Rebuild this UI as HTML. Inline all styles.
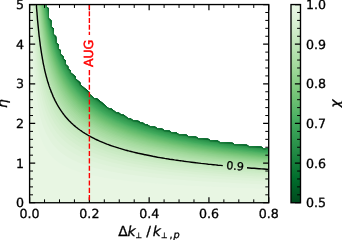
<!DOCTYPE html><html><head><meta charset="utf-8"><title>chi map</title><style>html,body{margin:0;padding:0;background:#fff}svg{text-rendering:geometricPrecision;font-family:"DejaVu Sans","Liberation Sans",sans-serif}</style></head><body><svg width="342" height="240" viewBox="0 0 342 240" style="display:block">
<defs><linearGradient id="cb" x1="0" y1="0" x2="0" y2="1">
<stop offset="0.0000" stop-color="#e9f7e5"/>
<stop offset="0.0312" stop-color="#e5f5e1"/>
<stop offset="0.0625" stop-color="#dff3da"/>
<stop offset="0.0938" stop-color="#d9f0d3"/>
<stop offset="0.1250" stop-color="#d2edcc"/>
<stop offset="0.1562" stop-color="#cbeac4"/>
<stop offset="0.1875" stop-color="#c3e7bc"/>
<stop offset="0.2188" stop-color="#bbe4b4"/>
<stop offset="0.2500" stop-color="#b2e0ac"/>
<stop offset="0.2812" stop-color="#aadda4"/>
<stop offset="0.3125" stop-color="#a2d99c"/>
<stop offset="0.3438" stop-color="#98d594"/>
<stop offset="0.3750" stop-color="#8ed08b"/>
<stop offset="0.4062" stop-color="#84cc83"/>
<stop offset="0.4375" stop-color="#7ac77b"/>
<stop offset="0.4688" stop-color="#70c274"/>
<stop offset="0.5000" stop-color="#65bd6f"/>
<stop offset="0.5312" stop-color="#5ab769"/>
<stop offset="0.5625" stop-color="#4eb264"/>
<stop offset="0.5938" stop-color="#42ab5d"/>
<stop offset="0.6250" stop-color="#3ba458"/>
<stop offset="0.6562" stop-color="#349d53"/>
<stop offset="0.6875" stop-color="#2e964d"/>
<stop offset="0.7188" stop-color="#278f48"/>
<stop offset="0.7500" stop-color="#208843"/>
<stop offset="0.7812" stop-color="#18823d"/>
<stop offset="0.8125" stop-color="#117b38"/>
<stop offset="0.8438" stop-color="#097532"/>
<stop offset="0.8750" stop-color="#016e2d"/>
<stop offset="0.9062" stop-color="#006529"/>
<stop offset="0.9375" stop-color="#005c25"/>
<stop offset="0.9688" stop-color="#005321"/>
<stop offset="1.0000" stop-color="#004a1e"/>
</linearGradient><clipPath id="axc"><rect x="29.6" y="4.55" width="239.1" height="198.2"/></clipPath></defs>
<rect width="342" height="240" fill="#fff"/>
<g clip-path="url(#axc)">
<path fill="#004c1e" d="M32 202.8L34.4 202.8L36.8 202.8L39.3 202.8L41.7 202.8L44.1 202.8L46.5 202.8L48.9 202.8L51.3 202.8L53.8 202.8L56.2 202.8L58.6 202.8L61 202.8L63.4 202.8L65.8 202.8L68.2 202.8L70.7 202.8L73.1 202.8L75.5 202.8L77.9 202.8L80.3 202.8L82.7 202.8L85.1 202.8L87.6 202.8L90 202.8L92.4 202.8L94.8 202.8L97.2 202.8L99.6 202.8L102.1 202.8L104.5 202.8L106.9 202.8L109.3 202.8L111.7 202.8L114.1 202.8L116.5 202.8L119 202.8L121.4 202.8L123.8 202.8L126.2 202.8L128.6 202.8L131 202.8L133.5 202.8L135.9 202.8L138.3 202.8L140.7 202.8L143.1 202.8L145.5 202.8L147.9 202.8L150.4 202.8L152.8 202.8L155.2 202.8L157.6 202.8L160 202.8L162.4 202.8L164.8 202.8L167.3 202.8L169.7 202.8L172.1 202.8L174.5 202.8L176.9 202.8L179.3 202.8L181.8 202.8L184.2 202.8L186.6 202.8L189 202.8L191.4 202.8L193.8 202.8L196.2 202.8L198.7 202.8L201.1 202.8L203.5 202.8L205.9 202.8L208.3 202.8L210.7 202.8L213.2 202.8L215.6 202.8L218 202.8L220.4 202.8L222.8 202.8L225.2 202.8L227.6 202.8L230.1 202.8L232.5 202.8L234.9 202.8L237.3 202.8L239.7 202.8L242.1 202.8L244.5 202.8L247 202.8L249.4 202.8L251.8 202.8L254.2 202.8L256.6 202.8L259 202.8L261.5 202.8L263.9 202.8L266.3 202.8L268.7 202.8L268.7 200.7L268.7 198.7L268.7 196.7L268.7 194.7L268.7 192.7L268.7 190.7L268.7 188.7L268.7 186.7L268.7 184.7L268.7 182.7L268.7 180.7L268.7 178.7L268.7 176.7L268.7 174.7L268.7 172.7L268.7 170.7L268.7 168.7L268.7 166.7L268.7 164.7L268.7 162.7L268.7 160.7L268.7 158.7L268.7 156.7L268.7 154.7L268.7 152.7L268.7 150.7L268.7 148.7L266.3 148.7L263.9 148.7L261.5 146.7L259 146.7L256.6 146.7L254.2 146.7L251.8 146.7L249.4 146.7L247 144.7L244.5 144.7L242.1 144.7L239.7 144.7L237.3 144.7L234.9 144.7L232.5 142.7L230.1 142.7L227.6 142.7L225.2 142.7L222.8 142.7L220.4 142.7L218 140.7L215.6 140.7L213.2 140.7L210.7 140.7L208.3 138.7L205.9 138.7L203.5 138.7L201.1 138.7L198.7 138.7L196.2 136.7L193.8 136.7L191.4 136.7L189 136.7L186.6 134.7L184.2 134.7L181.8 134.7L179.3 134.7L176.9 132.7L174.5 132.7L172.1 132.7L169.7 130.7L167.3 130.7L164.8 130.7L162.4 128.7L160 128.7L157.6 128.7L155.2 126.7L152.8 126.7L150.4 126.7L147.9 124.7L145.5 124.7L143.1 122.7L140.7 122.7L138.3 120.7L135.9 120.7L133.5 120.7L131 118.7L128.6 118.7L126.2 116.7L123.8 114.7L121.4 114.7L119 112.7L116.5 112.7L114.1 110.7L111.7 108.7L109.3 108.7L106.9 106.7L104.5 104.7L102.1 102.6L99.6 100.6L97.2 98.6L94.8 98.6L92.4 96.6L90 94.6L90 92.6L87.6 90.6L85.1 88.6L82.7 86.6L80.3 84.6L80.3 82.6L77.9 80.6L75.5 78.6L75.5 76.6L73.1 74.6L70.7 72.6L70.7 70.6L68.2 68.6L68.2 66.6L65.8 64.6L65.8 62.6L65.8 60.6L63.4 58.6L63.4 56.6L61 54.6L61 52.6L61 50.6L58.6 48.6L58.6 46.6L58.6 44.6L56.2 42.6L56.2 40.6L56.2 38.6L56.2 36.6L53.8 34.6L53.8 32.6L53.8 30.6L53.8 28.6L51.3 26.6L51.3 24.6L51.3 22.6L51.3 20.6L48.9 18.6L48.9 16.6L48.9 14.6L48.9 12.6L48.9 10.6L48.9 8.6L46.5 6.6L46.5 4.6L44.1 4.6L41.7 4.6L39.3 4.6L36.8 4.6L34.4 4.6L32 4.6L29.6 4.6L29.6 6.6L29.6 8.6L29.6 10.6L29.6 12.6L29.6 14.6L29.6 16.6L29.6 18.6L29.6 20.6L29.6 22.6L29.6 24.6L29.6 26.6L29.6 28.6L29.6 30.6L29.6 32.6L29.6 34.6L29.6 36.6L29.6 38.6L29.6 40.6L29.6 42.6L29.6 44.6L29.6 46.6L29.6 48.6L29.6 50.6L29.6 52.6L29.6 54.6L29.6 56.6L29.6 58.6L29.6 60.6L29.6 62.6L29.6 64.6L29.6 66.6L29.6 68.6L29.6 70.6L29.6 72.6L29.6 74.6L29.6 76.6L29.6 78.6L29.6 80.6L29.6 82.6L29.6 84.6L29.6 86.6L29.6 88.6L29.6 90.6L29.6 92.6L29.6 94.6L29.6 96.6L29.6 98.6L29.6 100.6L29.6 102.6L29.6 104.7L29.6 106.7L29.6 108.7L29.6 110.7L29.6 112.7L29.6 114.7L29.6 116.7L29.6 118.7L29.6 120.7L29.6 122.7L29.6 124.7L29.6 126.7L29.6 128.7L29.6 130.7L29.6 132.7L29.6 134.7L29.6 136.7L29.6 138.7L29.6 140.7L29.6 142.7L29.6 144.7L29.6 146.7L29.6 148.7L29.6 150.7L29.6 152.7L29.6 154.7L29.6 156.7L29.6 158.7L29.6 160.7L29.6 162.7L29.6 164.7L29.6 166.7L29.6 168.7L29.6 170.7L29.6 172.7L29.6 174.7L29.6 176.7L29.6 178.7L29.6 180.7L29.6 182.7L29.6 184.7L29.6 186.7L29.6 188.7L29.6 190.7L29.6 192.7L29.6 194.7L29.6 196.7L29.6 198.7L29.6 200.7L29.6 202.8L32 202.8Z"/>
<path fill="#005221" d="M32 202.8L34.4 202.8L36.8 202.8L39.3 202.8L41.7 202.8L44.1 202.8L46.5 202.8L48.9 202.8L51.3 202.8L53.8 202.8L56.2 202.8L58.6 202.8L61 202.8L63.4 202.8L65.8 202.8L68.2 202.8L70.7 202.8L73.1 202.8L75.5 202.8L77.9 202.8L80.3 202.8L82.7 202.8L85.1 202.8L87.6 202.8L90 202.8L92.4 202.8L94.8 202.8L97.2 202.8L99.6 202.8L102.1 202.8L104.5 202.8L106.9 202.8L109.3 202.8L111.7 202.8L114.1 202.8L116.5 202.8L119 202.8L121.4 202.8L123.8 202.8L126.2 202.8L128.6 202.8L131 202.8L133.5 202.8L135.9 202.8L138.3 202.8L140.7 202.8L143.1 202.8L145.5 202.8L147.9 202.8L150.4 202.8L152.8 202.8L155.2 202.8L157.6 202.8L160 202.8L162.4 202.8L164.8 202.8L167.3 202.8L169.7 202.8L172.1 202.8L174.5 202.8L176.9 202.8L179.3 202.8L181.8 202.8L184.2 202.8L186.6 202.8L189 202.8L191.4 202.8L193.8 202.8L196.2 202.8L198.7 202.8L201.1 202.8L203.5 202.8L205.9 202.8L208.3 202.8L210.7 202.8L213.2 202.8L215.6 202.8L218 202.8L220.4 202.8L222.8 202.8L225.2 202.8L227.6 202.8L230.1 202.8L232.5 202.8L234.9 202.8L237.3 202.8L239.7 202.8L242.1 202.8L244.5 202.8L247 202.8L249.4 202.8L251.8 202.8L254.2 202.8L256.6 202.8L259 202.8L261.5 202.8L263.9 202.8L266.3 202.8L268.7 202.8L268.7 200.7L268.7 198.7L268.7 196.7L268.7 194.7L268.7 192.7L268.7 190.7L268.7 188.7L268.7 186.7L268.7 184.7L268.7 182.7L268.7 180.7L268.7 178.7L268.7 176.7L268.7 174.7L268.7 172.7L268.7 170.7L268.7 168.7L268.7 166.7L268.7 164.7L268.7 162.7L268.7 160.7L268.7 158.7L268.7 156.7L268.7 154.7L268.7 152.7L268.7 150.7L268.7 148.7L266.3 148.7L263.9 148.7L261.5 146.7L259 146.7L256.6 146.7L254.2 146.7L251.8 146.7L249.4 146.7L247 144.7L244.5 144.7L242.1 144.7L239.7 144.7L237.3 144.7L234.9 144.7L232.5 142.7L230.1 142.7L227.6 142.7L225.2 142.7L222.8 142.7L220.4 142.7L218 140.7L215.6 140.7L213.2 140.7L210.7 140.7L208.3 138.7L205.9 138.7L203.5 138.7L201.1 138.7L198.7 138.7L196.2 136.7L193.8 136.7L191.4 136.7L189 136.7L186.6 134.7L184.2 134.7L181.8 134.7L179.3 134.7L176.9 132.7L174.5 132.7L172.1 132.7L169.7 130.7L167.3 130.7L164.8 130.7L162.4 128.7L160 128.7L157.6 128.7L155.2 126.7L152.8 126.7L150.4 126.7L147.9 124.7L145.5 124.7L143.1 122.7L140.7 122.7L138.3 120.7L135.9 120.7L133.5 120.7L131 118.7L128.6 118.7L126.2 116.7L123.8 114.7L121.4 114.7L119 112.7L116.5 112.7L114.1 110.7L111.7 108.7L109.3 108.7L106.9 106.7L104.5 104.7L102.1 102.6L99.6 100.6L97.2 98.6L94.8 98.6L92.4 96.6L90 94.6L90 92.6L87.6 90.6L85.1 88.6L82.7 86.6L80.3 84.6L80.3 82.6L77.9 80.6L75.5 78.6L75.5 76.6L73.1 74.6L70.7 72.6L70.7 70.6L68.2 68.6L68.2 66.6L65.8 64.6L65.8 62.6L65.8 60.6L63.4 58.6L63.4 56.6L61 54.6L61 52.6L61 50.6L58.6 48.6L58.6 46.6L58.6 44.6L56.2 42.6L56.2 40.6L56.2 38.6L56.2 36.6L53.8 34.6L53.8 32.6L53.8 30.6L53.8 28.6L51.3 26.6L51.3 24.6L51.3 22.6L51.3 20.6L48.9 18.6L48.9 16.6L48.9 14.6L48.9 12.6L48.9 10.6L48.9 8.6L46.5 6.6L46.5 4.6L44.1 4.6L41.7 4.6L39.3 4.6L36.8 4.6L34.4 4.6L32 4.6L29.6 4.6L29.6 6.6L29.6 8.6L29.6 10.6L29.6 12.6L29.6 14.6L29.6 16.6L29.6 18.6L29.6 20.6L29.6 22.6L29.6 24.6L29.6 26.6L29.6 28.6L29.6 30.6L29.6 32.6L29.6 34.6L29.6 36.6L29.6 38.6L29.6 40.6L29.6 42.6L29.6 44.6L29.6 46.6L29.6 48.6L29.6 50.6L29.6 52.6L29.6 54.6L29.6 56.6L29.6 58.6L29.6 60.6L29.6 62.6L29.6 64.6L29.6 66.6L29.6 68.6L29.6 70.6L29.6 72.6L29.6 74.6L29.6 76.6L29.6 78.6L29.6 80.6L29.6 82.6L29.6 84.6L29.6 86.6L29.6 88.6L29.6 90.6L29.6 92.6L29.6 94.6L29.6 96.6L29.6 98.6L29.6 100.6L29.6 102.6L29.6 104.7L29.6 106.7L29.6 108.7L29.6 110.7L29.6 112.7L29.6 114.7L29.6 116.7L29.6 118.7L29.6 120.7L29.6 122.7L29.6 124.7L29.6 126.7L29.6 128.7L29.6 130.7L29.6 132.7L29.6 134.7L29.6 136.7L29.6 138.7L29.6 140.7L29.6 142.7L29.6 144.7L29.6 146.7L29.6 148.7L29.6 150.7L29.6 152.7L29.6 154.7L29.6 156.7L29.6 158.7L29.6 160.7L29.6 162.7L29.6 164.7L29.6 166.7L29.6 168.7L29.6 170.7L29.6 172.7L29.6 174.7L29.6 176.7L29.6 178.7L29.6 180.7L29.6 182.7L29.6 184.7L29.6 186.7L29.6 188.7L29.6 190.7L29.6 192.7L29.6 194.7L29.6 196.7L29.6 198.7L29.6 200.7L29.6 202.8L32 202.8Z"/>
<path fill="#005723" d="M32 202.8L34.4 202.8L36.8 202.8L39.3 202.8L41.7 202.8L44.1 202.8L46.5 202.8L48.9 202.8L51.3 202.8L53.8 202.8L56.2 202.8L58.6 202.8L61 202.8L63.4 202.8L65.8 202.8L68.2 202.8L70.7 202.8L73.1 202.8L75.5 202.8L77.9 202.8L80.3 202.8L82.7 202.8L85.1 202.8L87.6 202.8L90 202.8L92.4 202.8L94.8 202.8L97.2 202.8L99.6 202.8L102.1 202.8L104.5 202.8L106.9 202.8L109.3 202.8L111.7 202.8L114.1 202.8L116.5 202.8L119 202.8L121.4 202.8L123.8 202.8L126.2 202.8L128.6 202.8L131 202.8L133.5 202.8L135.9 202.8L138.3 202.8L140.7 202.8L143.1 202.8L145.5 202.8L147.9 202.8L150.4 202.8L152.8 202.8L155.2 202.8L157.6 202.8L160 202.8L162.4 202.8L164.8 202.8L167.3 202.8L169.7 202.8L172.1 202.8L174.5 202.8L176.9 202.8L179.3 202.8L181.8 202.8L184.2 202.8L186.6 202.8L189 202.8L191.4 202.8L193.8 202.8L196.2 202.8L198.7 202.8L201.1 202.8L203.5 202.8L205.9 202.8L208.3 202.8L210.7 202.8L213.2 202.8L215.6 202.8L218 202.8L220.4 202.8L222.8 202.8L225.2 202.8L227.6 202.8L230.1 202.8L232.5 202.8L234.9 202.8L237.3 202.8L239.7 202.8L242.1 202.8L244.5 202.8L247 202.8L249.4 202.8L251.8 202.8L254.2 202.8L256.6 202.8L259 202.8L261.5 202.8L263.9 202.8L266.3 202.8L268.7 202.8L268.7 200.7L268.7 198.7L268.7 196.7L268.7 194.7L268.7 192.7L268.7 190.7L268.7 188.7L268.7 186.7L268.7 184.7L268.7 182.7L268.7 180.7L268.7 178.7L268.7 176.7L268.7 174.7L268.7 172.7L268.7 170.7L268.7 168.7L268.7 166.7L268.7 164.7L268.7 162.7L268.7 160.7L268.7 158.7L268.7 156.7L268.7 154.7L268.7 152.7L268.7 150.7L268.7 148.7L266.3 148.7L263.9 148.7L261.5 146.7L259 146.7L256.6 146.7L254.2 146.7L251.8 146.7L249.4 146.7L247 144.7L244.5 144.7L242.1 144.7L239.7 144.7L237.3 144.7L234.9 144.7L232.5 142.7L230.1 142.7L227.6 142.7L225.2 142.7L222.8 142.7L220.4 142.7L218 140.7L215.6 140.7L213.2 140.7L210.7 140.7L208.3 138.7L205.9 138.7L203.5 138.7L201.1 138.7L198.7 138.7L196.2 136.7L193.8 136.7L191.4 136.7L189 136.7L186.6 134.7L184.2 134.7L181.8 134.7L179.3 134.7L176.9 132.7L174.5 132.7L172.1 132.7L169.7 130.7L167.3 130.7L164.8 130.7L162.4 128.7L160 128.7L157.6 128.7L155.2 126.7L152.8 126.7L150.4 126.7L147.9 124.7L145.5 124.7L143.1 122.7L140.7 122.7L138.3 120.7L135.9 120.7L133.5 120.7L131 118.7L128.6 118.7L126.2 116.7L123.8 114.7L121.4 114.7L119 112.7L116.5 112.7L114.1 110.7L111.7 108.7L109.3 108.7L106.9 106.7L104.5 104.7L102.1 102.6L99.6 100.6L97.2 98.6L94.8 98.6L92.4 96.6L90 94.6L90 92.6L87.6 90.6L85.1 88.6L82.7 86.6L80.3 84.6L80.3 82.6L77.9 80.6L75.5 78.6L75.5 76.6L73.1 74.6L70.7 72.6L70.7 70.6L68.2 68.6L68.2 66.6L65.8 64.6L65.8 62.6L65.8 60.6L63.4 58.6L63.4 56.6L61 54.6L61 52.6L61 50.6L58.6 48.6L58.6 46.6L58.6 44.6L56.2 42.6L56.2 40.6L56.2 38.6L56.2 36.6L53.8 34.6L53.8 32.6L53.8 30.6L53.8 28.6L51.3 26.6L51.3 24.6L51.3 22.6L51.3 20.6L48.9 18.6L48.9 16.6L48.9 14.6L48.9 12.6L48.9 10.6L48.9 8.6L46.5 6.6L46.5 4.6L44.1 4.6L41.7 4.6L39.3 4.6L36.8 4.6L34.4 4.6L32 4.6L29.6 4.6L29.6 6.6L29.6 8.6L29.6 10.6L29.6 12.6L29.6 14.6L29.6 16.6L29.6 18.6L29.6 20.6L29.6 22.6L29.6 24.6L29.6 26.6L29.6 28.6L29.6 30.6L29.6 32.6L29.6 34.6L29.6 36.6L29.6 38.6L29.6 40.6L29.6 42.6L29.6 44.6L29.6 46.6L29.6 48.6L29.6 50.6L29.6 52.6L29.6 54.6L29.6 56.6L29.6 58.6L29.6 60.6L29.6 62.6L29.6 64.6L29.6 66.6L29.6 68.6L29.6 70.6L29.6 72.6L29.6 74.6L29.6 76.6L29.6 78.6L29.6 80.6L29.6 82.6L29.6 84.6L29.6 86.6L29.6 88.6L29.6 90.6L29.6 92.6L29.6 94.6L29.6 96.6L29.6 98.6L29.6 100.6L29.6 102.6L29.6 104.7L29.6 106.7L29.6 108.7L29.6 110.7L29.6 112.7L29.6 114.7L29.6 116.7L29.6 118.7L29.6 120.7L29.6 122.7L29.6 124.7L29.6 126.7L29.6 128.7L29.6 130.7L29.6 132.7L29.6 134.7L29.6 136.7L29.6 138.7L29.6 140.7L29.6 142.7L29.6 144.7L29.6 146.7L29.6 148.7L29.6 150.7L29.6 152.7L29.6 154.7L29.6 156.7L29.6 158.7L29.6 160.7L29.6 162.7L29.6 164.7L29.6 166.7L29.6 168.7L29.6 170.7L29.6 172.7L29.6 174.7L29.6 176.7L29.6 178.7L29.6 180.7L29.6 182.7L29.6 184.7L29.6 186.7L29.6 188.7L29.6 190.7L29.6 192.7L29.6 194.7L29.6 196.7L29.6 198.7L29.6 200.7L29.6 202.8L32 202.8Z"/>
<path fill="#005e26" d="M32 202.8L34.4 202.8L36.8 202.8L39.3 202.8L41.7 202.8L44.1 202.8L46.5 202.8L48.9 202.8L51.3 202.8L53.8 202.8L56.2 202.8L58.6 202.8L61 202.8L63.4 202.8L65.8 202.8L68.2 202.8L70.7 202.8L73.1 202.8L75.5 202.8L77.9 202.8L80.3 202.8L82.7 202.8L85.1 202.8L87.6 202.8L90 202.8L92.4 202.8L94.8 202.8L97.2 202.8L99.6 202.8L102.1 202.8L104.5 202.8L106.9 202.8L109.3 202.8L111.7 202.8L114.1 202.8L116.5 202.8L119 202.8L121.4 202.8L123.8 202.8L126.2 202.8L128.6 202.8L131 202.8L133.5 202.8L135.9 202.8L138.3 202.8L140.7 202.8L143.1 202.8L145.5 202.8L147.9 202.8L150.4 202.8L152.8 202.8L155.2 202.8L157.6 202.8L160 202.8L162.4 202.8L164.8 202.8L167.3 202.8L169.7 202.8L172.1 202.8L174.5 202.8L176.9 202.8L179.3 202.8L181.8 202.8L184.2 202.8L186.6 202.8L189 202.8L191.4 202.8L193.8 202.8L196.2 202.8L198.7 202.8L201.1 202.8L203.5 202.8L205.9 202.8L208.3 202.8L210.7 202.8L213.2 202.8L215.6 202.8L218 202.8L220.4 202.8L222.8 202.8L225.2 202.8L227.6 202.8L230.1 202.8L232.5 202.8L234.9 202.8L237.3 202.8L239.7 202.8L242.1 202.8L244.5 202.8L247 202.8L249.4 202.8L251.8 202.8L254.2 202.8L256.6 202.8L259 202.8L261.5 202.8L263.9 202.8L266.3 202.8L268.7 202.8L268.7 200.7L268.7 198.7L268.7 196.7L268.7 194.7L268.7 192.7L268.7 190.7L268.7 188.7L268.7 186.7L268.7 184.7L268.7 182.7L268.7 180.7L268.7 178.7L268.7 176.7L268.7 174.7L268.7 172.7L268.7 170.7L268.7 168.7L268.7 166.7L268.7 164.7L268.7 162.7L268.7 160.7L268.7 158.7L268.7 156.7L268.7 154.7L268.7 152.7L268.7 150.7L268.7 148.7L266.3 148.7L263.9 148.7L261.5 146.7L259 146.7L256.6 146.7L254.2 146.7L251.8 146.7L249.4 146.7L247 144.7L244.5 144.7L242.1 144.7L239.7 144.7L237.3 144.7L234.9 144.7L232.5 142.7L230.1 142.7L227.6 142.7L225.2 142.7L222.8 142.7L220.4 142.7L218 140.7L215.6 140.7L213.2 140.7L210.7 140.7L208.3 138.7L205.9 138.7L203.5 138.7L201.1 138.7L198.7 138.7L196.2 136.7L193.8 136.7L191.4 136.7L189 136.7L186.6 134.7L184.2 134.7L181.8 134.7L179.3 134.7L176.9 132.7L174.5 132.7L172.1 132.7L169.7 130.7L167.3 130.7L164.8 130.7L162.4 128.7L160 128.7L157.6 128.7L155.2 126.7L152.8 126.7L150.4 126.7L147.9 124.7L145.5 124.7L143.1 122.7L140.7 122.7L138.3 120.7L135.9 120.7L133.5 120.7L131 118.7L128.6 118.7L126.2 116.7L123.8 114.7L121.4 114.7L119 112.7L116.5 112.7L114.1 110.7L111.7 108.7L109.3 108.7L106.9 106.7L104.5 104.7L102.1 102.6L99.6 100.6L97.2 98.6L94.8 98.6L92.4 96.6L90 94.6L90 92.6L87.6 90.6L85.1 88.6L82.7 86.6L80.3 84.6L80.3 82.6L77.9 80.6L75.5 78.6L75.5 76.6L73.1 74.6L70.7 72.6L70.7 70.6L68.2 68.6L68.2 66.6L65.8 64.6L65.8 62.6L65.8 60.6L63.4 58.6L63.4 56.6L61 54.6L61 52.6L61 50.6L58.6 48.6L58.6 46.6L58.6 44.6L56.2 42.6L56.2 40.6L56.2 38.6L56.2 36.6L53.8 34.6L53.8 32.6L53.8 30.6L53.8 28.6L51.3 26.6L51.3 24.6L51.3 22.6L51.3 20.6L48.9 18.6L48.9 16.6L48.9 14.6L48.9 12.6L48.9 10.6L48.9 8.6L46.5 6.6L46.5 4.6L44.1 4.6L41.7 4.6L39.3 4.6L36.8 4.6L34.4 4.6L32 4.6L29.6 4.6L29.6 6.6L29.6 8.6L29.6 10.6L29.6 12.6L29.6 14.6L29.6 16.6L29.6 18.6L29.6 20.6L29.6 22.6L29.6 24.6L29.6 26.6L29.6 28.6L29.6 30.6L29.6 32.6L29.6 34.6L29.6 36.6L29.6 38.6L29.6 40.6L29.6 42.6L29.6 44.6L29.6 46.6L29.6 48.6L29.6 50.6L29.6 52.6L29.6 54.6L29.6 56.6L29.6 58.6L29.6 60.6L29.6 62.6L29.6 64.6L29.6 66.6L29.6 68.6L29.6 70.6L29.6 72.6L29.6 74.6L29.6 76.6L29.6 78.6L29.6 80.6L29.6 82.6L29.6 84.6L29.6 86.6L29.6 88.6L29.6 90.6L29.6 92.6L29.6 94.6L29.6 96.6L29.6 98.6L29.6 100.6L29.6 102.6L29.6 104.7L29.6 106.7L29.6 108.7L29.6 110.7L29.6 112.7L29.6 114.7L29.6 116.7L29.6 118.7L29.6 120.7L29.6 122.7L29.6 124.7L29.6 126.7L29.6 128.7L29.6 130.7L29.6 132.7L29.6 134.7L29.6 136.7L29.6 138.7L29.6 140.7L29.6 142.7L29.6 144.7L29.6 146.7L29.6 148.7L29.6 150.7L29.6 152.7L29.6 154.7L29.6 156.7L29.6 158.7L29.6 160.7L29.6 162.7L29.6 164.7L29.6 166.7L29.6 168.7L29.6 170.7L29.6 172.7L29.6 174.7L29.6 176.7L29.6 178.7L29.6 180.7L29.6 182.7L29.6 184.7L29.6 186.7L29.6 188.7L29.6 190.7L29.6 192.7L29.6 194.7L29.6 196.7L29.6 198.7L29.6 200.7L29.6 202.8L32 202.8Z"/>
<path fill="#006428" d="M32 202.8L34.4 202.8L36.8 202.8L39.3 202.8L41.7 202.8L44.1 202.8L46.5 202.8L48.9 202.8L51.3 202.8L53.8 202.8L56.2 202.8L58.6 202.8L61 202.8L63.4 202.8L65.8 202.8L68.2 202.8L70.7 202.8L73.1 202.8L75.5 202.8L77.9 202.8L80.3 202.8L82.7 202.8L85.1 202.8L87.6 202.8L90 202.8L92.4 202.8L94.8 202.8L97.2 202.8L99.6 202.8L102.1 202.8L104.5 202.8L106.9 202.8L109.3 202.8L111.7 202.8L114.1 202.8L116.5 202.8L119 202.8L121.4 202.8L123.8 202.8L126.2 202.8L128.6 202.8L131 202.8L133.5 202.8L135.9 202.8L138.3 202.8L140.7 202.8L143.1 202.8L145.5 202.8L147.9 202.8L150.4 202.8L152.8 202.8L155.2 202.8L157.6 202.8L160 202.8L162.4 202.8L164.8 202.8L167.3 202.8L169.7 202.8L172.1 202.8L174.5 202.8L176.9 202.8L179.3 202.8L181.8 202.8L184.2 202.8L186.6 202.8L189 202.8L191.4 202.8L193.8 202.8L196.2 202.8L198.7 202.8L201.1 202.8L203.5 202.8L205.9 202.8L208.3 202.8L210.7 202.8L213.2 202.8L215.6 202.8L218 202.8L220.4 202.8L222.8 202.8L225.2 202.8L227.6 202.8L230.1 202.8L232.5 202.8L234.9 202.8L237.3 202.8L239.7 202.8L242.1 202.8L244.5 202.8L247 202.8L249.4 202.8L251.8 202.8L254.2 202.8L256.6 202.8L259 202.8L261.5 202.8L263.9 202.8L266.3 202.8L268.7 202.8L268.7 200.7L268.7 198.7L268.7 196.7L268.7 194.7L268.7 192.7L268.7 190.7L268.7 188.7L268.7 186.7L268.7 184.7L268.7 182.7L268.7 180.7L268.7 178.7L268.7 176.7L268.7 174.7L268.7 172.7L268.7 170.7L268.7 168.7L268.7 166.7L268.7 164.7L268.7 162.7L268.7 160.7L268.7 158.7L268.7 156.7L268.7 154.7L268.7 152.7L268.7 150.7L268.7 148.7L266.3 148.7L263.9 148.7L261.5 146.7L259 146.7L256.6 146.7L254.2 146.7L251.8 146.7L249.4 146.7L247 144.7L246.8 144.7L244.5 144.7L242.1 144.7L239.7 144.7L237.3 144.7L234.9 144.7L232.5 142.7L230.1 142.7L227.6 142.7L225.2 142.7L222.8 142.7L220.4 142.7L218 140.7L215.6 140.7L213.2 140.7L210.7 140.7L208.4 138.8L208.3 138.8L208 138.7L205.9 138.7L203.5 138.7L201.1 138.7L198.7 138.7L196.2 136.7L193.8 136.7L191.4 136.7L189 136.7L186.6 134.7L184.2 134.7L181.8 134.7L179.3 134.7L176.9 132.7L174.5 132.7L172.1 132.7L169.7 130.7L167.3 130.7L164.8 130.7L162.4 128.7L160 128.7L157.6 128.7L155.2 126.7L152.8 126.7L150.4 126.7L147.9 124.7L145.5 124.7L143.1 122.7L140.7 122.7L138.3 120.7L135.9 120.7L133.5 120.7L131 118.7L128.6 118.7L126.2 116.7L123.8 114.7L121.4 114.7L119 112.7L116.5 112.7L114.1 110.7L111.7 108.7L109.3 108.7L106.9 106.7L104.5 104.7L102.1 102.6L99.6 100.6L97.8 99.2L97.2 98.7L97.1 98.6L94.8 98.6L92.4 96.6L90 94.6L90 92.6L87.6 90.6L85.1 88.6L82.7 86.6L80.3 84.6L80.3 82.6L77.9 80.6L75.5 78.6L75.5 76.6L73.1 74.6L70.7 72.6L70.7 70.6L68.2 68.6L68.2 66.6L65.8 64.6L65.8 62.6L65.8 60.6L63.4 58.6L63.4 56.6L61 54.6L61 52.6L61 50.6L58.6 48.6L58.6 46.6L58.6 44.6L56.2 42.6L56.2 40.6L56.2 38.6L56.2 36.8L56.1 36.6L56.1 36.5L53.8 34.6L53.8 32.6L53.8 30.6L53.8 28.6L53.7 28.6L53.7 28.5L51.3 26.6L51.3 24.6L51.3 22.6L51.3 20.6L48.9 18.6L48.9 16.6L48.9 14.6L48.9 12.6L48.9 10.6L48.9 8.6L46.5 6.6L46.5 4.6L44.1 4.6L41.7 4.6L39.3 4.6L36.8 4.6L34.4 4.6L32 4.6L29.6 4.6L29.6 6.6L29.6 8.6L29.6 10.6L29.6 12.6L29.6 14.6L29.6 16.6L29.6 18.6L29.6 20.6L29.6 22.6L29.6 24.6L29.6 26.6L29.6 28.6L29.6 30.6L29.6 32.6L29.6 34.6L29.6 36.6L29.6 38.6L29.6 40.6L29.6 42.6L29.6 44.6L29.6 46.6L29.6 48.6L29.6 50.6L29.6 52.6L29.6 54.6L29.6 56.6L29.6 58.6L29.6 60.6L29.6 62.6L29.6 64.6L29.6 66.6L29.6 68.6L29.6 70.6L29.6 72.6L29.6 74.6L29.6 76.6L29.6 78.6L29.6 80.6L29.6 82.6L29.6 84.6L29.6 86.6L29.6 88.6L29.6 90.6L29.6 92.6L29.6 94.6L29.6 96.6L29.6 98.6L29.6 100.6L29.6 102.6L29.6 104.7L29.6 106.7L29.6 108.7L29.6 110.7L29.6 112.7L29.6 114.7L29.6 116.7L29.6 118.7L29.6 120.7L29.6 122.7L29.6 124.7L29.6 126.7L29.6 128.7L29.6 130.7L29.6 132.7L29.6 134.7L29.6 136.7L29.6 138.7L29.6 140.7L29.6 142.7L29.6 144.7L29.6 146.7L29.6 148.7L29.6 150.7L29.6 152.7L29.6 154.7L29.6 156.7L29.6 158.7L29.6 160.7L29.6 162.7L29.6 164.7L29.6 166.7L29.6 168.7L29.6 170.7L29.6 172.7L29.6 174.7L29.6 176.7L29.6 178.7L29.6 180.7L29.6 182.7L29.6 184.7L29.6 186.7L29.6 188.7L29.6 190.7L29.6 192.7L29.6 194.7L29.6 196.7L29.6 198.7L29.6 200.7L29.6 202.8L32 202.8Z"/>
<path fill="#00692a" d="M32 202.8L34.4 202.8L36.8 202.8L39.3 202.8L41.7 202.8L44.1 202.8L46.5 202.8L48.9 202.8L51.3 202.8L53.8 202.8L56.2 202.8L58.6 202.8L61 202.8L63.4 202.8L65.8 202.8L68.2 202.8L70.7 202.8L73.1 202.8L75.5 202.8L77.9 202.8L80.3 202.8L82.7 202.8L85.1 202.8L87.6 202.8L90 202.8L92.4 202.8L94.8 202.8L97.2 202.8L99.6 202.8L102.1 202.8L104.5 202.8L106.9 202.8L109.3 202.8L111.7 202.8L114.1 202.8L116.5 202.8L119 202.8L121.4 202.8L123.8 202.8L126.2 202.8L128.6 202.8L131 202.8L133.5 202.8L135.9 202.8L138.3 202.8L140.7 202.8L143.1 202.8L145.5 202.8L147.9 202.8L150.4 202.8L152.8 202.8L155.2 202.8L157.6 202.8L160 202.8L162.4 202.8L164.8 202.8L167.3 202.8L169.7 202.8L172.1 202.8L174.5 202.8L176.9 202.8L179.3 202.8L181.8 202.8L184.2 202.8L186.6 202.8L189 202.8L191.4 202.8L193.8 202.8L196.2 202.8L198.7 202.8L201.1 202.8L203.5 202.8L205.9 202.8L208.3 202.8L210.7 202.8L213.2 202.8L215.6 202.8L218 202.8L220.4 202.8L222.8 202.8L225.2 202.8L227.6 202.8L230.1 202.8L232.5 202.8L234.9 202.8L237.3 202.8L239.7 202.8L242.1 202.8L244.5 202.8L247 202.8L249.4 202.8L251.8 202.8L254.2 202.8L256.6 202.8L259 202.8L261.5 202.8L263.9 202.8L266.3 202.8L268.7 202.8L268.7 200.7L268.7 198.7L268.7 196.7L268.7 194.7L268.7 192.7L268.7 190.7L268.7 188.7L268.7 186.7L268.7 184.7L268.7 182.7L268.7 180.7L268.7 178.7L268.7 176.7L268.7 174.7L268.7 172.7L268.7 170.7L268.7 168.7L268.7 166.7L268.7 164.7L268.7 162.7L268.7 160.7L268.7 158.7L268.7 156.7L268.7 154.7L268.7 152.7L268.7 150.7L268.7 148.7L266.3 148.7L263.9 148.7L261.5 146.7L259 146.7L256.6 146.7L254.2 146.7L251.8 146.7L249.4 146.7L247.2 144.9L247 144.9L245.9 144.7L244.5 144.7L242.1 144.7L239.7 144.7L237.3 144.7L234.9 144.7L232.7 142.9L232.5 142.8L231.8 142.7L230.1 142.7L227.6 142.7L225.2 142.7L222.8 142.7L220.4 142.7L218 140.7L215.6 140.7L213.2 140.7L210.7 140.7L208.7 139L208.3 139L207.3 138.7L205.9 138.7L203.5 138.7L201.1 138.7L198.7 138.7L196.2 136.7L193.8 136.7L191.4 136.7L189 136.7L186.6 134.7L184.2 134.7L181.8 134.7L179.3 134.7L176.9 132.7L174.5 132.7L172.1 132.7L169.7 130.7L167.3 130.7L164.8 130.7L162.4 128.7L160 128.7L157.6 128.7L155.2 126.7L152.8 126.7L150.4 126.7L147.9 124.7L145.5 124.7L143.1 122.7L140.7 122.7L138.7 121L138.3 120.9L137.8 120.7L135.9 120.7L133.5 120.7L131 118.7L128.6 118.7L126.2 116.7L124.1 114.9L123.8 114.8L123.6 114.7L121.4 114.7L119 112.7L116.5 112.7L114.1 110.7L111.7 108.7L109.3 108.7L106.9 106.7L104.5 104.7L102.1 102.6L100.1 101L99.6 100.7L99.5 100.6L97.2 99L96.8 98.6L94.8 98.6L92.4 96.6L90 94.6L90 92.9L89.7 92.6L88.1 91.1L87.6 90.6L85.1 88.6L82.7 86.6L80.3 84.6L80.3 82.9L80.1 82.6L79.8 82.2L77.9 80.6L75.5 78.6L75.5 76.7L75.4 76.6L75.4 76.5L73.1 74.6L70.7 72.6L70.7 70.6L68.2 68.6L68.2 66.6L65.8 64.6L65.8 62.6L65.8 60.9L65.6 60.6L65.6 60.4L63.4 58.6L63.4 56.6L61 54.6L61 52.6L61 50.6L58.6 48.6L58.6 46.6L58.6 44.6L56.2 42.6L56.2 40.6L56.2 38.6L56.2 37.1L55.9 36.6L55.9 36.3L53.8 34.6L53.8 32.6L53.8 30.6L53.8 29L53.5 28.6L53.5 28.4L51.3 26.6L51.3 24.6L51.3 22.6L51.3 20.6L48.9 18.6L48.9 16.6L48.9 14.6L48.9 12.6L48.9 10.6L48.9 8.6L46.5 6.6L46.5 4.6L44.1 4.6L41.7 4.6L39.3 4.6L36.8 4.6L34.4 4.6L32 4.6L29.6 4.6L29.6 6.6L29.6 8.6L29.6 10.6L29.6 12.6L29.6 14.6L29.6 16.6L29.6 18.6L29.6 20.6L29.6 22.6L29.6 24.6L29.6 26.6L29.6 28.6L29.6 30.6L29.6 32.6L29.6 34.6L29.6 36.6L29.6 38.6L29.6 40.6L29.6 42.6L29.6 44.6L29.6 46.6L29.6 48.6L29.6 50.6L29.6 52.6L29.6 54.6L29.6 56.6L29.6 58.6L29.6 60.6L29.6 62.6L29.6 64.6L29.6 66.6L29.6 68.6L29.6 70.6L29.6 72.6L29.6 74.6L29.6 76.6L29.6 78.6L29.6 80.6L29.6 82.6L29.6 84.6L29.6 86.6L29.6 88.6L29.6 90.6L29.6 92.6L29.6 94.6L29.6 96.6L29.6 98.6L29.6 100.6L29.6 102.6L29.6 104.7L29.6 106.7L29.6 108.7L29.6 110.7L29.6 112.7L29.6 114.7L29.6 116.7L29.6 118.7L29.6 120.7L29.6 122.7L29.6 124.7L29.6 126.7L29.6 128.7L29.6 130.7L29.6 132.7L29.6 134.7L29.6 136.7L29.6 138.7L29.6 140.7L29.6 142.7L29.6 144.7L29.6 146.7L29.6 148.7L29.6 150.7L29.6 152.7L29.6 154.7L29.6 156.7L29.6 158.7L29.6 160.7L29.6 162.7L29.6 164.7L29.6 166.7L29.6 168.7L29.6 170.7L29.6 172.7L29.6 174.7L29.6 176.7L29.6 178.7L29.6 180.7L29.6 182.7L29.6 184.7L29.6 186.7L29.6 188.7L29.6 190.7L29.6 192.7L29.6 194.7L29.6 196.7L29.6 198.7L29.6 200.7L29.6 202.8L32 202.8Z"/>
<path fill="#026f2e" d="M32 202.8L34.4 202.8L36.8 202.8L39.3 202.8L41.7 202.8L44.1 202.8L46.5 202.8L48.9 202.8L51.3 202.8L53.8 202.8L56.2 202.8L58.6 202.8L61 202.8L63.4 202.8L65.8 202.8L68.2 202.8L70.7 202.8L73.1 202.8L75.5 202.8L77.9 202.8L80.3 202.8L82.7 202.8L85.1 202.8L87.6 202.8L90 202.8L92.4 202.8L94.8 202.8L97.2 202.8L99.6 202.8L102.1 202.8L104.5 202.8L106.9 202.8L109.3 202.8L111.7 202.8L114.1 202.8L116.5 202.8L119 202.8L121.4 202.8L123.8 202.8L126.2 202.8L128.6 202.8L131 202.8L133.5 202.8L135.9 202.8L138.3 202.8L140.7 202.8L143.1 202.8L145.5 202.8L147.9 202.8L150.4 202.8L152.8 202.8L155.2 202.8L157.6 202.8L160 202.8L162.4 202.8L164.8 202.8L167.3 202.8L169.7 202.8L172.1 202.8L174.5 202.8L176.9 202.8L179.3 202.8L181.8 202.8L184.2 202.8L186.6 202.8L189 202.8L191.4 202.8L193.8 202.8L196.2 202.8L198.7 202.8L201.1 202.8L203.5 202.8L205.9 202.8L208.3 202.8L210.7 202.8L213.2 202.8L215.6 202.8L218 202.8L220.4 202.8L222.8 202.8L225.2 202.8L227.6 202.8L230.1 202.8L232.5 202.8L234.9 202.8L237.3 202.8L239.7 202.8L242.1 202.8L244.5 202.8L247 202.8L249.4 202.8L251.8 202.8L254.2 202.8L256.6 202.8L259 202.8L261.5 202.8L263.9 202.8L266.3 202.8L268.7 202.8L268.7 200.7L268.7 198.7L268.7 196.7L268.7 194.7L268.7 192.7L268.7 190.7L268.7 188.7L268.7 186.7L268.7 184.7L268.7 182.7L268.7 180.7L268.7 178.7L268.7 176.7L268.7 174.7L268.7 172.7L268.7 170.7L268.7 168.7L268.7 166.7L268.7 164.7L268.7 162.7L268.7 160.7L268.7 158.7L268.7 156.7L268.7 154.7L268.7 152.7L268.7 150.7L268.7 148.7L266.3 148.7L263.9 148.7L261.6 146.8L261.5 146.8L260.7 146.7L259 146.7L256.6 146.7L254.2 146.7L251.8 146.7L249.4 146.7L247.5 145.1L247 145.1L245.1 144.7L244.5 144.7L242.1 144.7L239.7 144.7L237.3 144.7L234.9 144.7L232.9 143.1L232.5 143L230.9 142.7L230.1 142.7L227.6 142.7L225.2 142.7L222.8 142.7L220.4 142.7L218 140.7L215.6 140.7L213.2 140.7L210.7 140.7L208.9 139.2L208.3 139.1L206.6 138.7L205.9 138.7L203.5 138.7L201.1 138.7L198.7 138.7L196.3 136.8L196.2 136.8L196 136.7L193.8 136.7L191.4 136.7L189 136.7L186.7 134.8L186.6 134.7L186.4 134.7L184.2 134.7L181.8 134.7L179.3 134.7L176.9 132.7L174.5 132.7L172.1 132.7L169.8 130.8L169.7 130.8L169.4 130.7L167.3 130.7L164.8 130.7L162.7 128.9L162.4 128.9L161.9 128.7L160 128.7L157.6 128.7L155.2 126.7L155.1 126.7L152.8 126.7L150.4 126.7L147.9 124.7L145.5 124.7L143.3 122.8L143.1 122.8L142.8 122.7L140.7 122.7L139.1 121.3L138.3 121.1L137.3 120.7L135.9 120.7L133.5 120.7L131 118.7L128.6 118.7L126.2 116.7L124.6 115.3L123.8 115L123.1 114.7L121.4 114.7L119 112.7L116.5 112.7L114.1 110.7L111.9 108.8L111.7 108.7L111.6 108.7L109.3 108.7L106.9 106.7L104.5 104.7L102.1 102.6L101.8 102.4L99.6 101L99.2 100.6L97.2 99.2L96.5 98.6L94.8 98.6L92.4 96.6L90 94.6L90 93.2L89.4 92.6L87.6 90.8L87.3 90.6L86.6 89.8L85.1 88.6L82.7 86.6L80.3 84.6L80.3 83.2L79.8 82.6L79.1 81.6L77.9 80.6L75.5 78.6L75.5 77L75.2 76.6L74.9 76.1L73.1 74.6L70.7 72.6L70.7 70.6L68.2 68.6L68.2 66.6L65.8 64.6L65.8 62.6L65.8 61.2L65.4 60.6L65.3 60.1L63.4 58.6L63.4 56.6L61 54.6L61 52.6L61 50.6L58.6 48.6L58.6 46.6L58.6 44.6L56.2 42.6L56.2 40.6L56.2 38.6L56.2 37.5L55.7 36.6L55.6 36.1L53.8 34.6L53.8 32.6L53.8 30.6L53.8 29.4L53.3 28.6L53.3 28.2L51.3 26.6L51.3 24.6L51.3 22.6L51.3 20.6L48.9 18.6L48.9 16.6L48.9 14.6L48.9 12.6L48.9 10.6L48.9 8.9L48.8 8.6L48.8 8.4L46.5 6.6L46.5 4.6L44.1 4.6L41.7 4.6L39.3 4.6L36.8 4.6L34.4 4.6L32 4.6L29.6 4.6L29.6 6.6L29.6 8.6L29.6 10.6L29.6 12.6L29.6 14.6L29.6 16.6L29.6 18.6L29.6 20.6L29.6 22.6L29.6 24.6L29.6 26.6L29.6 28.6L29.6 30.6L29.6 32.6L29.6 34.6L29.6 36.6L29.6 38.6L29.6 40.6L29.6 42.6L29.6 44.6L29.6 46.6L29.6 48.6L29.6 50.6L29.6 52.6L29.6 54.6L29.6 56.6L29.6 58.6L29.6 60.6L29.6 62.6L29.6 64.6L29.6 66.6L29.6 68.6L29.6 70.6L29.6 72.6L29.6 74.6L29.6 76.6L29.6 78.6L29.6 80.6L29.6 82.6L29.6 84.6L29.6 86.6L29.6 88.6L29.6 90.6L29.6 92.6L29.6 94.6L29.6 96.6L29.6 98.6L29.6 100.6L29.6 102.6L29.6 104.7L29.6 106.7L29.6 108.7L29.6 110.7L29.6 112.7L29.6 114.7L29.6 116.7L29.6 118.7L29.6 120.7L29.6 122.7L29.6 124.7L29.6 126.7L29.6 128.7L29.6 130.7L29.6 132.7L29.6 134.7L29.6 136.7L29.6 138.7L29.6 140.7L29.6 142.7L29.6 144.7L29.6 146.7L29.6 148.7L29.6 150.7L29.6 152.7L29.6 154.7L29.6 156.7L29.6 158.7L29.6 160.7L29.6 162.7L29.6 164.7L29.6 166.7L29.6 168.7L29.6 170.7L29.6 172.7L29.6 174.7L29.6 176.7L29.6 178.7L29.6 180.7L29.6 182.7L29.6 184.7L29.6 186.7L29.6 188.7L29.6 190.7L29.6 192.7L29.6 194.7L29.6 196.7L29.6 198.7L29.6 200.7L29.6 202.8L32 202.8Z"/>
<path fill="#077331" d="M32 202.8L34.4 202.8L36.8 202.8L39.3 202.8L41.7 202.8L44.1 202.8L46.5 202.8L48.9 202.8L51.3 202.8L53.8 202.8L56.2 202.8L58.6 202.8L61 202.8L63.4 202.8L65.8 202.8L68.2 202.8L70.7 202.8L73.1 202.8L75.5 202.8L77.9 202.8L80.3 202.8L82.7 202.8L85.1 202.8L87.6 202.8L90 202.8L92.4 202.8L94.8 202.8L97.2 202.8L99.6 202.8L102.1 202.8L104.5 202.8L106.9 202.8L109.3 202.8L111.7 202.8L114.1 202.8L116.5 202.8L119 202.8L121.4 202.8L123.8 202.8L126.2 202.8L128.6 202.8L131 202.8L133.5 202.8L135.9 202.8L138.3 202.8L140.7 202.8L143.1 202.8L145.5 202.8L147.9 202.8L150.4 202.8L152.8 202.8L155.2 202.8L157.6 202.8L160 202.8L162.4 202.8L164.8 202.8L167.3 202.8L169.7 202.8L172.1 202.8L174.5 202.8L176.9 202.8L179.3 202.8L181.8 202.8L184.2 202.8L186.6 202.8L189 202.8L191.4 202.8L193.8 202.8L196.2 202.8L198.7 202.8L201.1 202.8L203.5 202.8L205.9 202.8L208.3 202.8L210.7 202.8L213.2 202.8L215.6 202.8L218 202.8L220.4 202.8L222.8 202.8L225.2 202.8L227.6 202.8L230.1 202.8L232.5 202.8L234.9 202.8L237.3 202.8L239.7 202.8L242.1 202.8L244.5 202.8L247 202.8L249.4 202.8L251.8 202.8L254.2 202.8L256.6 202.8L259 202.8L261.5 202.8L263.9 202.8L266.3 202.8L268.7 202.8L268.7 200.7L268.7 198.7L268.7 196.7L268.7 194.7L268.7 192.7L268.7 190.7L268.7 188.7L268.7 186.7L268.7 184.7L268.7 182.7L268.7 180.7L268.7 178.7L268.7 176.7L268.7 174.7L268.7 172.7L268.7 170.7L268.7 168.7L268.7 166.7L268.7 164.7L268.7 162.7L268.7 160.7L268.7 158.7L268.7 156.7L268.7 154.7L268.7 152.7L268.7 150.7L268.7 148.7L266.3 148.7L263.9 148.7L261.9 147.1L261.5 147L259.8 146.7L259 146.7L256.6 146.7L254.2 146.7L251.8 146.7L249.4 146.7L247.7 145.3L247 145.3L244.5 144.8L244.2 144.7L242.1 144.7L239.7 144.7L237.3 144.7L234.9 144.7L233.2 143.3L232.5 143.2L230.1 142.7L227.6 142.7L225.2 142.7L222.8 142.7L220.4 142.7L218.2 140.9L218 140.8L217.4 140.7L215.6 140.7L213.2 140.7L210.7 140.7L209.2 139.4L208.3 139.3L205.9 138.7L205.8 138.7L203.5 138.7L201.1 138.7L198.7 138.7L196.6 137L196.2 137L195.3 136.7L193.8 136.7L191.4 136.7L189 136.7L187 135L186.6 135L185.7 134.7L184.2 134.7L181.8 134.7L179.3 134.7L176.9 132.7L174.5 132.7L172.1 132.7L170.1 131.1L169.7 131L168.8 130.7L167.3 130.7L164.8 130.7L163.1 129.2L162.4 129.1L161.4 128.7L160 128.7L157.6 128.7L155.6 127L155.2 126.9L154.5 126.7L152.8 126.7L150.4 126.7L147.9 124.7L145.5 124.7L143.7 123.2L143.1 123L142.3 122.7L140.7 122.7L139.5 121.7L138.3 121.3L136.9 120.7L135.9 120.7L133.5 120.7L131 118.7L128.6 118.7L126.2 116.7L125.1 115.7L123.8 115.2L122.7 114.7L121.4 114.7L119.4 113L119 112.8L118.7 112.7L116.5 112.7L114.1 110.7L112.6 109.4L111.7 109L111.2 108.7L109.3 108.7L106.9 106.7L104.5 104.7L103.3 103.6L102.1 102.9L101.7 102.6L99.6 101.2L98.9 100.6L97.2 99.5L96.2 98.6L94.8 98.6L92.4 96.6L90 94.6L90 93.4L89.1 92.6L87.6 91.1L87 90.6L85.1 88.6L82.7 86.6L80.3 84.6L80.3 83.4L79.6 82.6L78.5 81.1L77.9 80.6L75.5 78.6L75.5 77.3L74.9 76.6L74.4 75.7L73.1 74.6L70.7 72.6L70.7 70.6L68.2 68.6L68.2 66.6L65.8 64.6L65.8 62.6L65.8 61.5L65.2 60.6L65 59.9L63.4 58.6L63.4 56.6L61 54.6L61 52.6L61 51L60.7 50.6L60.7 50.3L58.6 48.6L58.6 46.6L58.6 44.8L58.5 44.6L58.4 44.5L56.2 42.6L56.2 40.6L56.2 38.6L56.2 37.8L55.5 36.6L55.4 36L53.8 34.6L53.8 32.6L53.8 30.6L53.8 29.8L53.1 28.6L53.1 28L51.3 26.6L51.3 24.6L51.3 22.6L51.3 20.6L48.9 18.6L48.9 16.6L48.9 14.6L48.9 12.6L48.9 10.6L48.9 9.3L48.6 8.6L48.6 8.3L46.5 6.6L46.5 4.6L44.1 4.6L41.7 4.6L39.3 4.6L36.8 4.6L34.4 4.6L32 4.6L29.6 4.6L29.6 6.6L29.6 8.6L29.6 10.6L29.6 12.6L29.6 14.6L29.6 16.6L29.6 18.6L29.6 20.6L29.6 22.6L29.6 24.6L29.6 26.6L29.6 28.6L29.6 30.6L29.6 32.6L29.6 34.6L29.6 36.6L29.6 38.6L29.6 40.6L29.6 42.6L29.6 44.6L29.6 46.6L29.6 48.6L29.6 50.6L29.6 52.6L29.6 54.6L29.6 56.6L29.6 58.6L29.6 60.6L29.6 62.6L29.6 64.6L29.6 66.6L29.6 68.6L29.6 70.6L29.6 72.6L29.6 74.6L29.6 76.6L29.6 78.6L29.6 80.6L29.6 82.6L29.6 84.6L29.6 86.6L29.6 88.6L29.6 90.6L29.6 92.6L29.6 94.6L29.6 96.6L29.6 98.6L29.6 100.6L29.6 102.6L29.6 104.7L29.6 106.7L29.6 108.7L29.6 110.7L29.6 112.7L29.6 114.7L29.6 116.7L29.6 118.7L29.6 120.7L29.6 122.7L29.6 124.7L29.6 126.7L29.6 128.7L29.6 130.7L29.6 132.7L29.6 134.7L29.6 136.7L29.6 138.7L29.6 140.7L29.6 142.7L29.6 144.7L29.6 146.7L29.6 148.7L29.6 150.7L29.6 152.7L29.6 154.7L29.6 156.7L29.6 158.7L29.6 160.7L29.6 162.7L29.6 164.7L29.6 166.7L29.6 168.7L29.6 170.7L29.6 172.7L29.6 174.7L29.6 176.7L29.6 178.7L29.6 180.7L29.6 182.7L29.6 184.7L29.6 186.7L29.6 188.7L29.6 190.7L29.6 192.7L29.6 194.7L29.6 196.7L29.6 198.7L29.6 200.7L29.6 202.8L32 202.8Z"/>
<path fill="#0c7735" d="M32 202.8L34.4 202.8L36.8 202.8L39.3 202.8L41.7 202.8L44.1 202.8L46.5 202.8L48.9 202.8L51.3 202.8L53.8 202.8L56.2 202.8L58.6 202.8L61 202.8L63.4 202.8L65.8 202.8L68.2 202.8L70.7 202.8L73.1 202.8L75.5 202.8L77.9 202.8L80.3 202.8L82.7 202.8L85.1 202.8L87.6 202.8L90 202.8L92.4 202.8L94.8 202.8L97.2 202.8L99.6 202.8L102.1 202.8L104.5 202.8L106.9 202.8L109.3 202.8L111.7 202.8L114.1 202.8L116.5 202.8L119 202.8L121.4 202.8L123.8 202.8L126.2 202.8L128.6 202.8L131 202.8L133.5 202.8L135.9 202.8L138.3 202.8L140.7 202.8L143.1 202.8L145.5 202.8L147.9 202.8L150.4 202.8L152.8 202.8L155.2 202.8L157.6 202.8L160 202.8L162.4 202.8L164.8 202.8L167.3 202.8L169.7 202.8L172.1 202.8L174.5 202.8L176.9 202.8L179.3 202.8L181.8 202.8L184.2 202.8L186.6 202.8L189 202.8L191.4 202.8L193.8 202.8L196.2 202.8L198.7 202.8L201.1 202.8L203.5 202.8L205.9 202.8L208.3 202.8L210.7 202.8L213.2 202.8L215.6 202.8L218 202.8L220.4 202.8L222.8 202.8L225.2 202.8L227.6 202.8L230.1 202.8L232.5 202.8L234.9 202.8L237.3 202.8L239.7 202.8L242.1 202.8L244.5 202.8L247 202.8L249.4 202.8L251.8 202.8L254.2 202.8L256.6 202.8L259 202.8L261.5 202.8L263.9 202.8L266.3 202.8L268.7 202.8L268.7 200.7L268.7 198.7L268.7 196.7L268.7 194.7L268.7 192.7L268.7 190.7L268.7 188.7L268.7 186.7L268.7 184.7L268.7 182.7L268.7 180.7L268.7 178.7L268.7 176.7L268.7 174.7L268.7 172.7L268.7 170.7L268.7 168.7L268.7 166.7L268.7 164.7L268.7 162.7L268.7 160.7L268.7 158.7L268.7 156.7L268.7 154.7L268.7 152.7L268.7 150.7L268.7 148.7L266.3 148.7L263.9 148.7L262.1 147.3L261.5 147.2L259 146.8L258.7 146.7L256.6 146.7L254.2 146.7L251.8 146.7L249.4 146.7L247.9 145.5L247 145.4L244.5 145L243.2 144.7L242.1 144.7L239.7 144.7L237.3 144.7L234.9 144.7L233.4 143.5L232.5 143.4L230.1 142.9L229.2 142.7L227.6 142.7L225.2 142.7L222.8 142.7L220.4 142.7L218.5 141.1L218 141.1L216.5 140.7L215.6 140.7L213.2 140.7L210.7 140.7L209.4 139.6L208.3 139.5L205.9 138.9L205 138.7L203.5 138.7L201.1 138.7L198.7 138.7L196.9 137.3L196.2 137.2L194.5 136.7L193.8 136.7L191.4 136.7L189 136.7L187.3 135.3L186.6 135.2L184.9 134.7L184.2 134.7L181.8 134.7L179.3 134.7L177.3 133L176.9 132.9L176.2 132.7L174.5 132.7L172.1 132.7L170.5 131.3L169.7 131.2L168.2 130.7L167.3 130.7L164.8 130.7L163.4 129.5L162.4 129.3L160.8 128.7L160 128.7L157.6 128.7L156 127.3L155.2 127.2L153.9 126.7L152.8 126.7L150.4 126.7L148.1 124.8L147.9 124.8L147.7 124.7L145.5 124.7L144.1 123.5L143.1 123.3L141.8 122.7L140.7 122.7L139.9 122L138.3 121.5L136.4 120.7L135.9 120.7L133.5 120.7L131 118.7L128.6 118.7L126.2 116.7L125.6 116.2L123.8 115.5L122.3 114.7L121.4 114.7L120 113.5L119 113.1L118.2 112.7L116.5 112.7L114.1 110.7L113.4 110.1L111.7 109.2L110.8 108.7L109.3 108.7L106.9 106.7L104.6 104.8L104.5 104.7L104.4 104.7L102.1 103.2L101.3 102.6L99.6 101.5L98.5 100.6L97.2 99.7L95.9 98.6L94.8 98.6L92.4 96.6L90 94.6L90 93.7L88.8 92.6L87.6 91.4L86.7 90.6L85.1 89L84.8 88.6L84 87.6L82.7 86.6L80.3 84.6L80.3 83.7L79.3 82.6L77.9 80.7L77.9 80.6L77.8 80.6L75.5 78.6L75.5 77.6L74.6 76.6L73.9 75.3L73.1 74.6L70.7 72.6L70.7 70.6L68.2 68.6L68.2 66.6L65.8 64.6L65.8 62.6L65.8 61.9L65 60.6L64.7 59.6L63.4 58.6L63.4 56.9L63.2 56.6L63.2 56.4L61 54.6L61 52.6L61 51.4L60.5 50.6L60.4 50.1L58.6 48.6L58.6 46.6L58.6 45.2L58.2 44.6L58.2 44.2L56.2 42.6L56.2 40.6L56.2 38.6L56.2 38.2L55.3 36.6L55.2 35.8L53.8 34.6L53.8 32.6L53.8 30.6L53.8 30.1L53 28.6L52.9 27.9L51.3 26.6L51.3 24.6L51.3 22.6L51.3 20.8L51.2 20.6L51.2 20.5L48.9 18.6L48.9 16.6L48.9 14.6L48.9 12.6L48.9 10.6L48.9 9.8L48.4 8.6L48.4 8.1L46.5 6.6L46.5 4.6L44.1 4.6L41.7 4.6L39.3 4.6L36.8 4.6L34.4 4.6L32 4.6L29.6 4.6L29.6 6.6L29.6 8.6L29.6 10.6L29.6 12.6L29.6 14.6L29.6 16.6L29.6 18.6L29.6 20.6L29.6 22.6L29.6 24.6L29.6 26.6L29.6 28.6L29.6 30.6L29.6 32.6L29.6 34.6L29.6 36.6L29.6 38.6L29.6 40.6L29.6 42.6L29.6 44.6L29.6 46.6L29.6 48.6L29.6 50.6L29.6 52.6L29.6 54.6L29.6 56.6L29.6 58.6L29.6 60.6L29.6 62.6L29.6 64.6L29.6 66.6L29.6 68.6L29.6 70.6L29.6 72.6L29.6 74.6L29.6 76.6L29.6 78.6L29.6 80.6L29.6 82.6L29.6 84.6L29.6 86.6L29.6 88.6L29.6 90.6L29.6 92.6L29.6 94.6L29.6 96.6L29.6 98.6L29.6 100.6L29.6 102.6L29.6 104.7L29.6 106.7L29.6 108.7L29.6 110.7L29.6 112.7L29.6 114.7L29.6 116.7L29.6 118.7L29.6 120.7L29.6 122.7L29.6 124.7L29.6 126.7L29.6 128.7L29.6 130.7L29.6 132.7L29.6 134.7L29.6 136.7L29.6 138.7L29.6 140.7L29.6 142.7L29.6 144.7L29.6 146.7L29.6 148.7L29.6 150.7L29.6 152.7L29.6 154.7L29.6 156.7L29.6 158.7L29.6 160.7L29.6 162.7L29.6 164.7L29.6 166.7L29.6 168.7L29.6 170.7L29.6 172.7L29.6 174.7L29.6 176.7L29.6 178.7L29.6 180.7L29.6 182.7L29.6 184.7L29.6 186.7L29.6 188.7L29.6 190.7L29.6 192.7L29.6 194.7L29.6 196.7L29.6 198.7L29.6 200.7L29.6 202.8L32 202.8Z"/>
<path fill="#117b38" d="M32 202.8L34.4 202.8L36.8 202.8L39.3 202.8L41.7 202.8L44.1 202.8L46.5 202.8L48.9 202.8L51.3 202.8L53.8 202.8L56.2 202.8L58.6 202.8L61 202.8L63.4 202.8L65.8 202.8L68.2 202.8L70.7 202.8L73.1 202.8L75.5 202.8L77.9 202.8L80.3 202.8L82.7 202.8L85.1 202.8L87.6 202.8L90 202.8L92.4 202.8L94.8 202.8L97.2 202.8L99.6 202.8L102.1 202.8L104.5 202.8L106.9 202.8L109.3 202.8L111.7 202.8L114.1 202.8L116.5 202.8L119 202.8L121.4 202.8L123.8 202.8L126.2 202.8L128.6 202.8L131 202.8L133.5 202.8L135.9 202.8L138.3 202.8L140.7 202.8L143.1 202.8L145.5 202.8L147.9 202.8L150.4 202.8L152.8 202.8L155.2 202.8L157.6 202.8L160 202.8L162.4 202.8L164.8 202.8L167.3 202.8L169.7 202.8L172.1 202.8L174.5 202.8L176.9 202.8L179.3 202.8L181.8 202.8L184.2 202.8L186.6 202.8L189 202.8L191.4 202.8L193.8 202.8L196.2 202.8L198.7 202.8L201.1 202.8L203.5 202.8L205.9 202.8L208.3 202.8L210.7 202.8L213.2 202.8L215.6 202.8L218 202.8L220.4 202.8L222.8 202.8L225.2 202.8L227.6 202.8L230.1 202.8L232.5 202.8L234.9 202.8L237.3 202.8L239.7 202.8L242.1 202.8L244.5 202.8L247 202.8L249.4 202.8L251.8 202.8L254.2 202.8L256.6 202.8L259 202.8L261.5 202.8L263.9 202.8L266.3 202.8L268.7 202.8L268.7 200.7L268.7 198.7L268.7 196.7L268.7 194.7L268.7 192.7L268.7 190.7L268.7 188.7L268.7 186.7L268.7 184.7L268.7 182.7L268.7 180.7L268.7 178.7L268.7 176.7L268.7 174.7L268.7 172.7L268.7 170.7L268.7 168.7L268.7 166.7L268.7 164.7L268.7 162.7L268.7 160.7L268.7 158.7L268.7 156.7L268.7 154.7L268.7 152.7L268.7 150.7L268.7 148.7L266.3 148.7L263.9 148.7L262.4 147.5L261.5 147.4L259 147L257.6 146.7L256.6 146.7L254.2 146.7L251.8 146.7L249.4 146.7L248.2 145.7L247 145.6L244.5 145.2L242.2 144.7L242.1 144.7L239.7 144.7L237.3 144.7L234.9 144.7L233.7 143.7L232.5 143.6L230.1 143.1L228.2 142.7L227.6 142.7L225.2 142.7L222.8 142.7L220.4 142.7L218.8 141.4L218 141.3L215.6 140.7L213.2 140.7L210.7 140.7L209.7 139.8L208.3 139.7L205.9 139.2L204.1 138.7L203.5 138.7L201.1 138.7L198.7 138.7L197.2 137.5L196.2 137.4L193.8 136.7L191.4 136.7L189 136.7L187.6 135.5L186.6 135.4L184.2 134.7L181.8 134.7L179.3 134.7L177.6 133.3L176.9 133.2L175.5 132.7L174.5 132.7L172.1 132.7L170.8 131.6L169.7 131.4L167.5 130.7L167.3 130.7L164.8 130.7L163.7 129.8L162.4 129.5L160.2 128.7L160 128.7L157.6 128.7L156.4 127.6L155.2 127.4L153.3 126.7L152.8 126.7L150.4 126.7L148.6 125.2L147.9 125.1L147 124.7L145.5 124.7L144.5 123.9L143.1 123.5L141.3 122.7L140.7 122.7L140.3 122.3L138.3 121.8L135.9 120.7L133.5 120.7L131.1 118.8L131 118.7L130.9 118.7L128.6 118.7L126.2 116.7L126.1 116.6L123.8 115.7L121.9 114.7L121.4 114.7L120.6 114.1L119 113.4L117.8 112.7L116.5 112.7L114.2 110.7L114.1 110.7L111.7 109.5L110.4 108.7L109.3 108.7L106.9 106.7L105.9 105.9L104.5 105L104 104.7L102.1 103.5L101 102.6L99.6 101.8L98.2 100.6L97.2 100L95.6 98.6L94.8 98.6L92.4 96.6L90 94.6L90 93.9L88.5 92.6L87.6 91.7L86.4 90.6L85.1 89.3L84.5 88.6L82.8 86.7L82.7 86.6L80.3 84.6L80.3 84L79 82.6L77.9 81L77.5 80.6L77.1 80L75.5 78.6L75.5 77.9L74.4 76.6L73.4 74.9L73.1 74.6L70.7 72.6L70.7 70.7L70.6 70.6L68.2 68.6L68.2 66.6L65.8 64.6L65.8 62.6L65.8 62.2L64.7 60.6L64.4 59.4L63.4 58.6L63.4 57.3L62.9 56.6L62.8 56.1L61 54.6L61 52.6L61 51.8L60.2 50.6L60.1 49.9L58.6 48.6L58.6 46.6L58.6 45.6L58 44.6L57.9 44L56.2 42.6L56.2 40.6L56.2 38.6L56.2 38.5L55.1 36.6L55 35.6L53.8 34.6L53.8 32.6L53.8 30.6L53.8 30.5L52.8 28.6L52.7 27.7L51.3 26.6L51.3 24.6L51.3 22.6L51.3 21.3L51 20.6L51 20.3L48.9 18.6L48.9 16.6L48.9 14.6L48.9 12.6L48.9 10.6L48.9 10.2L48.2 8.6L48.2 7.9L46.5 6.6L46.5 4.6L44.1 4.6L41.7 4.6L39.3 4.6L36.8 4.6L34.4 4.6L32 4.6L29.6 4.6L29.6 6.6L29.6 8.6L29.6 10.6L29.6 12.6L29.6 14.6L29.6 16.6L29.6 18.6L29.6 20.6L29.6 22.6L29.6 24.6L29.6 26.6L29.6 28.6L29.6 30.6L29.6 32.6L29.6 34.6L29.6 36.6L29.6 38.6L29.6 40.6L29.6 42.6L29.6 44.6L29.6 46.6L29.6 48.6L29.6 50.6L29.6 52.6L29.6 54.6L29.6 56.6L29.6 58.6L29.6 60.6L29.6 62.6L29.6 64.6L29.6 66.6L29.6 68.6L29.6 70.6L29.6 72.6L29.6 74.6L29.6 76.6L29.6 78.6L29.6 80.6L29.6 82.6L29.6 84.6L29.6 86.6L29.6 88.6L29.6 90.6L29.6 92.6L29.6 94.6L29.6 96.6L29.6 98.6L29.6 100.6L29.6 102.6L29.6 104.7L29.6 106.7L29.6 108.7L29.6 110.7L29.6 112.7L29.6 114.7L29.6 116.7L29.6 118.7L29.6 120.7L29.6 122.7L29.6 124.7L29.6 126.7L29.6 128.7L29.6 130.7L29.6 132.7L29.6 134.7L29.6 136.7L29.6 138.7L29.6 140.7L29.6 142.7L29.6 144.7L29.6 146.7L29.6 148.7L29.6 150.7L29.6 152.7L29.6 154.7L29.6 156.7L29.6 158.7L29.6 160.7L29.6 162.7L29.6 164.7L29.6 166.7L29.6 168.7L29.6 170.7L29.6 172.7L29.6 174.7L29.6 176.7L29.6 178.7L29.6 180.7L29.6 182.7L29.6 184.7L29.6 186.7L29.6 188.7L29.6 190.7L29.6 192.7L29.6 194.7L29.6 196.7L29.6 198.7L29.6 200.7L29.6 202.8L32 202.8Z"/>
<path fill="#157f3b" d="M32 202.8L34.4 202.8L36.8 202.8L39.3 202.8L41.7 202.8L44.1 202.8L46.5 202.8L48.9 202.8L51.3 202.8L53.8 202.8L56.2 202.8L58.6 202.8L61 202.8L63.4 202.8L65.8 202.8L68.2 202.8L70.7 202.8L73.1 202.8L75.5 202.8L77.9 202.8L80.3 202.8L82.7 202.8L85.1 202.8L87.6 202.8L90 202.8L92.4 202.8L94.8 202.8L97.2 202.8L99.6 202.8L102.1 202.8L104.5 202.8L106.9 202.8L109.3 202.8L111.7 202.8L114.1 202.8L116.5 202.8L119 202.8L121.4 202.8L123.8 202.8L126.2 202.8L128.6 202.8L131 202.8L133.5 202.8L135.9 202.8L138.3 202.8L140.7 202.8L143.1 202.8L145.5 202.8L147.9 202.8L150.4 202.8L152.8 202.8L155.2 202.8L157.6 202.8L160 202.8L162.4 202.8L164.8 202.8L167.3 202.8L169.7 202.8L172.1 202.8L174.5 202.8L176.9 202.8L179.3 202.8L181.8 202.8L184.2 202.8L186.6 202.8L189 202.8L191.4 202.8L193.8 202.8L196.2 202.8L198.7 202.8L201.1 202.8L203.5 202.8L205.9 202.8L208.3 202.8L210.7 202.8L213.2 202.8L215.6 202.8L218 202.8L220.4 202.8L222.8 202.8L225.2 202.8L227.6 202.8L230.1 202.8L232.5 202.8L234.9 202.8L237.3 202.8L239.7 202.8L242.1 202.8L244.5 202.8L247 202.8L249.4 202.8L251.8 202.8L254.2 202.8L256.6 202.8L259 202.8L261.5 202.8L263.9 202.8L266.3 202.8L268.7 202.8L268.7 200.7L268.7 198.7L268.7 196.7L268.7 194.7L268.7 192.7L268.7 190.7L268.7 188.7L268.7 186.7L268.7 184.7L268.7 182.7L268.7 180.7L268.7 178.7L268.7 176.7L268.7 174.7L268.7 172.7L268.7 170.7L268.7 168.7L268.7 166.7L268.7 164.7L268.7 162.7L268.7 160.7L268.7 158.7L268.7 156.7L268.7 154.7L268.7 152.7L268.7 150.7L268.7 148.7L266.3 148.7L263.9 148.7L262.7 147.7L261.5 147.6L259 147.3L256.6 146.7L256.4 146.7L254.2 146.7L251.8 146.7L249.4 146.7L248.4 145.9L247 145.8L244.5 145.5L242.1 145L241 144.7L239.7 144.7L237.3 144.7L234.9 144.7L233.9 143.9L232.5 143.8L230.1 143.4L227.6 142.8L227.1 142.7L225.2 142.7L222.8 142.7L220.4 142.7L219.1 141.6L218 141.5L215.6 141L214.6 140.7L213.2 140.7L210.7 140.7L209.9 140L208.3 139.9L205.9 139.4L203.5 138.8L203.2 138.7L201.1 138.7L198.7 138.7L197.5 137.8L196.2 137.6L193.8 137L192.8 136.7L191.4 136.7L189 136.7L187.9 135.8L186.6 135.6L184.2 135L183.4 134.7L181.8 134.7L179.3 134.7L178 133.6L176.9 133.4L174.7 132.7L174.5 132.7L172.1 132.7L171.2 131.9L169.7 131.7L167.3 130.9L166.8 130.7L164.8 130.7L164.1 130L162.4 129.7L160 128.9L159.4 128.7L157.6 128.7L156.7 128L155.2 127.7L152.8 126.7L152.7 126.7L150.4 126.7L149 125.6L147.9 125.3L146.4 124.7L145.5 124.7L145 124.2L143.1 123.7L140.7 122.7L140.7 122.6L138.3 122L135.9 121L135.3 120.7L133.5 120.7L131.8 119.3L131 119.1L130.3 118.7L128.6 118.7L126.8 117.1L126.2 117L125.7 116.7L123.8 115.9L121.4 114.7L121.3 114.6L119 113.6L117.3 112.7L116.5 112.7L115.1 111.5L114.1 111L113.5 110.7L111.7 109.8L110 108.7L109.3 108.7L107.2 106.9L106.9 106.8L106.7 106.7L104.5 105.3L103.5 104.7L102.1 103.7L100.6 102.6L99.6 102L97.8 100.6L97.2 100.2L95.3 98.6L94.8 98.6L92.4 96.6L90 94.6L90 94.2L88.2 92.6L87.6 92L86.1 90.6L85.1 89.6L84.1 88.6L82.7 87L82.3 86.6L81.7 85.7L80.3 84.6L80.3 84.3L78.8 82.6L77.9 81.4L77.2 80.6L76.4 79.4L75.5 78.6L75.5 78.2L74.1 76.6L73.1 74.7L73 74.6L72.9 74.5L70.7 72.6L70.7 71.1L70.3 70.6L70.1 70.1L68.2 68.6L68.2 67L67.9 66.6L67.8 66.2L65.8 64.6L65.8 62.6L65.8 62.5L64.5 60.6L64.1 59.2L63.4 58.6L63.4 57.7L62.7 56.6L62.5 55.8L61 54.6L61 52.6L61 52.2L60 50.6L59.8 49.6L58.6 48.6L58.6 46.6L58.6 46L57.7 44.6L57.6 43.8L56.2 42.6L56.2 40.6L56.2 39L55.9 38.6L54.9 36.6L54.8 35.4L53.8 34.6L53.8 32.6L53.8 31L53.5 30.6L52.6 28.6L52.5 27.5L51.3 26.6L51.3 24.6L51.3 22.6L51.3 21.8L50.8 20.6L50.7 20L48.9 18.6L48.9 16.6L48.9 14.6L48.9 12.6L48.9 10.7L48.9 10.6L48 8.6L48 7.8L46.5 6.6L46.5 4.6L44.1 4.6L41.7 4.6L39.3 4.6L36.8 4.6L34.4 4.6L32 4.6L29.6 4.6L29.6 6.6L29.6 8.6L29.6 10.6L29.6 12.6L29.6 14.6L29.6 16.6L29.6 18.6L29.6 20.6L29.6 22.6L29.6 24.6L29.6 26.6L29.6 28.6L29.6 30.6L29.6 32.6L29.6 34.6L29.6 36.6L29.6 38.6L29.6 40.6L29.6 42.6L29.6 44.6L29.6 46.6L29.6 48.6L29.6 50.6L29.6 52.6L29.6 54.6L29.6 56.6L29.6 58.6L29.6 60.6L29.6 62.6L29.6 64.6L29.6 66.6L29.6 68.6L29.6 70.6L29.6 72.6L29.6 74.6L29.6 76.6L29.6 78.6L29.6 80.6L29.6 82.6L29.6 84.6L29.6 86.6L29.6 88.6L29.6 90.6L29.6 92.6L29.6 94.6L29.6 96.6L29.6 98.6L29.6 100.6L29.6 102.6L29.6 104.7L29.6 106.7L29.6 108.7L29.6 110.7L29.6 112.7L29.6 114.7L29.6 116.7L29.6 118.7L29.6 120.7L29.6 122.7L29.6 124.7L29.6 126.7L29.6 128.7L29.6 130.7L29.6 132.7L29.6 134.7L29.6 136.7L29.6 138.7L29.6 140.7L29.6 142.7L29.6 144.7L29.6 146.7L29.6 148.7L29.6 150.7L29.6 152.7L29.6 154.7L29.6 156.7L29.6 158.7L29.6 160.7L29.6 162.7L29.6 164.7L29.6 166.7L29.6 168.7L29.6 170.7L29.6 172.7L29.6 174.7L29.6 176.7L29.6 178.7L29.6 180.7L29.6 182.7L29.6 184.7L29.6 186.7L29.6 188.7L29.6 190.7L29.6 192.7L29.6 194.7L29.6 196.7L29.6 198.7L29.6 200.7L29.6 202.8L32 202.8Z"/>
<path fill="#1a843f" d="M32 202.8L34.4 202.8L36.8 202.8L39.3 202.8L41.7 202.8L44.1 202.8L46.5 202.8L48.9 202.8L51.3 202.8L53.8 202.8L56.2 202.8L58.6 202.8L61 202.8L63.4 202.8L65.8 202.8L68.2 202.8L70.7 202.8L73.1 202.8L75.5 202.8L77.9 202.8L80.3 202.8L82.7 202.8L85.1 202.8L87.6 202.8L90 202.8L92.4 202.8L94.8 202.8L97.2 202.8L99.6 202.8L102.1 202.8L104.5 202.8L106.9 202.8L109.3 202.8L111.7 202.8L114.1 202.8L116.5 202.8L119 202.8L121.4 202.8L123.8 202.8L126.2 202.8L128.6 202.8L131 202.8L133.5 202.8L135.9 202.8L138.3 202.8L140.7 202.8L143.1 202.8L145.5 202.8L147.9 202.8L150.4 202.8L152.8 202.8L155.2 202.8L157.6 202.8L160 202.8L162.4 202.8L164.8 202.8L167.3 202.8L169.7 202.8L172.1 202.8L174.5 202.8L176.9 202.8L179.3 202.8L181.8 202.8L184.2 202.8L186.6 202.8L189 202.8L191.4 202.8L193.8 202.8L196.2 202.8L198.7 202.8L201.1 202.8L203.5 202.8L205.9 202.8L208.3 202.8L210.7 202.8L213.2 202.8L215.6 202.8L218 202.8L220.4 202.8L222.8 202.8L225.2 202.8L227.6 202.8L230.1 202.8L232.5 202.8L234.9 202.8L237.3 202.8L239.7 202.8L242.1 202.8L244.5 202.8L247 202.8L249.4 202.8L251.8 202.8L254.2 202.8L256.6 202.8L259 202.8L261.5 202.8L263.9 202.8L266.3 202.8L268.7 202.8L268.7 200.7L268.7 198.7L268.7 196.7L268.7 194.7L268.7 192.7L268.7 190.7L268.7 188.7L268.7 186.7L268.7 184.7L268.7 182.7L268.7 180.7L268.7 178.7L268.7 176.7L268.7 174.7L268.7 172.7L268.7 170.7L268.7 168.7L268.7 166.7L268.7 164.7L268.7 162.7L268.7 160.7L268.7 158.7L268.7 156.7L268.7 154.7L268.7 152.7L268.7 150.7L268.7 148.7L266.3 148.7L263.9 148.7L262.9 147.9L261.5 147.8L259 147.5L256.6 147.1L255 146.7L254.2 146.7L251.8 146.7L249.4 146.7L248.6 146.1L247 146L244.5 145.7L242.1 145.3L239.8 144.7L239.7 144.7L237.3 144.7L234.9 144.7L234.2 144.1L232.5 144L230.1 143.6L227.6 143.1L226 142.7L225.2 142.7L222.8 142.7L220.4 142.7L219.4 141.8L218 141.7L215.6 141.3L213.5 140.7L213.2 140.7L210.7 140.7L210.2 140.2L208.3 140.1L205.9 139.7L203.5 139.1L202.2 138.7L201.1 138.7L198.7 138.7L197.8 138L196.2 137.8L193.8 137.3L191.9 136.7L191.4 136.7L189 136.7L188.2 136.1L186.6 135.9L184.2 135.3L182.5 134.7L181.8 134.7L179.3 134.7L178.4 133.9L176.9 133.7L174.5 132.9L173.8 132.7L172.1 132.7L171.5 132.2L169.7 131.9L167.3 131.2L165.9 130.7L164.8 130.7L164.4 130.3L162.4 130L160 129.3L158.6 128.7L157.6 128.7L157.1 128.3L155.2 127.9L152.8 127.1L151.9 126.7L150.4 126.7L149.5 126L147.9 125.6L145.8 124.7L145.5 124.7L145.4 124.5L143.1 124L140.7 123L140 122.7L138.3 122.2L135.9 121.3L134.6 120.7L133.5 120.7L132.4 119.8L131 119.4L129.7 118.7L128.6 118.7L127.5 117.7L126.2 117.3L125.1 116.7L123.8 116.2L121.4 115L120.8 114.7L119 113.9L116.8 112.7L116.5 112.7L116 112.2L114.1 111.4L113 110.7L111.7 110L109.6 108.7L109.3 108.7L108.5 108L106.9 107.1L106.2 106.7L104.5 105.7L103.1 104.7L102.1 104L100.2 102.6L99.6 102.3L97.5 100.6L97.2 100.5L94.9 98.6L94.8 98.6L92.4 96.6L90 94.6L90 94.5L87.9 92.6L87.6 92.3L85.8 90.6L85.1 90L83.8 88.6L82.7 87.4L81.9 86.6L80.6 84.8L80.3 84.6L78.5 82.6L77.9 81.8L76.8 80.6L75.7 78.8L75.5 78.6L75.5 78.5L73.9 76.6L73.1 75.2L72.6 74.6L72.3 74L70.7 72.6L70.7 71.5L69.9 70.6L69.6 69.7L68.2 68.6L68.2 67.5L67.6 66.6L67.3 65.8L65.8 64.6L65.8 63L65.5 62.6L64.3 60.6L63.8 58.9L63.4 58.6L63.4 58.1L62.4 56.6L62.2 55.6L61 54.6L61 52.6L61 52.5L59.7 50.6L59.5 49.4L58.6 48.6L58.6 46.6L58.6 46.4L57.5 44.6L57.3 43.5L56.2 42.6L56.2 40.6L56.2 39.6L55.6 38.6L54.7 36.6L54.6 35.3L53.8 34.6L53.8 32.6L53.8 31.6L53.2 30.6L52.4 28.6L52.3 27.3L51.3 26.6L51.3 24.6L51.3 22.6L51.3 22.3L50.5 20.6L50.4 19.8L48.9 18.6L48.9 16.6L48.9 14.6L48.9 12.6L48.9 11.3L48.6 10.6L47.8 8.6L47.8 7.6L46.5 6.6L46.5 4.6L44.1 4.6L41.7 4.6L39.3 4.6L36.8 4.6L34.4 4.6L32 4.6L29.6 4.6L29.6 6.6L29.6 8.6L29.6 10.6L29.6 12.6L29.6 14.6L29.6 16.6L29.6 18.6L29.6 20.6L29.6 22.6L29.6 24.6L29.6 26.6L29.6 28.6L29.6 30.6L29.6 32.6L29.6 34.6L29.6 36.6L29.6 38.6L29.6 40.6L29.6 42.6L29.6 44.6L29.6 46.6L29.6 48.6L29.6 50.6L29.6 52.6L29.6 54.6L29.6 56.6L29.6 58.6L29.6 60.6L29.6 62.6L29.6 64.6L29.6 66.6L29.6 68.6L29.6 70.6L29.6 72.6L29.6 74.6L29.6 76.6L29.6 78.6L29.6 80.6L29.6 82.6L29.6 84.6L29.6 86.6L29.6 88.6L29.6 90.6L29.6 92.6L29.6 94.6L29.6 96.6L29.6 98.6L29.6 100.6L29.6 102.6L29.6 104.7L29.6 106.7L29.6 108.7L29.6 110.7L29.6 112.7L29.6 114.7L29.6 116.7L29.6 118.7L29.6 120.7L29.6 122.7L29.6 124.7L29.6 126.7L29.6 128.7L29.6 130.7L29.6 132.7L29.6 134.7L29.6 136.7L29.6 138.7L29.6 140.7L29.6 142.7L29.6 144.7L29.6 146.7L29.6 148.7L29.6 150.7L29.6 152.7L29.6 154.7L29.6 156.7L29.6 158.7L29.6 160.7L29.6 162.7L29.6 164.7L29.6 166.7L29.6 168.7L29.6 170.7L29.6 172.7L29.6 174.7L29.6 176.7L29.6 178.7L29.6 180.7L29.6 182.7L29.6 184.7L29.6 186.7L29.6 188.7L29.6 190.7L29.6 192.7L29.6 194.7L29.6 196.7L29.6 198.7L29.6 200.7L29.6 202.8L32 202.8Z"/>
<path fill="#208843" d="M32 202.8L34.4 202.8L36.8 202.8L39.3 202.8L41.7 202.8L44.1 202.8L46.5 202.8L48.9 202.8L51.3 202.8L53.8 202.8L56.2 202.8L58.6 202.8L61 202.8L63.4 202.8L65.8 202.8L68.2 202.8L70.7 202.8L73.1 202.8L75.5 202.8L77.9 202.8L80.3 202.8L82.7 202.8L85.1 202.8L87.6 202.8L90 202.8L92.4 202.8L94.8 202.8L97.2 202.8L99.6 202.8L102.1 202.8L104.5 202.8L106.9 202.8L109.3 202.8L111.7 202.8L114.1 202.8L116.5 202.8L119 202.8L121.4 202.8L123.8 202.8L126.2 202.8L128.6 202.8L131 202.8L133.5 202.8L135.9 202.8L138.3 202.8L140.7 202.8L143.1 202.8L145.5 202.8L147.9 202.8L150.4 202.8L152.8 202.8L155.2 202.8L157.6 202.8L160 202.8L162.4 202.8L164.8 202.8L167.3 202.8L169.7 202.8L172.1 202.8L174.5 202.8L176.9 202.8L179.3 202.8L181.8 202.8L184.2 202.8L186.6 202.8L189 202.8L191.4 202.8L193.8 202.8L196.2 202.8L198.7 202.8L201.1 202.8L203.5 202.8L205.9 202.8L208.3 202.8L210.7 202.8L213.2 202.8L215.6 202.8L218 202.8L220.4 202.8L222.8 202.8L225.2 202.8L227.6 202.8L230.1 202.8L232.5 202.8L234.9 202.8L237.3 202.8L239.7 202.8L242.1 202.8L244.5 202.8L247 202.8L249.4 202.8L251.8 202.8L254.2 202.8L256.6 202.8L259 202.8L261.5 202.8L263.9 202.8L266.3 202.8L268.7 202.8L268.7 200.7L268.7 198.7L268.7 196.7L268.7 194.7L268.7 192.7L268.7 190.7L268.7 188.7L268.7 186.7L268.7 184.7L268.7 182.7L268.7 180.7L268.7 178.7L268.7 176.7L268.7 174.7L268.7 172.7L268.7 170.7L268.7 168.7L268.7 166.7L268.7 164.7L268.7 162.7L268.7 160.7L268.7 158.7L268.7 156.7L268.7 154.7L268.7 152.7L268.7 150.7L268.7 148.7L266.3 148.7L263.9 148.7L263.2 148.1L261.5 148L259 147.8L256.6 147.4L254.2 146.8L253.5 146.7L251.8 146.7L249.4 146.7L248.9 146.3L247 146.2L244.5 145.9L242.1 145.5L239.7 145L238.3 144.7L237.3 144.7L234.9 144.7L234.4 144.3L232.5 144.2L230.1 143.9L227.6 143.4L225.2 142.8L224.7 142.7L222.8 142.7L220.4 142.7L219.7 142.1L218 142L215.6 141.6L213.2 140.9L212.3 140.7L210.7 140.7L210.5 140.5L208.3 140.2L205.9 139.9L203.5 139.4L201.1 138.7L198.7 138.7L198.1 138.3L196.2 138.1L193.8 137.6L191.4 136.9L190.8 136.7L189 136.7L188.6 136.3L186.6 136.1L184.2 135.6L181.8 134.8L181.5 134.7L179.3 134.7L178.7 134.2L176.9 133.9L174.5 133.3L172.9 132.7L172.1 132.7L171.8 132.5L169.7 132.1L167.3 131.5L165.1 130.7L164.8 130.7L164.8 130.6L162.4 130.2L160 129.6L157.8 128.7L157.6 128.7L157.5 128.6L155.2 128.1L152.8 127.4L151.1 126.7L150.4 126.7L149.9 126.3L147.9 125.9L145.5 124.9L145 124.7L143.1 124.2L140.7 123.4L139.2 122.7L138.3 122.4L135.9 121.6L134 120.7L133.5 120.7L133 120.3L131 119.7L129.1 118.7L128.6 118.7L128.1 118.3L126.2 117.6L124.5 116.7L123.8 116.4L121.4 115.4L120.1 114.7L119 114.2L116.5 112.8L116.3 112.7L114.1 111.7L112.4 110.7L111.7 110.3L109.3 108.8L109 108.7L106.9 107.5L105.6 106.7L104.5 106L102.6 104.7L102.1 104.3L99.8 102.6L99.6 102.5L97.2 100.8L97.1 100.6L94.8 99L94.4 98.6L92.4 97L92 96.6L90 94.9L89.7 94.6L87.6 92.6L85.5 90.6L85.1 90.3L83.4 88.6L82.7 87.8L81.5 86.6L80.3 85.1L79.9 84.6L78.2 82.6L77.9 82.2L76.5 80.6L75.5 79L75.1 78.6L73.6 76.6L73.1 75.7L72.1 74.6L71.6 73.4L70.7 72.6L70.7 72L69.5 70.6L69 69.3L68.2 68.6L68.2 67.9L67.2 66.6L66.8 65.4L65.8 64.6L65.8 63.5L65.1 62.6L64.1 60.6L63.5 58.7L63.4 58.6L63.4 58.5L62.1 56.6L61.8 55.3L61 54.6L61 53.1L60.6 52.6L59.5 50.6L59.3 49.2L58.6 48.6L58.6 47L58.3 46.6L57.2 44.6L57 43.3L56.2 42.6L56.2 40.6L56.2 40.1L55.3 38.6L54.5 36.6L54.4 35.1L53.8 34.6L53.8 32.6L53.8 32.1L52.9 30.6L52.2 28.6L52.1 27.2L51.3 26.6L51.3 24.6L51.3 22.9L51.2 22.6L50.3 20.6L50.2 19.6L48.9 18.6L48.9 16.6L48.9 14.6L48.9 12.6L48.9 12L48.3 10.6L47.6 8.6L47.5 7.4L46.5 6.6L46.5 4.6L44.1 4.6L41.7 4.6L39.3 4.6L36.8 4.6L34.4 4.6L32 4.6L29.6 4.6L29.6 6.6L29.6 8.6L29.6 10.6L29.6 12.6L29.6 14.6L29.6 16.6L29.6 18.6L29.6 20.6L29.6 22.6L29.6 24.6L29.6 26.6L29.6 28.6L29.6 30.6L29.6 32.6L29.6 34.6L29.6 36.6L29.6 38.6L29.6 40.6L29.6 42.6L29.6 44.6L29.6 46.6L29.6 48.6L29.6 50.6L29.6 52.6L29.6 54.6L29.6 56.6L29.6 58.6L29.6 60.6L29.6 62.6L29.6 64.6L29.6 66.6L29.6 68.6L29.6 70.6L29.6 72.6L29.6 74.6L29.6 76.6L29.6 78.6L29.6 80.6L29.6 82.6L29.6 84.6L29.6 86.6L29.6 88.6L29.6 90.6L29.6 92.6L29.6 94.6L29.6 96.6L29.6 98.6L29.6 100.6L29.6 102.6L29.6 104.7L29.6 106.7L29.6 108.7L29.6 110.7L29.6 112.7L29.6 114.7L29.6 116.7L29.6 118.7L29.6 120.7L29.6 122.7L29.6 124.7L29.6 126.7L29.6 128.7L29.6 130.7L29.6 132.7L29.6 134.7L29.6 136.7L29.6 138.7L29.6 140.7L29.6 142.7L29.6 144.7L29.6 146.7L29.6 148.7L29.6 150.7L29.6 152.7L29.6 154.7L29.6 156.7L29.6 158.7L29.6 160.7L29.6 162.7L29.6 164.7L29.6 166.7L29.6 168.7L29.6 170.7L29.6 172.7L29.6 174.7L29.6 176.7L29.6 178.7L29.6 180.7L29.6 182.7L29.6 184.7L29.6 186.7L29.6 188.7L29.6 190.7L29.6 192.7L29.6 194.7L29.6 196.7L29.6 198.7L29.6 200.7L29.6 202.8L32 202.8Z"/>
<path fill="#258d47" d="M32 202.8L34.4 202.8L36.8 202.8L39.3 202.8L41.7 202.8L44.1 202.8L46.5 202.8L48.9 202.8L51.3 202.8L53.8 202.8L56.2 202.8L58.6 202.8L61 202.8L63.4 202.8L65.8 202.8L68.2 202.8L70.7 202.8L73.1 202.8L75.5 202.8L77.9 202.8L80.3 202.8L82.7 202.8L85.1 202.8L87.6 202.8L90 202.8L92.4 202.8L94.8 202.8L97.2 202.8L99.6 202.8L102.1 202.8L104.5 202.8L106.9 202.8L109.3 202.8L111.7 202.8L114.1 202.8L116.5 202.8L119 202.8L121.4 202.8L123.8 202.8L126.2 202.8L128.6 202.8L131 202.8L133.5 202.8L135.9 202.8L138.3 202.8L140.7 202.8L143.1 202.8L145.5 202.8L147.9 202.8L150.4 202.8L152.8 202.8L155.2 202.8L157.6 202.8L160 202.8L162.4 202.8L164.8 202.8L167.3 202.8L169.7 202.8L172.1 202.8L174.5 202.8L176.9 202.8L179.3 202.8L181.8 202.8L184.2 202.8L186.6 202.8L189 202.8L191.4 202.8L193.8 202.8L196.2 202.8L198.7 202.8L201.1 202.8L203.5 202.8L205.9 202.8L208.3 202.8L210.7 202.8L213.2 202.8L215.6 202.8L218 202.8L220.4 202.8L222.8 202.8L225.2 202.8L227.6 202.8L230.1 202.8L232.5 202.8L234.9 202.8L237.3 202.8L239.7 202.8L242.1 202.8L244.5 202.8L247 202.8L249.4 202.8L251.8 202.8L254.2 202.8L256.6 202.8L259 202.8L261.5 202.8L263.9 202.8L266.3 202.8L268.7 202.8L268.7 200.7L268.7 198.7L268.7 196.7L268.7 194.7L268.7 192.7L268.7 190.7L268.7 188.7L268.7 186.7L268.7 184.7L268.7 182.7L268.7 180.7L268.7 178.7L268.7 176.7L268.7 174.7L268.7 172.7L268.7 170.7L268.7 168.7L268.7 166.7L268.7 164.7L268.7 162.7L268.7 160.7L268.7 158.7L268.7 156.7L268.7 154.7L268.7 152.7L268.7 150.7L268.7 148.7L268.6 148.7L266.3 148.7L263.9 148.7L263.4 148.3L261.5 148.2L259 148L256.6 147.7L254.2 147.2L251.9 146.7L251.8 146.7L249.4 146.7L249.1 146.5L247 146.3L244.5 146.1L242.1 145.8L239.7 145.4L237.3 144.8L236.8 144.7L234.9 144.7L234.6 144.5L232.5 144.3L230.1 144.1L227.6 143.8L225.2 143.2L223.2 142.7L222.8 142.7L220.4 142.7L220 142.3L218 142.2L215.6 141.9L213.2 141.3L210.9 140.7L210.7 140.7L208.3 140.4L205.9 140.2L203.5 139.8L201.1 139.1L199.7 138.7L198.7 138.7L198.4 138.5L196.2 138.3L193.8 137.9L191.4 137.3L189.6 136.7L189 136.7L188.9 136.6L186.6 136.3L184.2 135.9L181.8 135.2L180.2 134.7L179.3 134.7L179.1 134.5L176.9 134.2L174.5 133.7L172.1 132.8L171.8 132.7L169.7 132.3L167.3 131.9L164.8 131L163.9 130.7L162.4 130.4L160 129.9L157.6 129L156.8 128.7L155.2 128.4L152.8 127.8L150.4 126.7L150.3 126.7L147.9 126.2L145.5 125.4L144 124.7L143.1 124.4L140.7 123.8L138.5 122.7L138.3 122.6L135.9 122L133.5 120.8L133.2 120.7L131 120L128.6 118.8L128.3 118.7L126.2 118L123.8 116.7L123.8 116.6L121.4 115.8L119.5 114.7L119 114.4L116.5 113.4L115.5 112.7L114.1 112.1L111.9 110.7L111.7 110.6L109.3 109.4L108.3 108.7L106.9 107.9L105.1 106.7L104.5 106.3L102.1 104.7L102.1 104.6L99.6 103L99.1 102.6L97.2 101.3L96.4 100.6L94.8 99.5L93.8 98.6L92.4 97.5L91.3 96.6L90 95.4L89.1 94.6L87.6 93.1L87 92.6L85.2 90.6L85.1 90.6L83.1 88.6L82.7 88.2L81.1 86.6L80.3 85.6L79.3 84.6L78 82.6L77.9 82.5L76.1 80.6L75.5 79.6L74.6 78.6L73.3 76.6L73.1 76.1L71.7 74.6L71 72.9L70.7 72.6L70.7 72.4L69.2 70.6L68.5 68.8L68.2 68.6L68.2 68.4L66.8 66.6L66.3 65L65.8 64.6L65.8 64L64.7 62.6L63.8 60.6L63.4 59.2L63 58.6L61.8 56.6L61.5 55L61 54.6L61 53.8L60.2 52.6L59.3 50.6L59 48.9L58.6 48.6L58.6 47.7L57.9 46.6L57 44.6L56.7 43.1L56.2 42.6L56.2 40.6L55 38.6L54.3 36.6L54.2 34.9L53.8 34.6L53.8 32.7L53.7 32.6L52.6 30.6L52 28.6L51.9 27L51.3 26.6L51.3 24.6L51.3 23.6L50.9 22.6L50.1 20.6L49.9 19.4L48.9 18.6L48.9 16.6L48.9 14.6L48.9 12.6L48.1 10.6L47.5 8.6L47.3 7.2L46.5 6.6L46.5 4.6L44.1 4.6L41.7 4.6L39.3 4.6L36.8 4.6L34.4 4.6L32 4.6L29.6 4.6L29.6 6.6L29.6 8.6L29.6 10.6L29.6 12.6L29.6 14.6L29.6 16.6L29.6 18.6L29.6 20.6L29.6 22.6L29.6 24.6L29.6 26.6L29.6 28.6L29.6 30.6L29.6 32.6L29.6 34.6L29.6 36.6L29.6 38.6L29.6 40.6L29.6 42.6L29.6 44.6L29.6 46.6L29.6 48.6L29.6 50.6L29.6 52.6L29.6 54.6L29.6 56.6L29.6 58.6L29.6 60.6L29.6 62.6L29.6 64.6L29.6 66.6L29.6 68.6L29.6 70.6L29.6 72.6L29.6 74.6L29.6 76.6L29.6 78.6L29.6 80.6L29.6 82.6L29.6 84.6L29.6 86.6L29.6 88.6L29.6 90.6L29.6 92.6L29.6 94.6L29.6 96.6L29.6 98.6L29.6 100.6L29.6 102.6L29.6 104.7L29.6 106.7L29.6 108.7L29.6 110.7L29.6 112.7L29.6 114.7L29.6 116.7L29.6 118.7L29.6 120.7L29.6 122.7L29.6 124.7L29.6 126.7L29.6 128.7L29.6 130.7L29.6 132.7L29.6 134.7L29.6 136.7L29.6 138.7L29.6 140.7L29.6 142.7L29.6 144.7L29.6 146.7L29.6 148.7L29.6 150.7L29.6 152.7L29.6 154.7L29.6 156.7L29.6 158.7L29.6 160.7L29.6 162.7L29.6 164.7L29.6 166.7L29.6 168.7L29.6 170.7L29.6 172.7L29.6 174.7L29.6 176.7L29.6 178.7L29.6 180.7L29.6 182.7L29.6 184.7L29.6 186.7L29.6 188.7L29.6 190.7L29.6 192.7L29.6 194.7L29.6 196.7L29.6 198.7L29.6 200.7L29.6 202.8L32 202.8Z"/>
<path fill="#29914a" d="M32 202.8L34.4 202.8L36.8 202.8L39.3 202.8L41.7 202.8L44.1 202.8L46.5 202.8L48.9 202.8L51.3 202.8L53.8 202.8L56.2 202.8L58.6 202.8L61 202.8L63.4 202.8L65.8 202.8L68.2 202.8L70.7 202.8L73.1 202.8L75.5 202.8L77.9 202.8L80.3 202.8L82.7 202.8L85.1 202.8L87.6 202.8L90 202.8L92.4 202.8L94.8 202.8L97.2 202.8L99.6 202.8L102.1 202.8L104.5 202.8L106.9 202.8L109.3 202.8L111.7 202.8L114.1 202.8L116.5 202.8L119 202.8L121.4 202.8L123.8 202.8L126.2 202.8L128.6 202.8L131 202.8L133.5 202.8L135.9 202.8L138.3 202.8L140.7 202.8L143.1 202.8L145.5 202.8L147.9 202.8L150.4 202.8L152.8 202.8L155.2 202.8L157.6 202.8L160 202.8L162.4 202.8L164.8 202.8L167.3 202.8L169.7 202.8L172.1 202.8L174.5 202.8L176.9 202.8L179.3 202.8L181.8 202.8L184.2 202.8L186.6 202.8L189 202.8L191.4 202.8L193.8 202.8L196.2 202.8L198.7 202.8L201.1 202.8L203.5 202.8L205.9 202.8L208.3 202.8L210.7 202.8L213.2 202.8L215.6 202.8L218 202.8L220.4 202.8L222.8 202.8L225.2 202.8L227.6 202.8L230.1 202.8L232.5 202.8L234.9 202.8L237.3 202.8L239.7 202.8L242.1 202.8L244.5 202.8L247 202.8L249.4 202.8L251.8 202.8L254.2 202.8L256.6 202.8L259 202.8L261.5 202.8L263.9 202.8L266.3 202.8L268.7 202.8L268.7 200.7L268.7 198.7L268.7 196.7L268.7 194.7L268.7 192.7L268.7 190.7L268.7 188.7L268.7 186.7L268.7 184.7L268.7 182.7L268.7 180.7L268.7 178.7L268.7 176.7L268.7 174.7L268.7 172.7L268.7 170.7L268.7 168.7L268.7 166.7L268.7 164.7L268.7 162.7L268.7 160.7L268.7 158.7L268.7 156.7L268.7 154.7L268.7 152.7L268.7 150.7L268.7 149.2L266.4 148.7L266.3 148.7L263.9 148.7L263.7 148.5L261.5 148.4L259 148.2L256.6 148L254.2 147.6L251.8 147.1L249.7 146.7L249.4 146.7L249.3 146.7L247 146.5L244.5 146.4L242.1 146.1L239.7 145.8L237.3 145.3L234.9 144.7L234.8 144.7L232.5 144.5L230.1 144.3L227.6 144.1L225.2 143.7L222.8 143.1L221.3 142.7L220.4 142.7L220.3 142.6L218 142.4L215.6 142.2L213.2 141.7L210.7 141.1L209.1 140.7L208.3 140.6L205.9 140.4L203.5 140.1L201.1 139.6L198.7 138.9L198.1 138.7L196.2 138.5L193.8 138.2L191.4 137.7L189 137L188 136.7L186.6 136.5L184.2 136.2L181.8 135.7L179.3 134.8L178.8 134.7L176.9 134.4L174.5 134L172.1 133.3L170.4 132.7L169.7 132.6L167.3 132.2L164.8 131.6L162.7 130.7L162.4 130.6L160 130.2L157.6 129.6L155.6 128.7L155.2 128.6L152.8 128.2L150.4 127.3L149 126.7L147.9 126.5L145.5 125.9L143.1 124.7L140.7 124.2L138.3 123.2L137.3 122.7L135.9 122.3L133.5 121.4L132.1 120.7L131 120.4L128.6 119.4L127.2 118.7L126.2 118.3L123.8 117.3L122.7 116.7L121.4 116.2L119 114.8L118.7 114.7L116.5 113.9L114.7 112.7L114.1 112.4L111.7 111.1L110.9 110.7L109.3 109.9L107.5 108.7L106.9 108.3L104.5 106.7L104.5 106.6L102.1 105.2L101.2 104.7L99.6 103.7L98.3 102.6L97.2 101.9L95.6 100.6L94.8 100L93.1 98.6L92.4 98.1L90.7 96.6L90 96L88.4 94.6L87.6 93.8L86.3 92.6L85.1 91.4L84.4 90.6L82.7 88.6L80.7 86.6L80.3 86.2L78.8 84.6L77.9 83.3L77.3 82.6L75.8 80.6L75.5 80.2L74.1 78.6L73.1 76.6L71.3 74.6L70.7 73.1L70.3 72.6L68.8 70.6L68.2 69.1L67.9 68.6L66.5 66.6L65.9 64.6L65.8 64.6L64.3 62.6L63.6 60.6L63.4 59.9L62.5 58.6L61.5 56.6L61.1 54.7L61 54.6L61 54.4L59.8 52.6L59 50.6L58.7 48.7L58.6 48.6L58.6 48.3L57.5 46.6L56.7 44.6L56.5 42.8L56.2 42.6L56.2 41.6L55.7 40.6L54.7 38.6L54.1 36.6L53.9 34.7L53.8 34.6L53.8 33.7L53.3 32.6L52.4 30.6L51.8 28.6L51.6 26.8L51.3 26.6L51.3 24.6L51.3 24.4L50.5 22.6L49.8 20.6L49.7 19.2L48.9 18.6L48.9 16.6L48.9 14.6L48.9 13.7L48.5 12.6L47.8 10.6L47.3 8.6L47.1 7.1L46.5 6.6L46.5 4.6L44.1 4.6L41.7 4.6L39.3 4.6L36.8 4.6L34.4 4.6L32 4.6L29.6 4.6L29.6 6.6L29.6 8.6L29.6 10.6L29.6 12.6L29.6 14.6L29.6 16.6L29.6 18.6L29.6 20.6L29.6 22.6L29.6 24.6L29.6 26.6L29.6 28.6L29.6 30.6L29.6 32.6L29.6 34.6L29.6 36.6L29.6 38.6L29.6 40.6L29.6 42.6L29.6 44.6L29.6 46.6L29.6 48.6L29.6 50.6L29.6 52.6L29.6 54.6L29.6 56.6L29.6 58.6L29.6 60.6L29.6 62.6L29.6 64.6L29.6 66.6L29.6 68.6L29.6 70.6L29.6 72.6L29.6 74.6L29.6 76.6L29.6 78.6L29.6 80.6L29.6 82.6L29.6 84.6L29.6 86.6L29.6 88.6L29.6 90.6L29.6 92.6L29.6 94.6L29.6 96.6L29.6 98.6L29.6 100.6L29.6 102.6L29.6 104.7L29.6 106.7L29.6 108.7L29.6 110.7L29.6 112.7L29.6 114.7L29.6 116.7L29.6 118.7L29.6 120.7L29.6 122.7L29.6 124.7L29.6 126.7L29.6 128.7L29.6 130.7L29.6 132.7L29.6 134.7L29.6 136.7L29.6 138.7L29.6 140.7L29.6 142.7L29.6 144.7L29.6 146.7L29.6 148.7L29.6 150.7L29.6 152.7L29.6 154.7L29.6 156.7L29.6 158.7L29.6 160.7L29.6 162.7L29.6 164.7L29.6 166.7L29.6 168.7L29.6 170.7L29.6 172.7L29.6 174.7L29.6 176.7L29.6 178.7L29.6 180.7L29.6 182.7L29.6 184.7L29.6 186.7L29.6 188.7L29.6 190.7L29.6 192.7L29.6 194.7L29.6 196.7L29.6 198.7L29.6 200.7L29.6 202.8L32 202.8Z"/>
<path fill="#2d954d" d="M32 202.8L34.4 202.8L36.8 202.8L39.3 202.8L41.7 202.8L44.1 202.8L46.5 202.8L48.9 202.8L51.3 202.8L53.8 202.8L56.2 202.8L58.6 202.8L61 202.8L63.4 202.8L65.8 202.8L68.2 202.8L70.7 202.8L73.1 202.8L75.5 202.8L77.9 202.8L80.3 202.8L82.7 202.8L85.1 202.8L87.6 202.8L90 202.8L92.4 202.8L94.8 202.8L97.2 202.8L99.6 202.8L102.1 202.8L104.5 202.8L106.9 202.8L109.3 202.8L111.7 202.8L114.1 202.8L116.5 202.8L119 202.8L121.4 202.8L123.8 202.8L126.2 202.8L128.6 202.8L131 202.8L133.5 202.8L135.9 202.8L138.3 202.8L140.7 202.8L143.1 202.8L145.5 202.8L147.9 202.8L150.4 202.8L152.8 202.8L155.2 202.8L157.6 202.8L160 202.8L162.4 202.8L164.8 202.8L167.3 202.8L169.7 202.8L172.1 202.8L174.5 202.8L176.9 202.8L179.3 202.8L181.8 202.8L184.2 202.8L186.6 202.8L189 202.8L191.4 202.8L193.8 202.8L196.2 202.8L198.7 202.8L201.1 202.8L203.5 202.8L205.9 202.8L208.3 202.8L210.7 202.8L213.2 202.8L215.6 202.8L218 202.8L220.4 202.8L222.8 202.8L225.2 202.8L227.6 202.8L230.1 202.8L232.5 202.8L234.9 202.8L237.3 202.8L239.7 202.8L242.1 202.8L244.5 202.8L247 202.8L249.4 202.8L251.8 202.8L254.2 202.8L256.6 202.8L259 202.8L261.5 202.8L263.9 202.8L266.3 202.8L268.7 202.8L268.7 200.7L268.7 198.7L268.7 196.7L268.7 194.7L268.7 192.7L268.7 190.7L268.7 188.7L268.7 186.7L268.7 184.7L268.7 182.7L268.7 180.7L268.7 178.7L268.7 176.7L268.7 174.7L268.7 172.7L268.7 170.7L268.7 168.7L268.7 166.7L268.7 164.7L268.7 162.7L268.7 160.7L268.7 158.7L268.7 156.7L268.7 154.7L268.7 152.7L268.7 150.7L268.7 149.6L266.3 149.2L263.9 148.8L263 148.7L261.5 148.6L259 148.5L256.6 148.3L254.2 148L251.8 147.6L249.4 147.2L247 146.7L246.6 146.7L244.5 146.6L242.1 146.4L239.7 146.1L237.3 145.8L234.9 145.3L232.5 144.8L231.9 144.7L230.1 144.6L227.6 144.4L225.2 144.1L222.8 143.6L220.4 143L218.6 142.7L218 142.6L215.6 142.5L213.2 142.1L210.7 141.7L208.3 141.1L206.5 140.7L205.9 140.6L203.5 140.4L201.1 140L198.7 139.4L196.2 138.8L195.7 138.7L193.8 138.5L191.4 138.2L189 137.6L186.6 136.9L185.8 136.7L184.2 136.5L181.8 136.1L179.3 135.5L176.9 134.7L176.8 134.7L174.5 134.4L172.1 133.9L169.7 133.1L168.4 132.7L167.3 132.5L164.8 132.1L162.4 131.2L160.7 130.7L160 130.6L157.6 130.1L155.2 129.2L153.7 128.7L152.8 128.5L150.4 127.9L147.9 126.9L147.4 126.7L145.5 126.3L143.1 125.4L141.3 124.7L140.7 124.5L138.3 123.8L135.9 122.7L133.5 122L131 120.8L130.8 120.7L128.6 120L126.2 118.7L126.1 118.7L123.8 117.9L121.5 116.7L121.4 116.6L119 115.6L117.3 114.7L116.5 114.4L114.1 113L113.5 112.7L111.7 111.9L109.8 110.7L109.3 110.4L106.9 108.8L106.6 108.7L104.5 107.5L103.2 106.7L102.1 106L100.2 104.7L99.6 104.3L97.5 102.6L97.2 102.5L94.9 100.6L94.8 100.6L92.5 98.6L92.4 98.6L90.1 96.6L90 96.6L87.8 94.6L87.6 94.4L85.6 92.6L85.1 92.2L83.5 90.6L82.7 89.7L81.8 88.6L80.3 86.8L80.2 86.6L78.2 84.6L77.9 84.1L76.5 82.6L75.5 80.9L75.3 80.6L73.5 78.6L73.1 77.7L72.3 76.6L70.9 74.6L70.7 74.1L69.6 72.6L68.4 70.6L68.2 70.1L67.2 68.6L66.1 66.6L65.8 65.7L65.2 64.6L63.9 62.6L63.4 60.7L63.4 60.6L62 58.6L61.2 56.6L61 55.5L60.6 54.6L59.4 52.6L58.8 50.6L58.6 49.5L58.2 48.6L57.1 46.6L56.5 44.6L56.2 42.6L56.2 42.5L55.2 40.6L54.4 38.6L54 36.6L53.8 34.7L53.7 34.6L52.8 32.6L52.1 30.6L51.6 28.6L51.4 26.7L51.3 26.6L51.3 25.8L51 24.6L50.2 22.6L49.6 20.6L49.4 19L48.9 18.6L48.9 16.6L48.9 14.9L48.8 14.6L48.2 12.6L47.5 10.6L47.1 8.6L46.9 6.9L46.5 6.6L46.5 4.6L44.1 4.6L41.7 4.6L39.3 4.6L36.8 4.6L34.4 4.6L32 4.6L29.6 4.6L29.6 6.6L29.6 8.6L29.6 10.6L29.6 12.6L29.6 14.6L29.6 16.6L29.6 18.6L29.6 20.6L29.6 22.6L29.6 24.6L29.6 26.6L29.6 28.6L29.6 30.6L29.6 32.6L29.6 34.6L29.6 36.6L29.6 38.6L29.6 40.6L29.6 42.6L29.6 44.6L29.6 46.6L29.6 48.6L29.6 50.6L29.6 52.6L29.6 54.6L29.6 56.6L29.6 58.6L29.6 60.6L29.6 62.6L29.6 64.6L29.6 66.6L29.6 68.6L29.6 70.6L29.6 72.6L29.6 74.6L29.6 76.6L29.6 78.6L29.6 80.6L29.6 82.6L29.6 84.6L29.6 86.6L29.6 88.6L29.6 90.6L29.6 92.6L29.6 94.6L29.6 96.6L29.6 98.6L29.6 100.6L29.6 102.6L29.6 104.7L29.6 106.7L29.6 108.7L29.6 110.7L29.6 112.7L29.6 114.7L29.6 116.7L29.6 118.7L29.6 120.7L29.6 122.7L29.6 124.7L29.6 126.7L29.6 128.7L29.6 130.7L29.6 132.7L29.6 134.7L29.6 136.7L29.6 138.7L29.6 140.7L29.6 142.7L29.6 144.7L29.6 146.7L29.6 148.7L29.6 150.7L29.6 152.7L29.6 154.7L29.6 156.7L29.6 158.7L29.6 160.7L29.6 162.7L29.6 164.7L29.6 166.7L29.6 168.7L29.6 170.7L29.6 172.7L29.6 174.7L29.6 176.7L29.6 178.7L29.6 180.7L29.6 182.7L29.6 184.7L29.6 186.7L29.6 188.7L29.6 190.7L29.6 192.7L29.6 194.7L29.6 196.7L29.6 198.7L29.6 200.7L29.6 202.8L32 202.8Z"/>
<path fill="#319a50" d="M32 202.8L34.4 202.8L36.8 202.8L39.3 202.8L41.7 202.8L44.1 202.8L46.5 202.8L48.9 202.8L51.3 202.8L53.8 202.8L56.2 202.8L58.6 202.8L61 202.8L63.4 202.8L65.8 202.8L68.2 202.8L70.7 202.8L73.1 202.8L75.5 202.8L77.9 202.8L80.3 202.8L82.7 202.8L85.1 202.8L87.6 202.8L90 202.8L92.4 202.8L94.8 202.8L97.2 202.8L99.6 202.8L102.1 202.8L104.5 202.8L106.9 202.8L109.3 202.8L111.7 202.8L114.1 202.8L116.5 202.8L119 202.8L121.4 202.8L123.8 202.8L126.2 202.8L128.6 202.8L131 202.8L133.5 202.8L135.9 202.8L138.3 202.8L140.7 202.8L143.1 202.8L145.5 202.8L147.9 202.8L150.4 202.8L152.8 202.8L155.2 202.8L157.6 202.8L160 202.8L162.4 202.8L164.8 202.8L167.3 202.8L169.7 202.8L172.1 202.8L174.5 202.8L176.9 202.8L179.3 202.8L181.8 202.8L184.2 202.8L186.6 202.8L189 202.8L191.4 202.8L193.8 202.8L196.2 202.8L198.7 202.8L201.1 202.8L203.5 202.8L205.9 202.8L208.3 202.8L210.7 202.8L213.2 202.8L215.6 202.8L218 202.8L220.4 202.8L222.8 202.8L225.2 202.8L227.6 202.8L230.1 202.8L232.5 202.8L234.9 202.8L237.3 202.8L239.7 202.8L242.1 202.8L244.5 202.8L247 202.8L249.4 202.8L251.8 202.8L254.2 202.8L256.6 202.8L259 202.8L261.5 202.8L263.9 202.8L266.3 202.8L268.7 202.8L268.7 200.7L268.7 198.7L268.7 196.7L268.7 194.7L268.7 192.7L268.7 190.7L268.7 188.7L268.7 186.7L268.7 184.7L268.7 182.7L268.7 180.7L268.7 178.7L268.7 176.7L268.7 174.7L268.7 172.7L268.7 170.7L268.7 168.7L268.7 166.7L268.7 164.7L268.7 162.7L268.7 160.7L268.7 158.7L268.7 156.7L268.7 154.7L268.7 152.7L268.7 150.7L268.7 150.1L266.3 149.7L263.9 149.4L261.5 149.1L259 148.8L258 148.7L256.6 148.6L254.2 148.4L251.8 148.1L249.4 147.7L247 147.4L244.5 147L242.1 146.7L242 146.7L239.7 146.5L237.3 146.2L234.9 145.8L232.5 145.4L230.1 145.1L227.6 144.7L225.2 144.5L222.8 144.1L220.4 143.7L218 143.2L215.6 142.8L214.6 142.7L213.2 142.5L210.7 142.2L208.3 141.7L205.9 141.2L203.5 140.8L202.9 140.7L201.1 140.5L198.7 140L196.2 139.5L193.8 139L192.2 138.7L191.4 138.6L189 138.2L186.6 137.6L184.2 137L182.5 136.7L181.8 136.6L179.3 136.1L176.9 135.5L174.5 134.9L173.7 134.7L172.1 134.4L169.7 133.8L167.3 133.1L165.5 132.7L164.8 132.6L162.4 131.9L160 131.2L158.1 130.7L157.6 130.6L155.2 129.9L152.8 129.1L151.2 128.7L150.4 128.5L147.9 127.7L145.5 126.9L144.9 126.7L143.1 126.2L140.7 125.2L139.1 124.7L138.3 124.5L135.9 123.5L133.7 122.7L133.5 122.6L131 121.6L128.7 120.7L128.6 120.7L126.2 119.6L124 118.7L123.8 118.6L121.4 117.5L119.7 116.7L119 116.4L116.5 115.1L115.6 114.7L114.1 113.9L111.8 112.7L111.7 112.6L109.3 111.2L108.3 110.7L106.9 109.8L105 108.7L104.5 108.4L102.1 106.8L101.9 106.7L99.6 105.1L99 104.7L97.2 103.4L96.2 102.6L94.8 101.6L93.6 100.6L92.4 99.7L91.2 98.6L90 97.6L88.9 96.6L87.6 95.4L86.7 94.6L85.1 93.1L84.7 92.6L82.7 90.7L82.7 90.6L80.8 88.6L80.3 88L79.1 86.6L77.9 85.2L77.4 84.6L75.8 82.6L75.5 82.2L74.3 80.6L73.1 78.8L72.9 78.6L71.5 76.6L70.7 75.3L70.3 74.6L68.9 72.6L68.2 71.3L67.8 70.6L66.5 68.6L65.8 67L65.6 66.6L64.5 64.6L63.5 62.6L63.4 62.3L62.6 60.6L61.5 58.6L61 56.9L60.8 56.6L59.9 54.6L59 52.6L58.6 51L58.4 50.6L57.6 48.6L56.7 46.6L56.2 44.6L56.2 44.2L55.6 42.6L54.8 40.6L54.1 38.6L53.8 36.6L53.8 36.5L53.2 34.6L52.4 32.6L51.8 30.6L51.4 28.6L51.3 27.5L51.1 26.6L50.5 24.6L49.8 22.6L49.3 20.6L49.1 18.7L48.9 18.6L48.9 16.9L48.9 16.6L48.4 14.6L47.8 12.6L47.3 10.6L46.9 8.6L46.7 6.7L46.5 6.6L46.5 4.6L44.1 4.6L41.7 4.6L39.3 4.6L36.8 4.6L34.4 4.6L32 4.6L29.6 4.6L29.6 6.6L29.6 8.6L29.6 10.6L29.6 12.6L29.6 14.6L29.6 16.6L29.6 18.6L29.6 20.6L29.6 22.6L29.6 24.6L29.6 26.6L29.6 28.6L29.6 30.6L29.6 32.6L29.6 34.6L29.6 36.6L29.6 38.6L29.6 40.6L29.6 42.6L29.6 44.6L29.6 46.6L29.6 48.6L29.6 50.6L29.6 52.6L29.6 54.6L29.6 56.6L29.6 58.6L29.6 60.6L29.6 62.6L29.6 64.6L29.6 66.6L29.6 68.6L29.6 70.6L29.6 72.6L29.6 74.6L29.6 76.6L29.6 78.6L29.6 80.6L29.6 82.6L29.6 84.6L29.6 86.6L29.6 88.6L29.6 90.6L29.6 92.6L29.6 94.6L29.6 96.6L29.6 98.6L29.6 100.6L29.6 102.6L29.6 104.7L29.6 106.7L29.6 108.7L29.6 110.7L29.6 112.7L29.6 114.7L29.6 116.7L29.6 118.7L29.6 120.7L29.6 122.7L29.6 124.7L29.6 126.7L29.6 128.7L29.6 130.7L29.6 132.7L29.6 134.7L29.6 136.7L29.6 138.7L29.6 140.7L29.6 142.7L29.6 144.7L29.6 146.7L29.6 148.7L29.6 150.7L29.6 152.7L29.6 154.7L29.6 156.7L29.6 158.7L29.6 160.7L29.6 162.7L29.6 164.7L29.6 166.7L29.6 168.7L29.6 170.7L29.6 172.7L29.6 174.7L29.6 176.7L29.6 178.7L29.6 180.7L29.6 182.7L29.6 184.7L29.6 186.7L29.6 188.7L29.6 190.7L29.6 192.7L29.6 194.7L29.6 196.7L29.6 198.7L29.6 200.7L29.6 202.8L32 202.8Z"/>
<path fill="#359e53" d="M32 202.8L34.4 202.8L36.8 202.8L39.3 202.8L41.7 202.8L44.1 202.8L46.5 202.8L48.9 202.8L51.3 202.8L53.8 202.8L56.2 202.8L58.6 202.8L61 202.8L63.4 202.8L65.8 202.8L68.2 202.8L70.7 202.8L73.1 202.8L75.5 202.8L77.9 202.8L80.3 202.8L82.7 202.8L85.1 202.8L87.6 202.8L90 202.8L92.4 202.8L94.8 202.8L97.2 202.8L99.6 202.8L102.1 202.8L104.5 202.8L106.9 202.8L109.3 202.8L111.7 202.8L114.1 202.8L116.5 202.8L119 202.8L121.4 202.8L123.8 202.8L126.2 202.8L128.6 202.8L131 202.8L133.5 202.8L135.9 202.8L138.3 202.8L140.7 202.8L143.1 202.8L145.5 202.8L147.9 202.8L150.4 202.8L152.8 202.8L155.2 202.8L157.6 202.8L160 202.8L162.4 202.8L164.8 202.8L167.3 202.8L169.7 202.8L172.1 202.8L174.5 202.8L176.9 202.8L179.3 202.8L181.8 202.8L184.2 202.8L186.6 202.8L189 202.8L191.4 202.8L193.8 202.8L196.2 202.8L198.7 202.8L201.1 202.8L203.5 202.8L205.9 202.8L208.3 202.8L210.7 202.8L213.2 202.8L215.6 202.8L218 202.8L220.4 202.8L222.8 202.8L225.2 202.8L227.6 202.8L230.1 202.8L232.5 202.8L234.9 202.8L237.3 202.8L239.7 202.8L242.1 202.8L244.5 202.8L247 202.8L249.4 202.8L251.8 202.8L254.2 202.8L256.6 202.8L259 202.8L261.5 202.8L263.9 202.8L266.3 202.8L268.7 202.8L268.7 200.7L268.7 198.7L268.7 196.7L268.7 194.7L268.7 192.7L268.7 190.7L268.7 188.7L268.7 186.7L268.7 184.7L268.7 182.7L268.7 180.7L268.7 178.7L268.7 176.7L268.7 174.7L268.7 172.7L268.7 170.7L268.7 168.7L268.7 166.7L268.7 164.7L268.7 162.7L268.7 160.7L268.7 158.7L268.7 156.7L268.7 154.7L268.7 152.7L268.7 150.7L268.7 150.5L266.3 150.3L263.9 150L261.5 149.7L259 149.4L256.6 149.1L254.2 148.8L253 148.7L251.8 148.6L249.4 148.3L247 148L244.5 147.7L242.1 147.3L239.7 147L237.3 146.7L234.9 146.4L232.5 146L230.1 145.7L227.6 145.4L225.2 145L223.2 144.7L222.8 144.6L220.4 144.3L218 143.9L215.6 143.5L213.2 143.1L210.7 142.7L210.5 142.7L208.3 142.3L205.9 141.9L203.5 141.5L201.1 141.1L199.1 140.7L198.7 140.6L196.2 140.2L193.8 139.7L191.4 139.2L189 138.8L188.6 138.7L186.6 138.3L184.2 137.8L181.8 137.3L179.3 136.7L179.1 136.7L176.9 136.2L174.5 135.6L172.1 135.1L170.5 134.7L169.7 134.5L167.3 133.9L164.8 133.3L162.5 132.7L162.4 132.7L160 132L157.6 131.4L155.3 130.7L155.2 130.7L152.8 130L150.4 129.2L148.6 128.7L147.9 128.5L145.5 127.7L143.1 126.9L142.4 126.7L140.7 126.1L138.3 125.3L136.7 124.7L135.9 124.4L133.5 123.5L131.4 122.7L131 122.5L128.6 121.6L126.5 120.7L126.2 120.6L123.8 119.5L121.9 118.7L121.4 118.4L119 117.3L117.7 116.7L116.5 116.1L114.1 114.9L113.7 114.7L111.7 113.6L110 112.7L109.3 112.3L106.9 110.9L106.6 110.7L104.5 109.4L103.3 108.7L102.1 107.8L100.3 106.7L99.6 106.2L97.4 104.7L97.2 104.5L94.8 102.7L94.7 102.6L92.4 100.8L92.2 100.6L90 98.8L89.8 98.6L87.6 96.6L85.4 94.6L85.1 94.4L83.4 92.6L82.7 91.9L81.5 90.6L80.3 89.3L79.7 88.6L78 86.6L77.9 86.5L76.4 84.6L75.5 83.5L74.8 82.6L73.4 80.6L73.1 80.2L72 78.6L70.7 76.7L70.6 76.6L69.4 74.6L68.2 72.8L68.1 72.6L67 70.6L65.9 68.6L65.8 68.5L64.8 66.6L63.8 64.6L63.4 63.8L62.8 62.6L61.9 60.6L61 58.6L60.2 56.6L59.3 54.6L58.6 52.7L58.5 52.6L57.8 50.6L57 48.6L56.3 46.6L56.2 46L55.7 44.6L55 42.6L54.3 40.6L53.8 38.6L53.8 38.4L53.2 36.6L52.7 34.6L52 32.6L51.5 30.6L51.3 29.5L51.1 28.6L50.6 26.6L50.1 24.6L49.5 22.6L49.1 20.6L48.9 19L48.8 18.6L48.4 16.6L48 14.6L47.5 12.6L47 10.6L46.7 8.6L46.5 6.6L46.5 6.3L46.2 4.6L44.1 4.6L41.7 4.6L39.3 4.6L36.8 4.6L34.4 4.6L32 4.6L29.6 4.6L29.6 6.6L29.6 8.6L29.6 10.6L29.6 12.6L29.6 14.6L29.6 16.6L29.6 18.6L29.6 20.6L29.6 22.6L29.6 24.6L29.6 26.6L29.6 28.6L29.6 30.6L29.6 32.6L29.6 34.6L29.6 36.6L29.6 38.6L29.6 40.6L29.6 42.6L29.6 44.6L29.6 46.6L29.6 48.6L29.6 50.6L29.6 52.6L29.6 54.6L29.6 56.6L29.6 58.6L29.6 60.6L29.6 62.6L29.6 64.6L29.6 66.6L29.6 68.6L29.6 70.6L29.6 72.6L29.6 74.6L29.6 76.6L29.6 78.6L29.6 80.6L29.6 82.6L29.6 84.6L29.6 86.6L29.6 88.6L29.6 90.6L29.6 92.6L29.6 94.6L29.6 96.6L29.6 98.6L29.6 100.6L29.6 102.6L29.6 104.7L29.6 106.7L29.6 108.7L29.6 110.7L29.6 112.7L29.6 114.7L29.6 116.7L29.6 118.7L29.6 120.7L29.6 122.7L29.6 124.7L29.6 126.7L29.6 128.7L29.6 130.7L29.6 132.7L29.6 134.7L29.6 136.7L29.6 138.7L29.6 140.7L29.6 142.7L29.6 144.7L29.6 146.7L29.6 148.7L29.6 150.7L29.6 152.7L29.6 154.7L29.6 156.7L29.6 158.7L29.6 160.7L29.6 162.7L29.6 164.7L29.6 166.7L29.6 168.7L29.6 170.7L29.6 172.7L29.6 174.7L29.6 176.7L29.6 178.7L29.6 180.7L29.6 182.7L29.6 184.7L29.6 186.7L29.6 188.7L29.6 190.7L29.6 192.7L29.6 194.7L29.6 196.7L29.6 198.7L29.6 200.7L29.6 202.8L32 202.8Z"/>
<path fill="#3aa357" d="M32 202.8L34.4 202.8L36.8 202.8L39.3 202.8L41.7 202.8L44.1 202.8L46.5 202.8L48.9 202.8L51.3 202.8L53.8 202.8L56.2 202.8L58.6 202.8L61 202.8L63.4 202.8L65.8 202.8L68.2 202.8L70.7 202.8L73.1 202.8L75.5 202.8L77.9 202.8L80.3 202.8L82.7 202.8L85.1 202.8L87.6 202.8L90 202.8L92.4 202.8L94.8 202.8L97.2 202.8L99.6 202.8L102.1 202.8L104.5 202.8L106.9 202.8L109.3 202.8L111.7 202.8L114.1 202.8L116.5 202.8L119 202.8L121.4 202.8L123.8 202.8L126.2 202.8L128.6 202.8L131 202.8L133.5 202.8L135.9 202.8L138.3 202.8L140.7 202.8L143.1 202.8L145.5 202.8L147.9 202.8L150.4 202.8L152.8 202.8L155.2 202.8L157.6 202.8L160 202.8L162.4 202.8L164.8 202.8L167.3 202.8L169.7 202.8L172.1 202.8L174.5 202.8L176.9 202.8L179.3 202.8L181.8 202.8L184.2 202.8L186.6 202.8L189 202.8L191.4 202.8L193.8 202.8L196.2 202.8L198.7 202.8L201.1 202.8L203.5 202.8L205.9 202.8L208.3 202.8L210.7 202.8L213.2 202.8L215.6 202.8L218 202.8L220.4 202.8L222.8 202.8L225.2 202.8L227.6 202.8L230.1 202.8L232.5 202.8L234.9 202.8L237.3 202.8L239.7 202.8L242.1 202.8L244.5 202.8L247 202.8L249.4 202.8L251.8 202.8L254.2 202.8L256.6 202.8L259 202.8L261.5 202.8L263.9 202.8L266.3 202.8L268.7 202.8L268.7 200.7L268.7 198.7L268.7 196.7L268.7 194.7L268.7 192.7L268.7 190.7L268.7 188.7L268.7 186.7L268.7 184.7L268.7 182.7L268.7 180.7L268.7 178.7L268.7 176.7L268.7 174.7L268.7 172.7L268.7 170.7L268.7 168.7L268.7 166.7L268.7 164.7L268.7 162.7L268.7 160.7L268.7 158.7L268.7 156.7L268.7 154.7L268.7 152.7L268.7 151.1L266.3 150.8L265 150.7L263.9 150.6L261.5 150.3L259 150L256.6 149.8L254.2 149.5L251.8 149.2L249.4 148.9L247.9 148.7L247 148.6L244.5 148.3L242.1 148L239.7 147.7L237.3 147.3L234.9 147L232.6 146.7L232.5 146.7L230.1 146.4L227.6 146L225.2 145.7L222.8 145.3L220.4 144.9L218.8 144.7L218 144.6L215.6 144.2L213.2 143.8L210.7 143.4L208.3 143L206.4 142.7L205.9 142.6L203.5 142.2L201.1 141.8L198.7 141.3L196.2 140.9L195.2 140.7L193.8 140.4L191.4 140L189 139.5L186.6 139L185 138.7L184.2 138.5L181.8 138L179.3 137.5L176.9 137L175.7 136.7L174.5 136.4L172.1 135.9L169.7 135.3L167.3 134.7L164.8 134.1L162.4 133.5L160 132.8L159.5 132.7L157.6 132.2L155.2 131.5L152.8 130.8L152.4 130.7L150.4 130.1L147.9 129.3L145.8 128.7L145.5 128.6L143.1 127.8L140.7 127L139.8 126.7L138.3 126.2L135.9 125.3L134.2 124.7L133.5 124.4L131 123.5L129.1 122.7L128.6 122.5L126.2 121.5L124.3 120.7L123.8 120.5L121.4 119.4L119.8 118.7L119 118.3L116.5 117.1L115.7 116.7L114.1 115.9L111.8 114.7L111.7 114.6L109.3 113.3L108.2 112.7L106.9 111.9L104.8 110.7L104.5 110.5L102.1 108.9L101.6 108.7L99.6 107.3L98.7 106.7L97.2 105.6L95.9 104.7L94.8 103.9L93.2 102.6L92.4 102L90.8 100.6L90 100L88.4 98.6L87.6 97.9L86.2 96.6L85.1 95.6L84.2 94.6L82.7 93.2L82.2 92.6L80.3 90.6L78.6 88.6L77.9 87.8L76.9 86.6L75.5 84.9L75.3 84.6L73.8 82.6L73.1 81.6L72.4 80.6L71 78.6L70.7 78.1L69.7 76.6L68.4 74.6L68.2 74.3L67.3 72.6L66.1 70.6L65.8 70.1L65 68.6L64 66.6L63.4 65.4L63 64.6L62.1 62.6L61.2 60.6L61 60.2L60.3 58.6L59.5 56.6L58.7 54.6L58.6 54.4L57.9 52.6L57.1 50.6L56.4 48.6L56.2 47.8L55.7 46.6L55.1 44.6L54.5 42.6L53.8 40.6L53.8 40.2L53.3 38.6L52.7 36.6L52.1 34.6L51.6 32.6L51.3 31.5L51.1 30.6L50.6 28.6L50.1 26.6L49.6 24.6L49.2 22.6L48.9 21.1L48.8 20.6L48.4 18.6L48 16.6L47.6 14.6L47.1 12.6L46.7 10.6L46.5 8.6L46.5 8.5L46.2 6.6L45.8 4.6L44.1 4.6L41.7 4.6L39.3 4.6L36.8 4.6L34.4 4.6L32 4.6L29.6 4.6L29.6 6.6L29.6 8.6L29.6 10.6L29.6 12.6L29.6 14.6L29.6 16.6L29.6 18.6L29.6 20.6L29.6 22.6L29.6 24.6L29.6 26.6L29.6 28.6L29.6 30.6L29.6 32.6L29.6 34.6L29.6 36.6L29.6 38.6L29.6 40.6L29.6 42.6L29.6 44.6L29.6 46.6L29.6 48.6L29.6 50.6L29.6 52.6L29.6 54.6L29.6 56.6L29.6 58.6L29.6 60.6L29.6 62.6L29.6 64.6L29.6 66.6L29.6 68.6L29.6 70.6L29.6 72.6L29.6 74.6L29.6 76.6L29.6 78.6L29.6 80.6L29.6 82.6L29.6 84.6L29.6 86.6L29.6 88.6L29.6 90.6L29.6 92.6L29.6 94.6L29.6 96.6L29.6 98.6L29.6 100.6L29.6 102.6L29.6 104.7L29.6 106.7L29.6 108.7L29.6 110.7L29.6 112.7L29.6 114.7L29.6 116.7L29.6 118.7L29.6 120.7L29.6 122.7L29.6 124.7L29.6 126.7L29.6 128.7L29.6 130.7L29.6 132.7L29.6 134.7L29.6 136.7L29.6 138.7L29.6 140.7L29.6 142.7L29.6 144.7L29.6 146.7L29.6 148.7L29.6 150.7L29.6 152.7L29.6 154.7L29.6 156.7L29.6 158.7L29.6 160.7L29.6 162.7L29.6 164.7L29.6 166.7L29.6 168.7L29.6 170.7L29.6 172.7L29.6 174.7L29.6 176.7L29.6 178.7L29.6 180.7L29.6 182.7L29.6 184.7L29.6 186.7L29.6 188.7L29.6 190.7L29.6 192.7L29.6 194.7L29.6 196.7L29.6 198.7L29.6 200.7L29.6 202.8L32 202.8Z"/>
<path fill="#3ea75a" d="M32 202.8L34.4 202.8L36.8 202.8L39.3 202.8L41.7 202.8L44.1 202.8L46.5 202.8L48.9 202.8L51.3 202.8L53.8 202.8L56.2 202.8L58.6 202.8L61 202.8L63.4 202.8L65.8 202.8L68.2 202.8L70.7 202.8L73.1 202.8L75.5 202.8L77.9 202.8L80.3 202.8L82.7 202.8L85.1 202.8L87.6 202.8L90 202.8L92.4 202.8L94.8 202.8L97.2 202.8L99.6 202.8L102.1 202.8L104.5 202.8L106.9 202.8L109.3 202.8L111.7 202.8L114.1 202.8L116.5 202.8L119 202.8L121.4 202.8L123.8 202.8L126.2 202.8L128.6 202.8L131 202.8L133.5 202.8L135.9 202.8L138.3 202.8L140.7 202.8L143.1 202.8L145.5 202.8L147.9 202.8L150.4 202.8L152.8 202.8L155.2 202.8L157.6 202.8L160 202.8L162.4 202.8L164.8 202.8L167.3 202.8L169.7 202.8L172.1 202.8L174.5 202.8L176.9 202.8L179.3 202.8L181.8 202.8L184.2 202.8L186.6 202.8L189 202.8L191.4 202.8L193.8 202.8L196.2 202.8L198.7 202.8L201.1 202.8L203.5 202.8L205.9 202.8L208.3 202.8L210.7 202.8L213.2 202.8L215.6 202.8L218 202.8L220.4 202.8L222.8 202.8L225.2 202.8L227.6 202.8L230.1 202.8L232.5 202.8L234.9 202.8L237.3 202.8L239.7 202.8L242.1 202.8L244.5 202.8L247 202.8L249.4 202.8L251.8 202.8L254.2 202.8L256.6 202.8L259 202.8L261.5 202.8L263.9 202.8L266.3 202.8L268.7 202.8L268.7 200.7L268.7 198.7L268.7 196.7L268.7 194.7L268.7 192.7L268.7 190.7L268.7 188.7L268.7 186.7L268.7 184.7L268.7 182.7L268.7 180.7L268.7 178.7L268.7 176.7L268.7 174.7L268.7 172.7L268.7 170.7L268.7 168.7L268.7 166.7L268.7 164.7L268.7 162.7L268.7 160.7L268.7 158.7L268.7 156.7L268.7 154.7L268.7 152.7L268.7 151.7L266.3 151.5L263.9 151.2L261.5 150.9L259.4 150.7L259 150.7L256.6 150.4L254.2 150.1L251.8 149.8L249.4 149.5L247 149.2L244.5 148.9L242.7 148.7L242.1 148.6L239.7 148.3L237.3 148L234.9 147.7L232.5 147.4L230.1 147L227.8 146.7L227.6 146.7L225.2 146.3L222.8 146L220.4 145.6L218 145.3L215.6 144.9L214.4 144.7L213.2 144.5L210.7 144.1L208.3 143.7L205.9 143.3L203.5 142.9L202.2 142.7L201.1 142.5L198.7 142.1L196.2 141.6L193.8 141.2L191.4 140.7L191.3 140.7L189 140.3L186.6 139.8L184.2 139.3L181.8 138.8L181.3 138.7L179.3 138.3L176.9 137.7L174.5 137.2L172.3 136.7L172.1 136.6L169.7 136.1L167.3 135.5L164.8 134.9L164 134.7L162.4 134.3L160 133.7L157.6 133L156.4 132.7L155.2 132.3L152.8 131.7L150.4 130.9L149.5 130.7L147.9 130.2L145.5 129.5L143.1 128.7L140.7 127.9L138.3 127.1L137.2 126.7L135.9 126.2L133.5 125.3L131.8 124.7L131 124.4L128.6 123.5L126.7 122.7L126.2 122.5L123.8 121.4L122 120.7L121.4 120.4L119 119.3L117.7 118.7L116.5 118.1L114.1 116.9L113.6 116.7L111.7 115.7L109.9 114.7L109.3 114.4L106.9 113L106.3 112.7L104.5 111.6L103 110.7L102.1 110L99.9 108.7L99.6 108.5L97.2 106.8L97 106.7L94.8 105L94.3 104.7L92.4 103.2L91.7 102.6L90 101.2L89.3 100.6L87.6 99.1L87.1 98.6L85.1 96.9L84.9 96.6L82.9 94.6L82.7 94.5L81 92.6L80.3 91.9L79.1 90.6L77.9 89.2L77.4 88.6L75.8 86.6L75.5 86.3L74.2 84.6L73.1 83.1L72.8 82.6L71.4 80.6L70.7 79.6L70 78.6L68.7 76.6L68.2 75.8L67.5 74.6L66.4 72.6L65.8 71.6L65.3 70.6L64.2 68.6L63.4 67L63.2 66.6L62.2 64.6L61.3 62.6L61 61.9L60.4 60.6L59.6 58.6L58.8 56.6L58.6 56.2L58 54.6L57.2 52.6L56.5 50.6L56.2 49.6L55.8 48.6L55.1 46.6L54.5 44.6L53.9 42.6L53.8 42.2L53.3 40.6L52.7 38.6L52.1 36.6L51.6 34.6L51.3 33.5L51.1 32.6L50.6 30.6L50.1 28.6L49.7 26.6L49.2 24.6L48.9 23.2L48.8 22.6L48.4 20.6L47.9 18.6L47.6 16.6L47.2 14.6L46.8 12.6L46.5 10.8L46.5 10.6L46.1 8.6L45.8 6.6L45.4 4.6L44.1 4.6L41.7 4.6L39.3 4.6L36.8 4.6L34.4 4.6L32 4.6L29.6 4.6L29.6 6.6L29.6 8.6L29.6 10.6L29.6 12.6L29.6 14.6L29.6 16.6L29.6 18.6L29.6 20.6L29.6 22.6L29.6 24.6L29.6 26.6L29.6 28.6L29.6 30.6L29.6 32.6L29.6 34.6L29.6 36.6L29.6 38.6L29.6 40.6L29.6 42.6L29.6 44.6L29.6 46.6L29.6 48.6L29.6 50.6L29.6 52.6L29.6 54.6L29.6 56.6L29.6 58.6L29.6 60.6L29.6 62.6L29.6 64.6L29.6 66.6L29.6 68.6L29.6 70.6L29.6 72.6L29.6 74.6L29.6 76.6L29.6 78.6L29.6 80.6L29.6 82.6L29.6 84.6L29.6 86.6L29.6 88.6L29.6 90.6L29.6 92.6L29.6 94.6L29.6 96.6L29.6 98.6L29.6 100.6L29.6 102.6L29.6 104.7L29.6 106.7L29.6 108.7L29.6 110.7L29.6 112.7L29.6 114.7L29.6 116.7L29.6 118.7L29.6 120.7L29.6 122.7L29.6 124.7L29.6 126.7L29.6 128.7L29.6 130.7L29.6 132.7L29.6 134.7L29.6 136.7L29.6 138.7L29.6 140.7L29.6 142.7L29.6 144.7L29.6 146.7L29.6 148.7L29.6 150.7L29.6 152.7L29.6 154.7L29.6 156.7L29.6 158.7L29.6 160.7L29.6 162.7L29.6 164.7L29.6 166.7L29.6 168.7L29.6 170.7L29.6 172.7L29.6 174.7L29.6 176.7L29.6 178.7L29.6 180.7L29.6 182.7L29.6 184.7L29.6 186.7L29.6 188.7L29.6 190.7L29.6 192.7L29.6 194.7L29.6 196.7L29.6 198.7L29.6 200.7L29.6 202.8L32 202.8Z"/>
<path fill="#42ab5d" d="M32 202.8L34.4 202.8L36.8 202.8L39.3 202.8L41.7 202.8L44.1 202.8L46.5 202.8L48.9 202.8L51.3 202.8L53.8 202.8L56.2 202.8L58.6 202.8L61 202.8L63.4 202.8L65.8 202.8L68.2 202.8L70.7 202.8L73.1 202.8L75.5 202.8L77.9 202.8L80.3 202.8L82.7 202.8L85.1 202.8L87.6 202.8L90 202.8L92.4 202.8L94.8 202.8L97.2 202.8L99.6 202.8L102.1 202.8L104.5 202.8L106.9 202.8L109.3 202.8L111.7 202.8L114.1 202.8L116.5 202.8L119 202.8L121.4 202.8L123.8 202.8L126.2 202.8L128.6 202.8L131 202.8L133.5 202.8L135.9 202.8L138.3 202.8L140.7 202.8L143.1 202.8L145.5 202.8L147.9 202.8L150.4 202.8L152.8 202.8L155.2 202.8L157.6 202.8L160 202.8L162.4 202.8L164.8 202.8L167.3 202.8L169.7 202.8L172.1 202.8L174.5 202.8L176.9 202.8L179.3 202.8L181.8 202.8L184.2 202.8L186.6 202.8L189 202.8L191.4 202.8L193.8 202.8L196.2 202.8L198.7 202.8L201.1 202.8L203.5 202.8L205.9 202.8L208.3 202.8L210.7 202.8L213.2 202.8L215.6 202.8L218 202.8L220.4 202.8L222.8 202.8L225.2 202.8L227.6 202.8L230.1 202.8L232.5 202.8L234.9 202.8L237.3 202.8L239.7 202.8L242.1 202.8L244.5 202.8L247 202.8L249.4 202.8L251.8 202.8L254.2 202.8L256.6 202.8L259 202.8L261.5 202.8L263.9 202.8L266.3 202.8L268.7 202.8L268.7 200.7L268.7 198.7L268.7 196.7L268.7 194.7L268.7 192.7L268.7 190.7L268.7 188.7L268.7 186.7L268.7 184.7L268.7 182.7L268.7 180.7L268.7 178.7L268.7 176.7L268.7 174.7L268.7 172.7L268.7 170.7L268.7 168.7L268.7 166.7L268.7 164.7L268.7 162.7L268.7 160.7L268.7 158.7L268.7 156.7L268.7 154.7L268.7 152.7L268.7 152.3L266.3 152.1L263.9 151.8L261.5 151.6L259 151.3L256.6 151L254.2 150.7L253.9 150.7L251.8 150.5L249.4 150.2L247 149.9L244.5 149.6L242.1 149.3L239.7 149L237.6 148.7L237.3 148.7L234.9 148.4L232.5 148L230.1 147.7L227.6 147.4L225.2 147L223 146.7L222.8 146.7L220.4 146.3L218 146L215.6 145.6L213.2 145.2L210.7 144.8L209.9 144.7L208.3 144.4L205.9 144.1L203.5 143.7L201.1 143.2L198.7 142.8L198 142.7L196.2 142.4L193.8 141.9L191.4 141.5L189 141L187.3 140.7L186.6 140.5L184.2 140.1L181.8 139.6L179.3 139.1L177.6 138.7L176.9 138.5L174.5 138L172.1 137.5L169.7 136.9L168.8 136.7L167.3 136.3L164.8 135.7L162.4 135.1L160.7 134.7L160 134.5L157.6 133.9L155.2 133.2L153.4 132.7L152.8 132.5L150.4 131.8L147.9 131.1L146.6 130.7L145.5 130.4L143.1 129.6L140.7 128.8L140.3 128.7L138.3 128L135.9 127.1L134.6 126.7L133.5 126.3L131 125.4L129.3 124.7L128.6 124.4L126.2 123.5L124.3 122.7L123.8 122.4L121.4 121.4L119.8 120.7L119 120.3L116.5 119.2L115.5 118.7L114.1 118L111.7 116.7L111.6 116.7L109.3 115.4L107.9 114.7L106.9 114.1L104.5 112.7L102.1 111.2L101.2 110.7L99.6 109.6L98.2 108.7L97.2 108L95.4 106.7L94.8 106.2L92.7 104.7L92.4 104.4L90.2 102.6L90 102.4L87.9 100.6L87.6 100.4L85.7 98.6L85.1 98.2L83.6 96.6L82.7 95.8L81.6 94.6L80.3 93.3L79.7 92.6L77.9 90.6L76.3 88.6L75.5 87.7L74.7 86.6L73.1 84.6L73.1 84.5L71.7 82.6L70.7 81.1L70.3 80.6L69 78.6L68.2 77.4L67.8 76.6L66.6 74.6L65.8 73.2L65.5 72.6L64.4 70.6L63.4 68.7L63.4 68.6L62.4 66.6L61.4 64.6L61 63.6L60.5 62.6L59.7 60.6L58.8 58.6L58.6 58L58 56.6L57.3 54.6L56.5 52.6L56.2 51.5L55.8 50.6L55.2 48.6L54.5 46.6L53.9 44.6L53.8 44.1L53.3 42.6L52.7 40.6L52.1 38.6L51.6 36.6L51.3 35.6L51.1 34.6L50.6 32.6L50.1 30.6L49.6 28.6L49.2 26.6L48.9 25.4L48.7 24.6L48.3 22.6L47.9 20.6L47.5 18.6L47.1 16.6L46.8 14.6L46.5 13.2L46.4 12.6L46 10.6L45.7 8.6L45.4 6.6L45.1 4.6L44.1 4.6L41.7 4.6L39.3 4.6L36.8 4.6L34.4 4.6L32 4.6L29.6 4.6L29.6 6.6L29.6 8.6L29.6 10.6L29.6 12.6L29.6 14.6L29.6 16.6L29.6 18.6L29.6 20.6L29.6 22.6L29.6 24.6L29.6 26.6L29.6 28.6L29.6 30.6L29.6 32.6L29.6 34.6L29.6 36.6L29.6 38.6L29.6 40.6L29.6 42.6L29.6 44.6L29.6 46.6L29.6 48.6L29.6 50.6L29.6 52.6L29.6 54.6L29.6 56.6L29.6 58.6L29.6 60.6L29.6 62.6L29.6 64.6L29.6 66.6L29.6 68.6L29.6 70.6L29.6 72.6L29.6 74.6L29.6 76.6L29.6 78.6L29.6 80.6L29.6 82.6L29.6 84.6L29.6 86.6L29.6 88.6L29.6 90.6L29.6 92.6L29.6 94.6L29.6 96.6L29.6 98.6L29.6 100.6L29.6 102.6L29.6 104.7L29.6 106.7L29.6 108.7L29.6 110.7L29.6 112.7L29.6 114.7L29.6 116.7L29.6 118.7L29.6 120.7L29.6 122.7L29.6 124.7L29.6 126.7L29.6 128.7L29.6 130.7L29.6 132.7L29.6 134.7L29.6 136.7L29.6 138.7L29.6 140.7L29.6 142.7L29.6 144.7L29.6 146.7L29.6 148.7L29.6 150.7L29.6 152.7L29.6 154.7L29.6 156.7L29.6 158.7L29.6 160.7L29.6 162.7L29.6 164.7L29.6 166.7L29.6 168.7L29.6 170.7L29.6 172.7L29.6 174.7L29.6 176.7L29.6 178.7L29.6 180.7L29.6 182.7L29.6 184.7L29.6 186.7L29.6 188.7L29.6 190.7L29.6 192.7L29.6 194.7L29.6 196.7L29.6 198.7L29.6 200.7L29.6 202.8L32 202.8Z"/>
<path fill="#4bb062" d="M32 202.8L34.4 202.8L36.8 202.8L39.3 202.8L41.7 202.8L44.1 202.8L46.5 202.8L48.9 202.8L51.3 202.8L53.8 202.8L56.2 202.8L58.6 202.8L61 202.8L63.4 202.8L65.8 202.8L68.2 202.8L70.7 202.8L73.1 202.8L75.5 202.8L77.9 202.8L80.3 202.8L82.7 202.8L85.1 202.8L87.6 202.8L90 202.8L92.4 202.8L94.8 202.8L97.2 202.8L99.6 202.8L102.1 202.8L104.5 202.8L106.9 202.8L109.3 202.8L111.7 202.8L114.1 202.8L116.5 202.8L119 202.8L121.4 202.8L123.8 202.8L126.2 202.8L128.6 202.8L131 202.8L133.5 202.8L135.9 202.8L138.3 202.8L140.7 202.8L143.1 202.8L145.5 202.8L147.9 202.8L150.4 202.8L152.8 202.8L155.2 202.8L157.6 202.8L160 202.8L162.4 202.8L164.8 202.8L167.3 202.8L169.7 202.8L172.1 202.8L174.5 202.8L176.9 202.8L179.3 202.8L181.8 202.8L184.2 202.8L186.6 202.8L189 202.8L191.4 202.8L193.8 202.8L196.2 202.8L198.7 202.8L201.1 202.8L203.5 202.8L205.9 202.8L208.3 202.8L210.7 202.8L213.2 202.8L215.6 202.8L218 202.8L220.4 202.8L222.8 202.8L225.2 202.8L227.6 202.8L230.1 202.8L232.5 202.8L234.9 202.8L237.3 202.8L239.7 202.8L242.1 202.8L244.5 202.8L247 202.8L249.4 202.8L251.8 202.8L254.2 202.8L256.6 202.8L259 202.8L261.5 202.8L263.9 202.8L266.3 202.8L268.7 202.8L268.7 200.7L268.7 198.7L268.7 196.7L268.7 194.7L268.7 192.7L268.7 190.7L268.7 188.7L268.7 186.7L268.7 184.7L268.7 182.7L268.7 180.7L268.7 178.7L268.7 176.7L268.7 174.7L268.7 172.7L268.7 170.7L268.7 168.7L268.7 166.7L268.7 164.7L268.7 162.7L268.7 160.7L268.7 158.7L268.7 156.7L268.7 154.7L268.7 153L266.3 152.7L266.1 152.7L263.9 152.5L261.5 152.2L259 152L256.6 151.7L254.2 151.4L251.8 151.1L249.4 150.8L248.2 150.7L247 150.6L244.5 150.3L242.1 150L239.7 149.7L237.3 149.4L234.9 149L232.5 148.7L232.3 148.7L230.1 148.4L227.6 148.1L225.2 147.7L222.8 147.4L220.4 147L218.1 146.7L218 146.7L215.6 146.3L213.2 146L210.7 145.6L208.3 145.2L205.9 144.8L205.3 144.7L203.5 144.4L201.1 144L198.7 143.6L196.2 143.1L193.8 142.7L191.4 142.3L189 141.8L186.6 141.3L184.2 140.8L183.4 140.7L181.8 140.4L179.3 139.9L176.9 139.4L174.5 138.8L173.9 138.7L172.1 138.3L169.7 137.7L167.3 137.2L165.3 136.7L164.8 136.6L162.4 136L160 135.4L157.6 134.7L157.4 134.7L155.2 134.1L152.8 133.4L150.4 132.7L150.2 132.7L147.9 132L145.5 131.3L143.6 130.7L143.1 130.5L140.7 129.7L138.3 128.9L137.6 128.7L135.9 128.1L133.5 127.2L131.9 126.7L131 126.3L128.6 125.4L126.8 124.7L126.2 124.5L123.8 123.5L122 122.7L121.4 122.4L119 121.3L117.5 120.7L116.5 120.2L114.1 119L113.4 118.7L111.7 117.8L109.5 116.7L109.3 116.5L106.9 115.2L105.9 114.7L104.5 113.8L102.6 112.7L102.1 112.3L99.6 110.8L99.4 110.7L97.2 109.2L96.5 108.7L94.8 107.4L93.7 106.7L92.4 105.6L91.1 104.7L90 103.7L88.7 102.6L87.6 101.7L86.4 100.6L85.1 99.5L84.3 98.6L82.7 97.2L82.2 96.6L80.3 94.7L80.3 94.6L78.5 92.6L77.9 92L76.7 90.6L75.5 89.1L75.1 88.6L73.5 86.6L73.1 86L72 84.6L70.7 82.6L69.3 80.6L68.2 78.9L68 78.6L66.8 76.6L65.8 74.9L65.7 74.6L64.6 72.6L63.5 70.6L63.4 70.4L62.5 68.6L61.6 66.6L61 65.4L60.6 64.6L59.8 62.6L58.9 60.6L58.6 59.8L58.1 58.6L57.3 56.6L56.6 54.6L56.2 53.4L55.9 52.6L55.2 50.6L54.5 48.6L53.9 46.6L53.8 46.1L53.3 44.6L52.7 42.6L52.1 40.6L51.6 38.6L51.3 37.7L51 36.6L50.5 34.6L50 32.6L49.6 30.6L49.1 28.6L48.9 27.7L48.7 26.6L48.2 24.6L47.8 22.6L47.4 20.6L47.1 18.6L46.7 16.6L46.5 15.6L46.3 14.6L46 12.6L45.6 10.6L45.3 8.6L45 6.6L44.7 4.6L44.1 4.6L41.7 4.6L39.3 4.6L36.8 4.6L34.4 4.6L32 4.6L29.6 4.6L29.6 6.6L29.6 8.6L29.6 10.6L29.6 12.6L29.6 14.6L29.6 16.6L29.6 18.6L29.6 20.6L29.6 22.6L29.6 24.6L29.6 26.6L29.6 28.6L29.6 30.6L29.6 32.6L29.6 34.6L29.6 36.6L29.6 38.6L29.6 40.6L29.6 42.6L29.6 44.6L29.6 46.6L29.6 48.6L29.6 50.6L29.6 52.6L29.6 54.6L29.6 56.6L29.6 58.6L29.6 60.6L29.6 62.6L29.6 64.6L29.6 66.6L29.6 68.6L29.6 70.6L29.6 72.6L29.6 74.6L29.6 76.6L29.6 78.6L29.6 80.6L29.6 82.6L29.6 84.6L29.6 86.6L29.6 88.6L29.6 90.6L29.6 92.6L29.6 94.6L29.6 96.6L29.6 98.6L29.6 100.6L29.6 102.6L29.6 104.7L29.6 106.7L29.6 108.7L29.6 110.7L29.6 112.7L29.6 114.7L29.6 116.7L29.6 118.7L29.6 120.7L29.6 122.7L29.6 124.7L29.6 126.7L29.6 128.7L29.6 130.7L29.6 132.7L29.6 134.7L29.6 136.7L29.6 138.7L29.6 140.7L29.6 142.7L29.6 144.7L29.6 146.7L29.6 148.7L29.6 150.7L29.6 152.7L29.6 154.7L29.6 156.7L29.6 158.7L29.6 160.7L29.6 162.7L29.6 164.7L29.6 166.7L29.6 168.7L29.6 170.7L29.6 172.7L29.6 174.7L29.6 176.7L29.6 178.7L29.6 180.7L29.6 182.7L29.6 184.7L29.6 186.7L29.6 188.7L29.6 190.7L29.6 192.7L29.6 194.7L29.6 196.7L29.6 198.7L29.6 200.7L29.6 202.8L32 202.8Z"/>
<path fill="#52b365" d="M32 202.8L34.4 202.8L36.8 202.8L39.3 202.8L41.7 202.8L44.1 202.8L46.5 202.8L48.9 202.8L51.3 202.8L53.8 202.8L56.2 202.8L58.6 202.8L61 202.8L63.4 202.8L65.8 202.8L68.2 202.8L70.7 202.8L73.1 202.8L75.5 202.8L77.9 202.8L80.3 202.8L82.7 202.8L85.1 202.8L87.6 202.8L90 202.8L92.4 202.8L94.8 202.8L97.2 202.8L99.6 202.8L102.1 202.8L104.5 202.8L106.9 202.8L109.3 202.8L111.7 202.8L114.1 202.8L116.5 202.8L119 202.8L121.4 202.8L123.8 202.8L126.2 202.8L128.6 202.8L131 202.8L133.5 202.8L135.9 202.8L138.3 202.8L140.7 202.8L143.1 202.8L145.5 202.8L147.9 202.8L150.4 202.8L152.8 202.8L155.2 202.8L157.6 202.8L160 202.8L162.4 202.8L164.8 202.8L167.3 202.8L169.7 202.8L172.1 202.8L174.5 202.8L176.9 202.8L179.3 202.8L181.8 202.8L184.2 202.8L186.6 202.8L189 202.8L191.4 202.8L193.8 202.8L196.2 202.8L198.7 202.8L201.1 202.8L203.5 202.8L205.9 202.8L208.3 202.8L210.7 202.8L213.2 202.8L215.6 202.8L218 202.8L220.4 202.8L222.8 202.8L225.2 202.8L227.6 202.8L230.1 202.8L232.5 202.8L234.9 202.8L237.3 202.8L239.7 202.8L242.1 202.8L244.5 202.8L247 202.8L249.4 202.8L251.8 202.8L254.2 202.8L256.6 202.8L259 202.8L261.5 202.8L263.9 202.8L266.3 202.8L268.7 202.8L268.7 200.7L268.7 198.7L268.7 196.7L268.7 194.7L268.7 192.7L268.7 190.7L268.7 188.7L268.7 186.7L268.7 184.7L268.7 182.7L268.7 180.7L268.7 178.7L268.7 176.7L268.7 174.7L268.7 172.7L268.7 170.7L268.7 168.7L268.7 166.7L268.7 164.7L268.7 162.7L268.7 160.7L268.7 158.7L268.7 156.7L268.7 154.7L268.7 153.6L266.3 153.4L263.9 153.1L261.5 152.9L259.9 152.7L259 152.6L256.6 152.3L254.2 152.1L251.8 151.8L249.4 151.5L247 151.2L244.5 150.9L242.5 150.7L242.1 150.6L239.7 150.4L237.3 150.1L234.9 149.8L232.5 149.4L230.1 149.1L227.6 148.8L227.1 148.7L225.2 148.5L222.8 148.1L220.4 147.8L218 147.4L215.6 147.1L213.2 146.7L210.7 146.3L208.3 145.9L205.9 145.6L203.5 145.2L201.1 144.7L200.8 144.7L198.7 144.3L196.2 143.9L193.8 143.5L191.4 143L189.5 142.7L189 142.6L186.6 142.1L184.2 141.7L181.8 141.2L179.4 140.7L179.3 140.7L176.9 140.2L174.5 139.7L172.1 139.1L170.2 138.7L169.7 138.6L167.3 138L164.8 137.4L162.4 136.8L161.8 136.7L160 136.2L157.6 135.6L155.2 135L154.1 134.7L152.8 134.3L150.4 133.6L147.9 132.9L147.1 132.7L145.5 132.2L143.1 131.5L140.7 130.7L138.3 129.9L135.9 129.1L134.7 128.7L133.5 128.2L131 127.3L129.3 126.7L128.6 126.4L126.2 125.5L124.2 124.7L123.8 124.5L121.4 123.5L119.6 122.7L119 122.4L116.5 121.3L115.2 120.7L114.1 120.1L111.7 118.9L111.2 118.7L109.3 117.7L107.4 116.7L106.9 116.4L104.5 115L103.9 114.7L102.1 113.5L100.7 112.7L99.6 112L97.6 110.7L97.2 110.4L94.8 108.7L92.4 106.9L92.1 106.7L90 105L89.5 104.7L87.6 103L87.2 102.6L85.1 100.8L84.9 100.6L82.8 98.6L82.7 98.5L80.8 96.6L80.3 96.1L79 94.6L77.9 93.5L77.2 92.6L75.5 90.6L73.9 88.6L73.1 87.6L72.4 86.6L70.9 84.6L70.7 84.2L69.6 82.6L68.3 80.6L68.2 80.6L67 78.6L65.9 76.6L65.8 76.6L64.7 74.6L63.7 72.6L63.4 72.1L62.6 70.6L61.7 68.6L61 67.2L60.7 66.6L59.8 64.6L59 62.6L58.6 61.7L58.1 60.6L57.4 58.6L56.6 56.6L56.2 55.4L55.9 54.6L55.2 52.6L54.5 50.6L53.9 48.6L53.8 48.2L53.3 46.6L52.7 44.6L52.1 42.6L51.5 40.6L51.3 39.8L51 38.6L50.5 36.6L50 34.6L49.5 32.6L49.1 30.6L48.9 30L48.6 28.6L48.2 26.6L47.8 24.6L47.4 22.6L47 20.6L46.6 18.6L46.5 18L46.2 16.6L45.9 14.6L45.5 12.6L45.2 10.6L44.9 8.6L44.6 6.6L44.3 4.6L44.1 4.6L41.7 4.6L39.3 4.6L36.8 4.6L34.4 4.6L32 4.6L29.6 4.6L29.6 6.6L29.6 8.6L29.6 10.6L29.6 12.6L29.6 14.6L29.6 16.6L29.6 18.6L29.6 20.6L29.6 22.6L29.6 24.6L29.6 26.6L29.6 28.6L29.6 30.6L29.6 32.6L29.6 34.6L29.6 36.6L29.6 38.6L29.6 40.6L29.6 42.6L29.6 44.6L29.6 46.6L29.6 48.6L29.6 50.6L29.6 52.6L29.6 54.6L29.6 56.6L29.6 58.6L29.6 60.6L29.6 62.6L29.6 64.6L29.6 66.6L29.6 68.6L29.6 70.6L29.6 72.6L29.6 74.6L29.6 76.6L29.6 78.6L29.6 80.6L29.6 82.6L29.6 84.6L29.6 86.6L29.6 88.6L29.6 90.6L29.6 92.6L29.6 94.6L29.6 96.6L29.6 98.6L29.6 100.6L29.6 102.6L29.6 104.7L29.6 106.7L29.6 108.7L29.6 110.7L29.6 112.7L29.6 114.7L29.6 116.7L29.6 118.7L29.6 120.7L29.6 122.7L29.6 124.7L29.6 126.7L29.6 128.7L29.6 130.7L29.6 132.7L29.6 134.7L29.6 136.7L29.6 138.7L29.6 140.7L29.6 142.7L29.6 144.7L29.6 146.7L29.6 148.7L29.6 150.7L29.6 152.7L29.6 154.7L29.6 156.7L29.6 158.7L29.6 160.7L29.6 162.7L29.6 164.7L29.6 166.7L29.6 168.7L29.6 170.7L29.6 172.7L29.6 174.7L29.6 176.7L29.6 178.7L29.6 180.7L29.6 182.7L29.6 184.7L29.6 186.7L29.6 188.7L29.6 190.7L29.6 192.7L29.6 194.7L29.6 196.7L29.6 198.7L29.6 200.7L29.6 202.8L32 202.8Z"/>
<path fill="#5ab769" d="M32 202.8L34.4 202.8L36.8 202.8L39.3 202.8L41.7 202.8L44.1 202.8L46.5 202.8L48.9 202.8L51.3 202.8L53.8 202.8L56.2 202.8L58.6 202.8L61 202.8L63.4 202.8L65.8 202.8L68.2 202.8L70.7 202.8L73.1 202.8L75.5 202.8L77.9 202.8L80.3 202.8L82.7 202.8L85.1 202.8L87.6 202.8L90 202.8L92.4 202.8L94.8 202.8L97.2 202.8L99.6 202.8L102.1 202.8L104.5 202.8L106.9 202.8L109.3 202.8L111.7 202.8L114.1 202.8L116.5 202.8L119 202.8L121.4 202.8L123.8 202.8L126.2 202.8L128.6 202.8L131 202.8L133.5 202.8L135.9 202.8L138.3 202.8L140.7 202.8L143.1 202.8L145.5 202.8L147.9 202.8L150.4 202.8L152.8 202.8L155.2 202.8L157.6 202.8L160 202.8L162.4 202.8L164.8 202.8L167.3 202.8L169.7 202.8L172.1 202.8L174.5 202.8L176.9 202.8L179.3 202.8L181.8 202.8L184.2 202.8L186.6 202.8L189 202.8L191.4 202.8L193.8 202.8L196.2 202.8L198.7 202.8L201.1 202.8L203.5 202.8L205.9 202.8L208.3 202.8L210.7 202.8L213.2 202.8L215.6 202.8L218 202.8L220.4 202.8L222.8 202.8L225.2 202.8L227.6 202.8L230.1 202.8L232.5 202.8L234.9 202.8L237.3 202.8L239.7 202.8L242.1 202.8L244.5 202.8L247 202.8L249.4 202.8L251.8 202.8L254.2 202.8L256.6 202.8L259 202.8L261.5 202.8L263.9 202.8L266.3 202.8L268.7 202.8L268.7 200.7L268.7 198.7L268.7 196.7L268.7 194.7L268.7 192.7L268.7 190.7L268.7 188.7L268.7 186.7L268.7 184.7L268.7 182.7L268.7 180.7L268.7 178.7L268.7 176.7L268.7 174.7L268.7 172.7L268.7 170.7L268.7 168.7L268.7 166.7L268.7 164.7L268.7 162.7L268.7 160.7L268.7 158.7L268.7 156.7L268.7 154.7L268.7 154.3L266.3 154.1L263.9 153.8L261.5 153.6L259 153.3L256.6 153L254.2 152.8L253.7 152.7L251.8 152.5L249.4 152.2L247 151.9L244.5 151.7L242.1 151.4L239.7 151.1L237.3 150.8L236.8 150.7L234.9 150.5L232.5 150.2L230.1 149.8L227.6 149.5L225.2 149.2L222.8 148.9L221.7 148.7L220.4 148.5L218 148.2L215.6 147.8L213.2 147.5L210.7 147.1L208.3 146.7L205.9 146.3L203.5 145.9L201.1 145.5L198.7 145.1L196.2 144.7L196.1 144.7L193.8 144.3L191.4 143.9L189 143.4L186.6 143L185.2 142.7L184.2 142.5L181.8 142L179.3 141.5L176.9 141L175.3 140.7L174.5 140.5L172.1 140L169.7 139.5L167.3 138.9L166.4 138.7L164.8 138.3L162.4 137.8L160 137.1L158.2 136.7L157.6 136.5L155.2 135.9L152.8 135.2L150.8 134.7L150.4 134.6L147.9 133.9L145.5 133.2L143.9 132.7L143.1 132.4L140.7 131.7L138.3 130.9L137.7 130.7L135.9 130.1L133.5 129.2L131.9 128.7L131 128.4L128.6 127.5L126.6 126.7L126.2 126.5L123.8 125.6L121.7 124.7L121.4 124.5L119 123.5L117.1 122.7L116.5 122.4L114.1 121.3L112.9 120.7L111.7 120.1L109.3 118.8L109 118.7L106.9 117.5L105.3 116.7L104.5 116.2L102.1 114.7L101.9 114.7L99.6 113.2L98.8 112.7L97.2 111.6L95.8 110.7L94.8 110L93 108.7L92.4 108.2L90.4 106.7L90 106.3L87.9 104.7L87.6 104.3L85.6 102.6L85.1 102.2L83.4 100.6L82.7 100L81.4 98.6L80.3 97.5L79.5 96.6L77.9 94.9L77.6 94.6L75.9 92.6L75.5 92.1L74.3 90.6L73.1 89.1L72.7 88.6L71.2 86.6L70.7 85.8L69.8 84.6L68.5 82.6L68.2 82.2L67.2 80.6L66 78.6L65.8 78.3L64.9 76.6L63.8 74.6L63.4 73.9L62.7 72.6L61.7 70.6L61 69L60.8 68.6L59.9 66.6L59 64.6L58.6 63.6L58.2 62.6L57.4 60.6L56.6 58.6L56.2 57.4L55.9 56.6L55.2 54.6L54.5 52.6L53.8 50.6L53.8 50.3L53.2 48.6L52.6 46.6L52 44.6L51.5 42.6L51.3 42L50.9 40.6L50.4 38.6L49.9 36.6L49.4 34.6L49 32.6L48.9 32.3L48.5 30.6L48.1 28.6L47.7 26.6L47.3 24.6L46.9 22.6L46.5 20.6L46.5 20.5L46.1 18.6L45.8 16.6L45.4 14.6L45.1 12.6L44.8 10.6L44.5 8.6L44.2 6.6L44.1 5.9L43.9 4.6L41.7 4.6L39.3 4.6L36.8 4.6L34.4 4.6L32 4.6L29.6 4.6L29.6 6.6L29.6 8.6L29.6 10.6L29.6 12.6L29.6 14.6L29.6 16.6L29.6 18.6L29.6 20.6L29.6 22.6L29.6 24.6L29.6 26.6L29.6 28.6L29.6 30.6L29.6 32.6L29.6 34.6L29.6 36.6L29.6 38.6L29.6 40.6L29.6 42.6L29.6 44.6L29.6 46.6L29.6 48.6L29.6 50.6L29.6 52.6L29.6 54.6L29.6 56.6L29.6 58.6L29.6 60.6L29.6 62.6L29.6 64.6L29.6 66.6L29.6 68.6L29.6 70.6L29.6 72.6L29.6 74.6L29.6 76.6L29.6 78.6L29.6 80.6L29.6 82.6L29.6 84.6L29.6 86.6L29.6 88.6L29.6 90.6L29.6 92.6L29.6 94.6L29.6 96.6L29.6 98.6L29.6 100.6L29.6 102.6L29.6 104.7L29.6 106.7L29.6 108.7L29.6 110.7L29.6 112.7L29.6 114.7L29.6 116.7L29.6 118.7L29.6 120.7L29.6 122.7L29.6 124.7L29.6 126.7L29.6 128.7L29.6 130.7L29.6 132.7L29.6 134.7L29.6 136.7L29.6 138.7L29.6 140.7L29.6 142.7L29.6 144.7L29.6 146.7L29.6 148.7L29.6 150.7L29.6 152.7L29.6 154.7L29.6 156.7L29.6 158.7L29.6 160.7L29.6 162.7L29.6 164.7L29.6 166.7L29.6 168.7L29.6 170.7L29.6 172.7L29.6 174.7L29.6 176.7L29.6 178.7L29.6 180.7L29.6 182.7L29.6 184.7L29.6 186.7L29.6 188.7L29.6 190.7L29.6 192.7L29.6 194.7L29.6 196.7L29.6 198.7L29.6 200.7L29.6 202.8L32 202.8Z"/>
<path fill="#60ba6c" d="M32 202.8L34.4 202.8L36.8 202.8L39.3 202.8L41.7 202.8L44.1 202.8L46.5 202.8L48.9 202.8L51.3 202.8L53.8 202.8L56.2 202.8L58.6 202.8L61 202.8L63.4 202.8L65.8 202.8L68.2 202.8L70.7 202.8L73.1 202.8L75.5 202.8L77.9 202.8L80.3 202.8L82.7 202.8L85.1 202.8L87.6 202.8L90 202.8L92.4 202.8L94.8 202.8L97.2 202.8L99.6 202.8L102.1 202.8L104.5 202.8L106.9 202.8L109.3 202.8L111.7 202.8L114.1 202.8L116.5 202.8L119 202.8L121.4 202.8L123.8 202.8L126.2 202.8L128.6 202.8L131 202.8L133.5 202.8L135.9 202.8L138.3 202.8L140.7 202.8L143.1 202.8L145.5 202.8L147.9 202.8L150.4 202.8L152.8 202.8L155.2 202.8L157.6 202.8L160 202.8L162.4 202.8L164.8 202.8L167.3 202.8L169.7 202.8L172.1 202.8L174.5 202.8L176.9 202.8L179.3 202.8L181.8 202.8L184.2 202.8L186.6 202.8L189 202.8L191.4 202.8L193.8 202.8L196.2 202.8L198.7 202.8L201.1 202.8L203.5 202.8L205.9 202.8L208.3 202.8L210.7 202.8L213.2 202.8L215.6 202.8L218 202.8L220.4 202.8L222.8 202.8L225.2 202.8L227.6 202.8L230.1 202.8L232.5 202.8L234.9 202.8L237.3 202.8L239.7 202.8L242.1 202.8L244.5 202.8L247 202.8L249.4 202.8L251.8 202.8L254.2 202.8L256.6 202.8L259 202.8L261.5 202.8L263.9 202.8L266.3 202.8L268.7 202.8L268.7 200.7L268.7 198.7L268.7 196.7L268.7 194.7L268.7 192.7L268.7 190.7L268.7 188.7L268.7 186.7L268.7 184.7L268.7 182.7L268.7 180.7L268.7 178.7L268.7 176.7L268.7 174.7L268.7 172.7L268.7 170.7L268.7 168.7L268.7 166.7L268.7 164.7L268.7 162.7L268.7 160.7L268.7 158.7L268.7 156.7L268.7 155L266.3 154.7L266 154.7L263.9 154.5L261.5 154.2L259 154L256.6 153.7L254.2 153.5L251.8 153.2L249.4 152.9L247.4 152.7L247 152.6L244.5 152.4L242.1 152.1L239.7 151.8L237.3 151.5L234.9 151.2L232.5 150.9L231 150.7L230.1 150.6L227.6 150.3L225.2 149.9L222.8 149.6L220.4 149.3L218 148.9L216.4 148.7L215.6 148.6L213.2 148.2L210.7 147.9L208.3 147.5L205.9 147.1L203.5 146.7L203.3 146.7L201.1 146.3L198.7 145.9L196.2 145.5L193.8 145.1L191.5 144.7L191.4 144.7L189 144.2L186.6 143.8L184.2 143.3L181.8 142.9L180.9 142.7L179.3 142.4L176.9 141.9L174.5 141.4L172.1 140.9L171.3 140.7L169.7 140.3L167.3 139.8L164.8 139.2L162.6 138.7L162.4 138.7L160 138.1L157.6 137.5L155.2 136.8L154.6 136.7L152.8 136.2L150.4 135.5L147.9 134.8L147.4 134.7L145.5 134.1L143.1 133.4L140.7 132.7L138.3 131.9L135.9 131.1L134.7 130.7L133.5 130.3L131 129.4L129.1 128.7L128.6 128.5L126.2 127.6L123.9 126.7L123.8 126.6L121.4 125.6L119.1 124.7L119 124.6L116.5 123.5L114.7 122.7L114.1 122.4L111.7 121.2L110.6 120.7L109.3 120L106.9 118.7L106.8 118.7L104.5 117.4L103.2 116.7L102.1 116L99.9 114.7L99.6 114.5L97.2 112.9L96.8 112.7L94.8 111.3L93.9 110.7L92.4 109.5L91.2 108.7L90 107.7L88.7 106.7L87.6 105.7L86.3 104.7L85.1 103.6L84.1 102.6L82.7 101.4L81.9 100.6L80.3 99L79.9 98.6L78.1 96.6L77.9 96.5L76.3 94.6L75.5 93.7L74.6 92.6L73.1 90.7L73 90.6L71.5 88.6L70.7 87.5L70.1 86.6L68.7 84.6L68.2 83.9L67.4 82.6L66.2 80.6L65.8 80L65 78.6L63.9 76.6L63.4 75.7L62.8 74.6L61.8 72.6L61 70.9L60.9 70.6L59.9 68.6L59 66.6L58.6 65.5L58.2 64.6L57.4 62.6L56.6 60.6L56.2 59.4L55.9 58.6L55.1 56.6L54.5 54.6L53.8 52.6L53.8 52.4L53.2 50.6L52.6 48.6L52 46.6L51.4 44.6L51.3 44.3L50.9 42.6L50.3 40.6L49.8 38.6L49.4 36.6L48.9 34.7L48.9 34.6L48.4 32.6L48 30.6L47.6 28.6L47.2 26.6L46.8 24.6L46.5 23.1L46.4 22.6L46 20.6L45.7 18.6L45.3 16.6L45 14.6L44.7 12.6L44.4 10.6L44.1 8.7L44.1 8.6L43.8 6.6L43.5 4.6L41.7 4.6L39.3 4.6L36.8 4.6L34.4 4.6L32 4.6L29.6 4.6L29.6 6.6L29.6 8.6L29.6 10.6L29.6 12.6L29.6 14.6L29.6 16.6L29.6 18.6L29.6 20.6L29.6 22.6L29.6 24.6L29.6 26.6L29.6 28.6L29.6 30.6L29.6 32.6L29.6 34.6L29.6 36.6L29.6 38.6L29.6 40.6L29.6 42.6L29.6 44.6L29.6 46.6L29.6 48.6L29.6 50.6L29.6 52.6L29.6 54.6L29.6 56.6L29.6 58.6L29.6 60.6L29.6 62.6L29.6 64.6L29.6 66.6L29.6 68.6L29.6 70.6L29.6 72.6L29.6 74.6L29.6 76.6L29.6 78.6L29.6 80.6L29.6 82.6L29.6 84.6L29.6 86.6L29.6 88.6L29.6 90.6L29.6 92.6L29.6 94.6L29.6 96.6L29.6 98.6L29.6 100.6L29.6 102.6L29.6 104.7L29.6 106.7L29.6 108.7L29.6 110.7L29.6 112.7L29.6 114.7L29.6 116.7L29.6 118.7L29.6 120.7L29.6 122.7L29.6 124.7L29.6 126.7L29.6 128.7L29.6 130.7L29.6 132.7L29.6 134.7L29.6 136.7L29.6 138.7L29.6 140.7L29.6 142.7L29.6 144.7L29.6 146.7L29.6 148.7L29.6 150.7L29.6 152.7L29.6 154.7L29.6 156.7L29.6 158.7L29.6 160.7L29.6 162.7L29.6 164.7L29.6 166.7L29.6 168.7L29.6 170.7L29.6 172.7L29.6 174.7L29.6 176.7L29.6 178.7L29.6 180.7L29.6 182.7L29.6 184.7L29.6 186.7L29.6 188.7L29.6 190.7L29.6 192.7L29.6 194.7L29.6 196.7L29.6 198.7L29.6 200.7L29.6 202.8L32 202.8Z"/>
<path fill="#66bd6f" d="M32 202.8L34.4 202.8L36.8 202.8L39.3 202.8L41.7 202.8L44.1 202.8L46.5 202.8L48.9 202.8L51.3 202.8L53.8 202.8L56.2 202.8L58.6 202.8L61 202.8L63.4 202.8L65.8 202.8L68.2 202.8L70.7 202.8L73.1 202.8L75.5 202.8L77.9 202.8L80.3 202.8L82.7 202.8L85.1 202.8L87.6 202.8L90 202.8L92.4 202.8L94.8 202.8L97.2 202.8L99.6 202.8L102.1 202.8L104.5 202.8L106.9 202.8L109.3 202.8L111.7 202.8L114.1 202.8L116.5 202.8L119 202.8L121.4 202.8L123.8 202.8L126.2 202.8L128.6 202.8L131 202.8L133.5 202.8L135.9 202.8L138.3 202.8L140.7 202.8L143.1 202.8L145.5 202.8L147.9 202.8L150.4 202.8L152.8 202.8L155.2 202.8L157.6 202.8L160 202.8L162.4 202.8L164.8 202.8L167.3 202.8L169.7 202.8L172.1 202.8L174.5 202.8L176.9 202.8L179.3 202.8L181.8 202.8L184.2 202.8L186.6 202.8L189 202.8L191.4 202.8L193.8 202.8L196.2 202.8L198.7 202.8L201.1 202.8L203.5 202.8L205.9 202.8L208.3 202.8L210.7 202.8L213.2 202.8L215.6 202.8L218 202.8L220.4 202.8L222.8 202.8L225.2 202.8L227.6 202.8L230.1 202.8L232.5 202.8L234.9 202.8L237.3 202.8L239.7 202.8L242.1 202.8L244.5 202.8L247 202.8L249.4 202.8L251.8 202.8L254.2 202.8L256.6 202.8L259 202.8L261.5 202.8L263.9 202.8L266.3 202.8L268.7 202.8L268.7 200.7L268.7 198.7L268.7 196.7L268.7 194.7L268.7 192.7L268.7 190.7L268.7 188.7L268.7 186.7L268.7 184.7L268.7 182.7L268.7 180.7L268.7 178.7L268.7 176.7L268.7 174.7L268.7 172.7L268.7 170.7L268.7 168.7L268.7 166.7L268.7 164.7L268.7 162.7L268.7 160.7L268.7 158.7L268.7 156.7L268.7 155.7L266.3 155.5L263.9 155.2L261.5 155L259.1 154.7L259 154.7L256.6 154.4L254.2 154.2L251.8 153.9L249.4 153.7L247 153.4L244.5 153.1L242.1 152.8L241.1 152.7L239.7 152.5L237.3 152.3L234.9 152L232.5 151.7L230.1 151.4L227.6 151L225.2 150.7L222.8 150.4L220.4 150.1L218 149.7L215.6 149.4L213.2 149L210.9 148.7L210.7 148.7L208.3 148.3L205.9 147.9L203.5 147.6L201.1 147.2L198.7 146.8L198.2 146.7L196.2 146.4L193.8 146L191.4 145.5L189 145.1L186.8 144.7L186.6 144.7L184.2 144.2L181.8 143.8L179.3 143.3L176.9 142.8L176.5 142.7L174.5 142.3L172.1 141.8L169.7 141.3L167.3 140.7L167.2 140.7L164.8 140.2L162.4 139.6L160 139L158.7 138.7L157.6 138.4L155.2 137.8L152.8 137.2L151 136.7L150.4 136.5L147.9 135.8L145.5 135.2L144 134.7L143.1 134.4L140.7 133.7L138.3 132.9L137.5 132.7L135.9 132.1L133.5 131.3L131.6 130.7L131 130.5L128.6 129.6L126.2 128.7L123.8 127.8L121.4 126.8L121.2 126.7L119 125.8L116.5 124.7L114.1 123.6L112.2 122.7L111.7 122.4L109.3 121.2L108.2 120.7L106.9 120L104.5 118.7L104.5 118.6L102.1 117.2L101.1 116.7L99.6 115.8L97.9 114.7L97.2 114.2L94.9 112.7L94.8 112.6L92.4 110.9L92.1 110.7L90 109.1L89.4 108.7L87.6 107.1L87 106.7L85.1 105.1L84.7 104.7L82.7 102.9L82.5 102.6L80.4 100.6L80.3 100.5L78.5 98.6L77.9 98L76.7 96.6L75.5 95.3L74.9 94.6L73.3 92.6L73.1 92.4L71.8 90.6L70.7 89.2L70.3 88.6L68.9 86.6L68.2 85.7L67.6 84.6L66.3 82.6L65.8 81.8L65.1 80.6L64 78.6L63.4 77.6L62.9 76.6L61.9 74.6L61 72.8L60.9 72.6L59.9 70.6L59 68.6L58.6 67.5L58.2 66.6L57.4 64.6L56.6 62.6L56.2 61.5L55.8 60.6L55.1 58.6L54.4 56.6L53.8 54.6L53.7 54.6L53.1 52.6L52.5 50.6L51.9 48.6L51.3 46.6L50.8 44.6L50.2 42.6L49.7 40.6L49.3 38.6L48.9 37.2L48.8 36.6L48.3 34.6L47.9 32.6L47.5 30.6L47.1 28.6L46.7 26.6L46.5 25.7L46.3 24.6L45.9 22.6L45.5 20.6L45.2 18.6L44.9 16.6L44.6 14.6L44.2 12.6L44.1 11.5L43.9 10.6L43.6 8.6L43.3 6.6L43.1 4.6L41.7 4.6L39.3 4.6L36.8 4.6L34.4 4.6L32 4.6L29.6 4.6L29.6 6.6L29.6 8.6L29.6 10.6L29.6 12.6L29.6 14.6L29.6 16.6L29.6 18.6L29.6 20.6L29.6 22.6L29.6 24.6L29.6 26.6L29.6 28.6L29.6 30.6L29.6 32.6L29.6 34.6L29.6 36.6L29.6 38.6L29.6 40.6L29.6 42.6L29.6 44.6L29.6 46.6L29.6 48.6L29.6 50.6L29.6 52.6L29.6 54.6L29.6 56.6L29.6 58.6L29.6 60.6L29.6 62.6L29.6 64.6L29.6 66.6L29.6 68.6L29.6 70.6L29.6 72.6L29.6 74.6L29.6 76.6L29.6 78.6L29.6 80.6L29.6 82.6L29.6 84.6L29.6 86.6L29.6 88.6L29.6 90.6L29.6 92.6L29.6 94.6L29.6 96.6L29.6 98.6L29.6 100.6L29.6 102.6L29.6 104.7L29.6 106.7L29.6 108.7L29.6 110.7L29.6 112.7L29.6 114.7L29.6 116.7L29.6 118.7L29.6 120.7L29.6 122.7L29.6 124.7L29.6 126.7L29.6 128.7L29.6 130.7L29.6 132.7L29.6 134.7L29.6 136.7L29.6 138.7L29.6 140.7L29.6 142.7L29.6 144.7L29.6 146.7L29.6 148.7L29.6 150.7L29.6 152.7L29.6 154.7L29.6 156.7L29.6 158.7L29.6 160.7L29.6 162.7L29.6 164.7L29.6 166.7L29.6 168.7L29.6 170.7L29.6 172.7L29.6 174.7L29.6 176.7L29.6 178.7L29.6 180.7L29.6 182.7L29.6 184.7L29.6 186.7L29.6 188.7L29.6 190.7L29.6 192.7L29.6 194.7L29.6 196.7L29.6 198.7L29.6 200.7L29.6 202.8L32 202.8Z"/>
<path fill="#6ec173" d="M32 202.8L34.4 202.8L36.8 202.8L39.3 202.8L41.7 202.8L44.1 202.8L46.5 202.8L48.9 202.8L51.3 202.8L53.8 202.8L56.2 202.8L58.6 202.8L61 202.8L63.4 202.8L65.8 202.8L68.2 202.8L70.7 202.8L73.1 202.8L75.5 202.8L77.9 202.8L80.3 202.8L82.7 202.8L85.1 202.8L87.6 202.8L90 202.8L92.4 202.8L94.8 202.8L97.2 202.8L99.6 202.8L102.1 202.8L104.5 202.8L106.9 202.8L109.3 202.8L111.7 202.8L114.1 202.8L116.5 202.8L119 202.8L121.4 202.8L123.8 202.8L126.2 202.8L128.6 202.8L131 202.8L133.5 202.8L135.9 202.8L138.3 202.8L140.7 202.8L143.1 202.8L145.5 202.8L147.9 202.8L150.4 202.8L152.8 202.8L155.2 202.8L157.6 202.8L160 202.8L162.4 202.8L164.8 202.8L167.3 202.8L169.7 202.8L172.1 202.8L174.5 202.8L176.9 202.8L179.3 202.8L181.8 202.8L184.2 202.8L186.6 202.8L189 202.8L191.4 202.8L193.8 202.8L196.2 202.8L198.7 202.8L201.1 202.8L203.5 202.8L205.9 202.8L208.3 202.8L210.7 202.8L213.2 202.8L215.6 202.8L218 202.8L220.4 202.8L222.8 202.8L225.2 202.8L227.6 202.8L230.1 202.8L232.5 202.8L234.9 202.8L237.3 202.8L239.7 202.8L242.1 202.8L244.5 202.8L247 202.8L249.4 202.8L251.8 202.8L254.2 202.8L256.6 202.8L259 202.8L261.5 202.8L263.9 202.8L266.3 202.8L268.7 202.8L268.7 200.7L268.7 198.7L268.7 196.7L268.7 194.7L268.7 192.7L268.7 190.7L268.7 188.7L268.7 186.7L268.7 184.7L268.7 182.7L268.7 180.7L268.7 178.7L268.7 176.7L268.7 174.7L268.7 172.7L268.7 170.7L268.7 168.7L268.7 166.7L268.7 164.7L268.7 162.7L268.7 160.7L268.7 158.7L268.7 156.7L268.7 156.4L266.3 156.2L263.9 155.9L261.5 155.7L259 155.4L256.6 155.2L254.2 154.9L252.2 154.7L251.8 154.7L249.4 154.4L247 154.1L244.5 153.9L242.1 153.6L239.7 153.3L237.3 153L234.9 152.7L234.7 152.7L232.5 152.4L230.1 152.1L227.6 151.8L225.2 151.5L222.8 151.2L220.4 150.9L219.3 150.7L218 150.5L215.6 150.2L213.2 149.9L210.7 149.5L208.3 149.1L205.9 148.8L205.5 148.7L203.5 148.4L201.1 148L198.7 147.6L196.2 147.2L193.8 146.8L193.1 146.7L191.4 146.4L189 146L186.6 145.6L184.2 145.1L182 144.7L181.8 144.6L179.3 144.2L176.9 143.7L174.5 143.2L172.1 142.7L169.7 142.2L167.3 141.7L164.8 141.1L163 140.7L162.4 140.6L160 140L157.6 139.4L155.2 138.8L154.8 138.7L152.8 138.2L150.4 137.5L147.9 136.9L147.3 136.7L145.5 136.2L143.1 135.5L140.7 134.7L140.5 134.7L138.3 134L135.9 133.2L134.3 132.7L133.5 132.4L131 131.6L128.6 130.7L128.5 130.7L126.2 129.8L123.8 128.9L123.2 128.7L121.4 127.9L119 126.9L118.4 126.7L116.5 125.9L114.1 124.8L113.9 124.7L111.7 123.7L109.7 122.7L109.3 122.5L106.9 121.2L105.9 120.7L104.5 119.9L102.3 118.7L102.1 118.5L99.6 117.1L98.9 116.7L97.2 115.6L95.8 114.7L94.8 114L92.9 112.7L92.4 112.3L90.2 110.7L90 110.5L87.6 108.7L87.6 108.6L85.2 106.7L85.1 106.6L83 104.7L82.7 104.4L80.9 102.6L80.3 102.1L78.9 100.6L77.9 99.6L77 98.6L75.5 96.9L75.2 96.6L73.6 94.6L73.1 94L72 92.6L70.7 90.9L70.5 90.6L69.1 88.6L68.2 87.4L67.7 86.6L66.4 84.6L65.8 83.7L65.2 82.6L64.1 80.6L63.4 79.5L62.9 78.6L61.9 76.6L61 74.8L60.9 74.6L59.9 72.6L59 70.6L58.6 69.6L58.2 68.6L57.3 66.6L56.5 64.6L56.2 63.7L55.8 62.6L55 60.6L54.3 58.6L53.8 56.9L53.7 56.6L53 54.6L52.4 52.6L51.8 50.6L51.3 49L51.2 48.6L50.7 46.6L50.1 44.6L49.6 42.6L49.1 40.6L48.9 39.7L48.7 38.6L48.2 36.6L47.8 34.6L47.3 32.6L46.9 30.6L46.5 28.6L46.5 28.4L46.1 26.6L45.8 24.6L45.4 22.6L45.1 20.6L44.7 18.6L44.4 16.6L44.1 14.6L44.1 14.4L43.8 12.6L43.5 10.6L43.2 8.6L42.9 6.6L42.7 4.6L41.7 4.6L39.3 4.6L36.8 4.6L34.4 4.6L32 4.6L29.6 4.6L29.6 6.6L29.6 8.6L29.6 10.6L29.6 12.6L29.6 14.6L29.6 16.6L29.6 18.6L29.6 20.6L29.6 22.6L29.6 24.6L29.6 26.6L29.6 28.6L29.6 30.6L29.6 32.6L29.6 34.6L29.6 36.6L29.6 38.6L29.6 40.6L29.6 42.6L29.6 44.6L29.6 46.6L29.6 48.6L29.6 50.6L29.6 52.6L29.6 54.6L29.6 56.6L29.6 58.6L29.6 60.6L29.6 62.6L29.6 64.6L29.6 66.6L29.6 68.6L29.6 70.6L29.6 72.6L29.6 74.6L29.6 76.6L29.6 78.6L29.6 80.6L29.6 82.6L29.6 84.6L29.6 86.6L29.6 88.6L29.6 90.6L29.6 92.6L29.6 94.6L29.6 96.6L29.6 98.6L29.6 100.6L29.6 102.6L29.6 104.7L29.6 106.7L29.6 108.7L29.6 110.7L29.6 112.7L29.6 114.7L29.6 116.7L29.6 118.7L29.6 120.7L29.6 122.7L29.6 124.7L29.6 126.7L29.6 128.7L29.6 130.7L29.6 132.7L29.6 134.7L29.6 136.7L29.6 138.7L29.6 140.7L29.6 142.7L29.6 144.7L29.6 146.7L29.6 148.7L29.6 150.7L29.6 152.7L29.6 154.7L29.6 156.7L29.6 158.7L29.6 160.7L29.6 162.7L29.6 164.7L29.6 166.7L29.6 168.7L29.6 170.7L29.6 172.7L29.6 174.7L29.6 176.7L29.6 178.7L29.6 180.7L29.6 182.7L29.6 184.7L29.6 186.7L29.6 188.7L29.6 190.7L29.6 192.7L29.6 194.7L29.6 196.7L29.6 198.7L29.6 200.7L29.6 202.8L32 202.8Z"/>
<path fill="#75c477" d="M32 202.8L34.4 202.8L36.8 202.8L39.3 202.8L41.7 202.8L44.1 202.8L46.5 202.8L48.9 202.8L51.3 202.8L53.8 202.8L56.2 202.8L58.6 202.8L61 202.8L63.4 202.8L65.8 202.8L68.2 202.8L70.7 202.8L73.1 202.8L75.5 202.8L77.9 202.8L80.3 202.8L82.7 202.8L85.1 202.8L87.6 202.8L90 202.8L92.4 202.8L94.8 202.8L97.2 202.8L99.6 202.8L102.1 202.8L104.5 202.8L106.9 202.8L109.3 202.8L111.7 202.8L114.1 202.8L116.5 202.8L119 202.8L121.4 202.8L123.8 202.8L126.2 202.8L128.6 202.8L131 202.8L133.5 202.8L135.9 202.8L138.3 202.8L140.7 202.8L143.1 202.8L145.5 202.8L147.9 202.8L150.4 202.8L152.8 202.8L155.2 202.8L157.6 202.8L160 202.8L162.4 202.8L164.8 202.8L167.3 202.8L169.7 202.8L172.1 202.8L174.5 202.8L176.9 202.8L179.3 202.8L181.8 202.8L184.2 202.8L186.6 202.8L189 202.8L191.4 202.8L193.8 202.8L196.2 202.8L198.7 202.8L201.1 202.8L203.5 202.8L205.9 202.8L208.3 202.8L210.7 202.8L213.2 202.8L215.6 202.8L218 202.8L220.4 202.8L222.8 202.8L225.2 202.8L227.6 202.8L230.1 202.8L232.5 202.8L234.9 202.8L237.3 202.8L239.7 202.8L242.1 202.8L244.5 202.8L247 202.8L249.4 202.8L251.8 202.8L254.2 202.8L256.6 202.8L259 202.8L261.5 202.8L263.9 202.8L266.3 202.8L268.7 202.8L268.7 200.7L268.7 198.7L268.7 196.7L268.7 194.7L268.7 192.7L268.7 190.7L268.7 188.7L268.7 186.7L268.7 184.7L268.7 182.7L268.7 180.7L268.7 178.7L268.7 176.7L268.7 174.7L268.7 172.7L268.7 170.7L268.7 168.7L268.7 166.7L268.7 164.7L268.7 162.7L268.7 160.7L268.7 158.7L268.7 157.1L266.3 156.9L264.3 156.7L263.9 156.7L261.5 156.4L259 156.2L256.6 155.9L254.2 155.7L251.8 155.4L249.4 155.2L247 154.9L245.2 154.7L244.5 154.6L242.1 154.4L239.7 154.1L237.3 153.8L234.9 153.5L232.5 153.2L230.1 152.9L228.3 152.7L227.6 152.6L225.2 152.3L222.8 152L220.4 151.7L218 151.4L215.6 151L213.3 150.7L213.2 150.7L210.7 150.3L208.3 150L205.9 149.6L203.5 149.3L201.1 148.9L199.9 148.7L198.7 148.5L196.2 148.1L193.8 147.7L191.4 147.3L189 146.9L188 146.7L186.6 146.4L184.2 146L181.8 145.6L179.3 145.1L177.3 144.7L176.9 144.6L174.5 144.2L172.1 143.7L169.7 143.2L167.6 142.7L167.3 142.6L164.8 142.1L162.4 141.6L160 141L158.8 140.7L157.6 140.4L155.2 139.8L152.8 139.2L150.9 138.7L150.4 138.6L147.9 137.9L145.5 137.2L143.6 136.7L143.1 136.5L140.7 135.8L138.3 135.1L137 134.7L135.9 134.3L133.5 133.5L131 132.7L128.6 131.9L126.2 131L125.4 130.7L123.8 130.1L121.4 129.1L120.3 128.7L119 128.1L116.5 127.1L115.6 126.7L114.1 126L111.7 124.9L111.2 124.7L109.3 123.7L107.2 122.7L106.9 122.5L104.5 121.2L103.5 120.7L102.1 119.9L100 118.7L99.6 118.5L97.2 117L96.8 116.7L94.8 115.4L93.7 114.7L92.4 113.7L90.9 112.7L90 112L88.3 110.7L87.6 110.1L85.8 108.7L85.1 108.1L83.5 106.7L82.7 106L81.3 104.7L80.3 103.7L79.3 102.6L77.9 101.2L77.3 100.6L75.5 98.6L73.8 96.6L73.1 95.8L72.2 94.6L70.7 92.6L70.6 92.6L69.2 90.6L68.2 89.3L67.8 88.6L66.5 86.6L65.8 85.5L65.3 84.6L64.1 82.6L63.4 81.4L63 80.6L61.9 78.6L61 76.8L60.9 76.6L59.9 74.6L59 72.6L58.6 71.7L58.1 70.6L57.3 68.6L56.5 66.6L56.2 65.9L55.7 64.6L54.9 62.6L54.2 60.6L53.8 59.2L53.6 58.6L52.9 56.6L52.3 54.6L51.7 52.6L51.3 51.4L51.1 50.6L50.5 48.6L50 46.6L49.5 44.6L49 42.6L48.9 42.3L48.5 40.6L48.1 38.6L47.6 36.6L47.2 34.6L46.8 32.6L46.5 31.2L46.4 30.6L46 28.6L45.6 26.6L45.3 24.6L44.9 22.6L44.6 20.6L44.3 18.6L44.1 17.4L44 16.6L43.6 14.6L43.3 12.6L43.1 10.6L42.8 8.6L42.5 6.6L42.3 4.6L41.7 4.6L39.3 4.6L36.8 4.6L34.4 4.6L32 4.6L29.6 4.6L29.6 6.6L29.6 8.6L29.6 10.6L29.6 12.6L29.6 14.6L29.6 16.6L29.6 18.6L29.6 20.6L29.6 22.6L29.6 24.6L29.6 26.6L29.6 28.6L29.6 30.6L29.6 32.6L29.6 34.6L29.6 36.6L29.6 38.6L29.6 40.6L29.6 42.6L29.6 44.6L29.6 46.6L29.6 48.6L29.6 50.6L29.6 52.6L29.6 54.6L29.6 56.6L29.6 58.6L29.6 60.6L29.6 62.6L29.6 64.6L29.6 66.6L29.6 68.6L29.6 70.6L29.6 72.6L29.6 74.6L29.6 76.6L29.6 78.6L29.6 80.6L29.6 82.6L29.6 84.6L29.6 86.6L29.6 88.6L29.6 90.6L29.6 92.6L29.6 94.6L29.6 96.6L29.6 98.6L29.6 100.6L29.6 102.6L29.6 104.7L29.6 106.7L29.6 108.7L29.6 110.7L29.6 112.7L29.6 114.7L29.6 116.7L29.6 118.7L29.6 120.7L29.6 122.7L29.6 124.7L29.6 126.7L29.6 128.7L29.6 130.7L29.6 132.7L29.6 134.7L29.6 136.7L29.6 138.7L29.6 140.7L29.6 142.7L29.6 144.7L29.6 146.7L29.6 148.7L29.6 150.7L29.6 152.7L29.6 154.7L29.6 156.7L29.6 158.7L29.6 160.7L29.6 162.7L29.6 164.7L29.6 166.7L29.6 168.7L29.6 170.7L29.6 172.7L29.6 174.7L29.6 176.7L29.6 178.7L29.6 180.7L29.6 182.7L29.6 184.7L29.6 186.7L29.6 188.7L29.6 190.7L29.6 192.7L29.6 194.7L29.6 196.7L29.6 198.7L29.6 200.7L29.6 202.8L32 202.8Z"/>
<path fill="#7cc87c" d="M32 202.8L34.4 202.8L36.8 202.8L39.3 202.8L41.7 202.8L44.1 202.8L46.5 202.8L48.9 202.8L51.3 202.8L53.8 202.8L56.2 202.8L58.6 202.8L61 202.8L63.4 202.8L65.8 202.8L68.2 202.8L70.7 202.8L73.1 202.8L75.5 202.8L77.9 202.8L80.3 202.8L82.7 202.8L85.1 202.8L87.6 202.8L90 202.8L92.4 202.8L94.8 202.8L97.2 202.8L99.6 202.8L102.1 202.8L104.5 202.8L106.9 202.8L109.3 202.8L111.7 202.8L114.1 202.8L116.5 202.8L119 202.8L121.4 202.8L123.8 202.8L126.2 202.8L128.6 202.8L131 202.8L133.5 202.8L135.9 202.8L138.3 202.8L140.7 202.8L143.1 202.8L145.5 202.8L147.9 202.8L150.4 202.8L152.8 202.8L155.2 202.8L157.6 202.8L160 202.8L162.4 202.8L164.8 202.8L167.3 202.8L169.7 202.8L172.1 202.8L174.5 202.8L176.9 202.8L179.3 202.8L181.8 202.8L184.2 202.8L186.6 202.8L189 202.8L191.4 202.8L193.8 202.8L196.2 202.8L198.7 202.8L201.1 202.8L203.5 202.8L205.9 202.8L208.3 202.8L210.7 202.8L213.2 202.8L215.6 202.8L218 202.8L220.4 202.8L222.8 202.8L225.2 202.8L227.6 202.8L230.1 202.8L232.5 202.8L234.9 202.8L237.3 202.8L239.7 202.8L242.1 202.8L244.5 202.8L247 202.8L249.4 202.8L251.8 202.8L254.2 202.8L256.6 202.8L259 202.8L261.5 202.8L263.9 202.8L266.3 202.8L268.7 202.8L268.7 200.7L268.7 198.7L268.7 196.7L268.7 194.7L268.7 192.7L268.7 190.7L268.7 188.7L268.7 186.7L268.7 184.7L268.7 182.7L268.7 180.7L268.7 178.7L268.7 176.7L268.7 174.7L268.7 172.7L268.7 170.7L268.7 168.7L268.7 166.7L268.7 164.7L268.7 162.7L268.7 160.7L268.7 158.7L268.7 157.9L266.3 157.7L263.9 157.4L261.5 157.2L259 157L256.6 156.7L254.2 156.5L251.8 156.2L249.4 156L247 155.7L244.5 155.4L242.1 155.2L239.7 154.9L238.1 154.7L237.3 154.6L234.9 154.3L232.5 154.1L230.1 153.8L227.6 153.5L225.2 153.2L222.8 152.8L221.8 152.7L220.4 152.5L218 152.2L215.6 151.9L213.2 151.6L210.7 151.2L208.3 150.9L207.3 150.7L205.9 150.5L203.5 150.1L201.1 149.8L198.7 149.4L196.2 149L194.3 148.7L193.8 148.6L191.4 148.2L189 147.8L186.6 147.4L184.2 147L182.8 146.7L181.8 146.5L179.3 146.1L176.9 145.6L174.5 145.1L172.4 144.7L172.1 144.6L169.7 144.1L167.3 143.6L164.8 143.1L163 142.7L162.4 142.6L160 142L157.6 141.4L155.2 140.8L154.6 140.7L152.8 140.2L150.4 139.6L147.9 139L146.9 138.7L145.5 138.3L143.1 137.6L140.7 136.9L139.9 136.7L138.3 136.2L135.9 135.5L133.5 134.7L131 133.9L128.6 133L127.6 132.7L126.2 132.2L123.8 131.3L122.3 130.7L121.4 130.3L119 129.4L117.3 128.7L116.5 128.3L114.1 127.3L112.8 126.7L111.7 126.2L109.3 125L108.6 124.7L106.9 123.8L104.7 122.7L104.5 122.6L102.1 121.2L101 120.7L99.6 119.9L97.7 118.7L97.2 118.4L94.8 116.8L94.6 116.7L92.4 115.2L91.6 114.7L90 113.5L88.9 112.7L87.6 111.6L86.4 110.7L85.1 109.7L84 108.7L82.7 107.6L81.7 106.7L80.3 105.3L79.6 104.7L77.9 102.9L77.6 102.6L75.8 100.6L75.5 100.3L74 98.6L73.1 97.5L72.4 96.6L70.8 94.6L70.7 94.5L69.3 92.6L68.2 91.1L67.9 90.6L66.6 88.6L65.8 87.5L65.3 86.6L64.1 84.6L63.4 83.4L63 82.6L61.9 80.6L61 78.9L60.8 78.6L59.9 76.6L58.9 74.6L58.6 73.9L58 72.6L57.2 70.6L56.4 68.6L56.2 68.1L55.6 66.6L54.8 64.6L54.1 62.6L53.8 61.6L53.4 60.6L52.8 58.6L52.1 56.6L51.5 54.6L51.3 53.9L50.9 52.6L50.4 50.6L49.8 48.6L49.3 46.6L48.9 44.9L48.8 44.6L48.4 42.6L47.9 40.6L47.4 38.6L47 36.6L46.6 34.6L46.5 34L46.2 32.6L45.8 30.6L45.5 28.6L45.1 26.6L44.7 24.6L44.4 22.6L44.1 20.6L44.1 20.5L43.8 18.6L43.5 16.6L43.2 14.6L42.9 12.6L42.6 10.6L42.3 8.6L42.1 6.6L41.8 4.6L41.7 4.6L39.3 4.6L36.8 4.6L34.4 4.6L32 4.6L29.6 4.6L29.6 6.6L29.6 8.6L29.6 10.6L29.6 12.6L29.6 14.6L29.6 16.6L29.6 18.6L29.6 20.6L29.6 22.6L29.6 24.6L29.6 26.6L29.6 28.6L29.6 30.6L29.6 32.6L29.6 34.6L29.6 36.6L29.6 38.6L29.6 40.6L29.6 42.6L29.6 44.6L29.6 46.6L29.6 48.6L29.6 50.6L29.6 52.6L29.6 54.6L29.6 56.6L29.6 58.6L29.6 60.6L29.6 62.6L29.6 64.6L29.6 66.6L29.6 68.6L29.6 70.6L29.6 72.6L29.6 74.6L29.6 76.6L29.6 78.6L29.6 80.6L29.6 82.6L29.6 84.6L29.6 86.6L29.6 88.6L29.6 90.6L29.6 92.6L29.6 94.6L29.6 96.6L29.6 98.6L29.6 100.6L29.6 102.6L29.6 104.7L29.6 106.7L29.6 108.7L29.6 110.7L29.6 112.7L29.6 114.7L29.6 116.7L29.6 118.7L29.6 120.7L29.6 122.7L29.6 124.7L29.6 126.7L29.6 128.7L29.6 130.7L29.6 132.7L29.6 134.7L29.6 136.7L29.6 138.7L29.6 140.7L29.6 142.7L29.6 144.7L29.6 146.7L29.6 148.7L29.6 150.7L29.6 152.7L29.6 154.7L29.6 156.7L29.6 158.7L29.6 160.7L29.6 162.7L29.6 164.7L29.6 166.7L29.6 168.7L29.6 170.7L29.6 172.7L29.6 174.7L29.6 176.7L29.6 178.7L29.6 180.7L29.6 182.7L29.6 184.7L29.6 186.7L29.6 188.7L29.6 190.7L29.6 192.7L29.6 194.7L29.6 196.7L29.6 198.7L29.6 200.7L29.6 202.8L32 202.8Z"/>
<path fill="#83cb82" d="M32 202.8L34.4 202.8L36.8 202.8L39.3 202.8L41.7 202.8L44.1 202.8L46.5 202.8L48.9 202.8L51.3 202.8L53.8 202.8L56.2 202.8L58.6 202.8L61 202.8L63.4 202.8L65.8 202.8L68.2 202.8L70.7 202.8L73.1 202.8L75.5 202.8L77.9 202.8L80.3 202.8L82.7 202.8L85.1 202.8L87.6 202.8L90 202.8L92.4 202.8L94.8 202.8L97.2 202.8L99.6 202.8L102.1 202.8L104.5 202.8L106.9 202.8L109.3 202.8L111.7 202.8L114.1 202.8L116.5 202.8L119 202.8L121.4 202.8L123.8 202.8L126.2 202.8L128.6 202.8L131 202.8L133.5 202.8L135.9 202.8L138.3 202.8L140.7 202.8L143.1 202.8L145.5 202.8L147.9 202.8L150.4 202.8L152.8 202.8L155.2 202.8L157.6 202.8L160 202.8L162.4 202.8L164.8 202.8L167.3 202.8L169.7 202.8L172.1 202.8L174.5 202.8L176.9 202.8L179.3 202.8L181.8 202.8L184.2 202.8L186.6 202.8L189 202.8L191.4 202.8L193.8 202.8L196.2 202.8L198.7 202.8L201.1 202.8L203.5 202.8L205.9 202.8L208.3 202.8L210.7 202.8L213.2 202.8L215.6 202.8L218 202.8L220.4 202.8L222.8 202.8L225.2 202.8L227.6 202.8L230.1 202.8L232.5 202.8L234.9 202.8L237.3 202.8L239.7 202.8L242.1 202.8L244.5 202.8L247 202.8L249.4 202.8L251.8 202.8L254.2 202.8L256.6 202.8L259 202.8L261.5 202.8L263.9 202.8L266.3 202.8L268.7 202.8L268.7 200.7L268.7 198.7L268.7 196.7L268.7 194.7L268.7 192.7L268.7 190.7L268.7 188.7L268.7 186.7L268.7 184.7L268.7 182.7L268.7 180.7L268.7 178.7L268.7 176.7L268.7 174.7L268.7 172.7L268.7 170.7L268.7 168.7L268.7 166.7L268.7 164.7L268.7 162.7L268.7 160.7L268.7 158.7L266.3 158.4L263.9 158.2L261.5 158L259 157.8L256.6 157.5L254.2 157.3L251.8 157L249.4 156.8L248.8 156.7L247 156.5L244.5 156.3L242.1 156L239.7 155.7L237.3 155.5L234.9 155.2L232.5 154.9L230.9 154.7L230.1 154.6L227.6 154.3L225.2 154L222.8 153.7L220.4 153.4L218 153.1L215.6 152.8L215.2 152.7L213.2 152.4L210.7 152.1L208.3 151.8L205.9 151.4L203.5 151.1L201.2 150.7L201.1 150.7L198.7 150.3L196.2 149.9L193.8 149.6L191.4 149.2L189 148.7L188.7 148.7L186.6 148.3L184.2 147.9L181.8 147.5L179.3 147L177.5 146.7L176.9 146.6L174.5 146.1L172.1 145.6L169.7 145.2L167.5 144.7L167.3 144.6L164.8 144.1L162.4 143.6L160 143.1L158.5 142.7L157.6 142.5L155.2 141.9L152.8 141.3L150.4 140.7L150.3 140.7L147.9 140.1L145.5 139.4L143.1 138.8L142.9 138.7L140.7 138.1L138.3 137.4L136.1 136.7L135.9 136.6L133.5 135.9L131 135.1L129.9 134.7L128.6 134.2L126.2 133.4L124.3 132.7L123.8 132.5L121.4 131.6L119.1 130.7L119 130.6L116.5 129.6L114.3 128.7L114.1 128.6L111.7 127.5L109.9 126.7L109.3 126.4L106.9 125.2L105.8 124.7L104.5 124L102.1 122.7L99.6 121.3L98.6 120.7L97.2 119.9L95.3 118.7L94.8 118.3L92.4 116.7L92.3 116.7L90 115L89.5 114.7L87.6 113.2L86.9 112.7L85.1 111.3L84.4 110.7L82.7 109.2L82.1 108.7L80.3 107L79.9 106.7L77.9 104.7L76 102.6L75.5 102.1L74.2 100.6L73.1 99.4L72.5 98.6L70.9 96.6L70.7 96.4L69.4 94.6L68.2 93.1L67.9 92.6L66.6 90.6L65.8 89.5L65.3 88.6L64.1 86.6L63.4 85.5L62.9 84.6L61.8 82.6L61 81.1L60.8 80.6L59.8 78.6L58.8 76.6L58.6 76.1L57.9 74.6L57 72.6L56.2 70.6L56.2 70.5L55.4 68.6L54.7 66.6L54 64.6L53.8 64L53.3 62.6L52.6 60.6L52 58.6L51.4 56.6L51.3 56.5L50.8 54.6L50.2 52.6L49.7 50.6L49.2 48.6L48.9 47.6L48.7 46.6L48.2 44.6L47.7 42.6L47.3 40.6L46.8 38.6L46.5 36.9L46.4 36.6L46 34.6L45.6 32.6L45.3 30.6L44.9 28.6L44.6 26.6L44.2 24.6L44.1 23.7L43.9 22.6L43.6 20.6L43.3 18.6L43 16.6L42.7 14.6L42.4 12.6L42.2 10.6L41.9 8.6L41.7 6.6L41.4 4.6L39.3 4.6L36.8 4.6L34.4 4.6L32 4.6L29.6 4.6L29.6 6.6L29.6 8.6L29.6 10.6L29.6 12.6L29.6 14.6L29.6 16.6L29.6 18.6L29.6 20.6L29.6 22.6L29.6 24.6L29.6 26.6L29.6 28.6L29.6 30.6L29.6 32.6L29.6 34.6L29.6 36.6L29.6 38.6L29.6 40.6L29.6 42.6L29.6 44.6L29.6 46.6L29.6 48.6L29.6 50.6L29.6 52.6L29.6 54.6L29.6 56.6L29.6 58.6L29.6 60.6L29.6 62.6L29.6 64.6L29.6 66.6L29.6 68.6L29.6 70.6L29.6 72.6L29.6 74.6L29.6 76.6L29.6 78.6L29.6 80.6L29.6 82.6L29.6 84.6L29.6 86.6L29.6 88.6L29.6 90.6L29.6 92.6L29.6 94.6L29.6 96.6L29.6 98.6L29.6 100.6L29.6 102.6L29.6 104.7L29.6 106.7L29.6 108.7L29.6 110.7L29.6 112.7L29.6 114.7L29.6 116.7L29.6 118.7L29.6 120.7L29.6 122.7L29.6 124.7L29.6 126.7L29.6 128.7L29.6 130.7L29.6 132.7L29.6 134.7L29.6 136.7L29.6 138.7L29.6 140.7L29.6 142.7L29.6 144.7L29.6 146.7L29.6 148.7L29.6 150.7L29.6 152.7L29.6 154.7L29.6 156.7L29.6 158.7L29.6 160.7L29.6 162.7L29.6 164.7L29.6 166.7L29.6 168.7L29.6 170.7L29.6 172.7L29.6 174.7L29.6 176.7L29.6 178.7L29.6 180.7L29.6 182.7L29.6 184.7L29.6 186.7L29.6 188.7L29.6 190.7L29.6 192.7L29.6 194.7L29.6 196.7L29.6 198.7L29.6 200.7L29.6 202.8L32 202.8Z"/>
<path fill="#88ce87" d="M32 202.8L34.4 202.8L36.8 202.8L39.3 202.8L41.7 202.8L44.1 202.8L46.5 202.8L48.9 202.8L51.3 202.8L53.8 202.8L56.2 202.8L58.6 202.8L61 202.8L63.4 202.8L65.8 202.8L68.2 202.8L70.7 202.8L73.1 202.8L75.5 202.8L77.9 202.8L80.3 202.8L82.7 202.8L85.1 202.8L87.6 202.8L90 202.8L92.4 202.8L94.8 202.8L97.2 202.8L99.6 202.8L102.1 202.8L104.5 202.8L106.9 202.8L109.3 202.8L111.7 202.8L114.1 202.8L116.5 202.8L119 202.8L121.4 202.8L123.8 202.8L126.2 202.8L128.6 202.8L131 202.8L133.5 202.8L135.9 202.8L138.3 202.8L140.7 202.8L143.1 202.8L145.5 202.8L147.9 202.8L150.4 202.8L152.8 202.8L155.2 202.8L157.6 202.8L160 202.8L162.4 202.8L164.8 202.8L167.3 202.8L169.7 202.8L172.1 202.8L174.5 202.8L176.9 202.8L179.3 202.8L181.8 202.8L184.2 202.8L186.6 202.8L189 202.8L191.4 202.8L193.8 202.8L196.2 202.8L198.7 202.8L201.1 202.8L203.5 202.8L205.9 202.8L208.3 202.8L210.7 202.8L213.2 202.8L215.6 202.8L218 202.8L220.4 202.8L222.8 202.8L225.2 202.8L227.6 202.8L230.1 202.8L232.5 202.8L234.9 202.8L237.3 202.8L239.7 202.8L242.1 202.8L244.5 202.8L247 202.8L249.4 202.8L251.8 202.8L254.2 202.8L256.6 202.8L259 202.8L261.5 202.8L263.9 202.8L266.3 202.8L268.7 202.8L268.7 200.7L268.7 198.7L268.7 196.7L268.7 194.7L268.7 192.7L268.7 190.7L268.7 188.7L268.7 186.7L268.7 184.7L268.7 182.7L268.7 180.7L268.7 178.7L268.7 176.7L268.7 174.7L268.7 172.7L268.7 170.7L268.7 168.7L268.7 166.7L268.7 164.7L268.7 162.7L268.7 160.7L268.7 159.5L266.3 159.3L263.9 159L261.5 158.8L260.6 158.7L259 158.6L256.6 158.3L254.2 158.1L251.8 157.9L249.4 157.6L247 157.4L244.5 157.1L242.1 156.8L240.9 156.7L239.7 156.6L237.3 156.3L234.9 156L232.5 155.8L230.1 155.5L227.6 155.2L225.2 154.9L223.7 154.7L222.8 154.6L220.4 154.3L218 154L215.6 153.7L213.2 153.4L210.7 153L208.5 152.7L208.3 152.7L205.9 152.3L203.5 152L201.1 151.6L198.7 151.3L196.2 150.9L195 150.7L193.8 150.5L191.4 150.1L189 149.7L186.6 149.3L184.2 148.9L183 148.7L181.8 148.5L179.3 148.1L176.9 147.6L174.5 147.2L172.2 146.7L172.1 146.7L169.7 146.2L167.3 145.7L164.8 145.2L162.5 144.7L162.4 144.7L160 144.1L157.6 143.6L155.2 143L153.8 142.7L152.8 142.4L150.4 141.8L147.9 141.2L145.9 140.7L145.5 140.6L143.1 139.9L140.7 139.2L138.8 138.7L138.3 138.5L135.9 137.8L133.5 137.1L132.3 136.7L131 136.3L128.6 135.5L126.3 134.7L126.2 134.6L123.8 133.8L121.4 132.9L120.9 132.7L119 131.9L116.5 131L115.9 130.7L114.1 130L111.7 128.9L111.3 128.7L109.3 127.8L107 126.7L106.9 126.6L104.5 125.4L103.1 124.7L102.1 124.1L99.6 122.8L99.5 122.7L97.2 121.4L96.1 120.7L94.8 119.9L93 118.7L92.4 118.3L90.1 116.7L90 116.6L87.6 114.8L87.3 114.7L85.1 112.9L84.8 112.7L82.7 110.9L82.4 110.7L80.3 108.8L80.2 108.7L78.1 106.7L77.9 106.4L76.2 104.7L75.5 103.9L74.3 102.6L73.1 101.2L72.6 100.6L70.9 98.6L70.7 98.3L69.4 96.6L68.2 95.1L67.9 94.6L66.6 92.6L65.8 91.5L65.2 90.6L64 88.6L63.4 87.6L62.8 86.6L61.7 84.6L61 83.3L60.7 82.6L59.6 80.6L58.7 78.6L58.6 78.4L57.8 76.6L56.9 74.6L56.2 72.9L56.1 72.6L55.3 70.6L54.5 68.6L53.8 66.6L53.8 66.5L53.1 64.6L52.4 62.6L51.8 60.6L51.3 59.2L51.2 58.6L50.6 56.6L50 54.6L49.5 52.6L49 50.6L48.9 50.5L48.4 48.6L48 46.6L47.5 44.6L47.1 42.6L46.6 40.6L46.5 39.9L46.2 38.6L45.8 36.6L45.4 34.6L45.1 32.6L44.7 30.6L44.4 28.6L44.1 26.9L44 26.6L43.7 24.6L43.4 22.6L43.1 20.6L42.8 18.6L42.5 16.6L42.2 14.6L42 12.6L41.7 10.6L41.7 10.1L41.5 8.6L41.2 6.6L41 4.6L39.3 4.6L36.8 4.6L34.4 4.6L32 4.6L29.6 4.6L29.6 6.6L29.6 8.6L29.6 10.6L29.6 12.6L29.6 14.6L29.6 16.6L29.6 18.6L29.6 20.6L29.6 22.6L29.6 24.6L29.6 26.6L29.6 28.6L29.6 30.6L29.6 32.6L29.6 34.6L29.6 36.6L29.6 38.6L29.6 40.6L29.6 42.6L29.6 44.6L29.6 46.6L29.6 48.6L29.6 50.6L29.6 52.6L29.6 54.6L29.6 56.6L29.6 58.6L29.6 60.6L29.6 62.6L29.6 64.6L29.6 66.6L29.6 68.6L29.6 70.6L29.6 72.6L29.6 74.6L29.6 76.6L29.6 78.6L29.6 80.6L29.6 82.6L29.6 84.6L29.6 86.6L29.6 88.6L29.6 90.6L29.6 92.6L29.6 94.6L29.6 96.6L29.6 98.6L29.6 100.6L29.6 102.6L29.6 104.7L29.6 106.7L29.6 108.7L29.6 110.7L29.6 112.7L29.6 114.7L29.6 116.7L29.6 118.7L29.6 120.7L29.6 122.7L29.6 124.7L29.6 126.7L29.6 128.7L29.6 130.7L29.6 132.7L29.6 134.7L29.6 136.7L29.6 138.7L29.6 140.7L29.6 142.7L29.6 144.7L29.6 146.7L29.6 148.7L29.6 150.7L29.6 152.7L29.6 154.7L29.6 156.7L29.6 158.7L29.6 160.7L29.6 162.7L29.6 164.7L29.6 166.7L29.6 168.7L29.6 170.7L29.6 172.7L29.6 174.7L29.6 176.7L29.6 178.7L29.6 180.7L29.6 182.7L29.6 184.7L29.6 186.7L29.6 188.7L29.6 190.7L29.6 192.7L29.6 194.7L29.6 196.7L29.6 198.7L29.6 200.7L29.6 202.8L32 202.8Z"/>
<path fill="#90d18d" d="M32 202.8L34.4 202.8L36.8 202.8L39.3 202.8L41.7 202.8L44.1 202.8L46.5 202.8L48.9 202.8L51.3 202.8L53.8 202.8L56.2 202.8L58.6 202.8L61 202.8L63.4 202.8L65.8 202.8L68.2 202.8L70.7 202.8L73.1 202.8L75.5 202.8L77.9 202.8L80.3 202.8L82.7 202.8L85.1 202.8L87.6 202.8L90 202.8L92.4 202.8L94.8 202.8L97.2 202.8L99.6 202.8L102.1 202.8L104.5 202.8L106.9 202.8L109.3 202.8L111.7 202.8L114.1 202.8L116.5 202.8L119 202.8L121.4 202.8L123.8 202.8L126.2 202.8L128.6 202.8L131 202.8L133.5 202.8L135.9 202.8L138.3 202.8L140.7 202.8L143.1 202.8L145.5 202.8L147.9 202.8L150.4 202.8L152.8 202.8L155.2 202.8L157.6 202.8L160 202.8L162.4 202.8L164.8 202.8L167.3 202.8L169.7 202.8L172.1 202.8L174.5 202.8L176.9 202.8L179.3 202.8L181.8 202.8L184.2 202.8L186.6 202.8L189 202.8L191.4 202.8L193.8 202.8L196.2 202.8L198.7 202.8L201.1 202.8L203.5 202.8L205.9 202.8L208.3 202.8L210.7 202.8L213.2 202.8L215.6 202.8L218 202.8L220.4 202.8L222.8 202.8L225.2 202.8L227.6 202.8L230.1 202.8L232.5 202.8L234.9 202.8L237.3 202.8L239.7 202.8L242.1 202.8L244.5 202.8L247 202.8L249.4 202.8L251.8 202.8L254.2 202.8L256.6 202.8L259 202.8L261.5 202.8L263.9 202.8L266.3 202.8L268.7 202.8L268.7 200.7L268.7 198.7L268.7 196.7L268.7 194.7L268.7 192.7L268.7 190.7L268.7 188.7L268.7 186.7L268.7 184.7L268.7 182.7L268.7 180.7L268.7 178.7L268.7 176.7L268.7 174.7L268.7 172.7L268.7 170.7L268.7 168.7L268.7 166.7L268.7 164.7L268.7 162.7L268.7 160.7L268.7 160.3L266.3 160.1L263.9 159.9L261.5 159.6L259 159.4L256.6 159.2L254.2 158.9L251.9 158.7L251.8 158.7L249.4 158.5L247 158.2L244.5 158L242.1 157.7L239.7 157.5L237.3 157.2L234.9 156.9L233 156.7L232.5 156.6L230.1 156.4L227.6 156.1L225.2 155.8L222.8 155.5L220.4 155.2L218 154.9L216.4 154.7L215.6 154.6L213.2 154.3L210.7 154L208.3 153.6L205.9 153.3L203.5 153L201.7 152.7L201.1 152.6L198.7 152.3L196.2 151.9L193.8 151.5L191.4 151.1L189 150.7L188.7 150.7L186.6 150.4L184.2 149.9L181.8 149.5L179.3 149.1L177.2 148.7L176.9 148.7L174.5 148.2L172.1 147.8L169.7 147.3L167.3 146.8L166.8 146.7L164.8 146.3L162.4 145.8L160 145.3L157.6 144.7L157.5 144.7L155.2 144.2L152.8 143.6L150.4 143L149.1 142.7L147.9 142.4L145.5 141.8L143.1 141.1L141.5 140.7L140.7 140.5L138.3 139.8L135.9 139.1L134.7 138.7L133.5 138.3L131 137.6L128.6 136.8L128.4 136.7L126.2 136L123.8 135.1L122.7 134.7L121.4 134.2L119 133.3L117.4 132.7L116.5 132.3L114.1 131.3L112.6 130.7L111.7 130.3L109.3 129.2L108.2 128.7L106.9 128.1L104.5 126.9L104.1 126.7L102.1 125.6L100.3 124.7L99.6 124.3L97.2 122.9L96.8 122.7L94.8 121.4L93.6 120.7L92.4 119.9L90.6 118.7L90 118.2L87.8 116.7L87.6 116.5L85.2 114.7L85.1 114.6L82.7 112.7L80.4 110.7L80.3 110.5L78.3 108.7L77.9 108.3L76.3 106.7L75.5 105.8L74.4 104.7L73.1 103.2L72.6 102.6L71 100.6L70.7 100.3L69.4 98.6L68.2 97.1L67.9 96.6L66.5 94.6L65.8 93.7L65.2 92.6L63.9 90.6L63.4 89.8L62.7 88.6L61.6 86.6L61 85.6L60.5 84.6L59.5 82.6L58.6 80.8L58.5 80.6L57.6 78.6L56.7 76.6L56.2 75.4L55.9 74.6L55.1 72.6L54.3 70.6L53.8 69.1L53.6 68.6L52.9 66.6L52.2 64.6L51.6 62.6L51.3 61.9L50.9 60.6L50.3 58.6L49.8 56.6L49.2 54.6L48.9 53.4L48.7 52.6L48.2 50.6L47.7 48.6L47.3 46.6L46.8 44.6L46.5 43.1L46.4 42.6L46 40.6L45.6 38.6L45.2 36.6L44.8 34.6L44.5 32.6L44.1 30.6L44.1 30.3L43.8 28.6L43.5 26.6L43.2 24.6L42.9 22.6L42.6 20.6L42.3 18.6L42 16.6L41.8 14.6L41.7 13.8L41.5 12.6L41.3 10.6L41 8.6L40.8 6.6L40.6 4.6L39.3 4.6L36.8 4.6L34.4 4.6L32 4.6L29.6 4.6L29.6 6.6L29.6 8.6L29.6 10.6L29.6 12.6L29.6 14.6L29.6 16.6L29.6 18.6L29.6 20.6L29.6 22.6L29.6 24.6L29.6 26.6L29.6 28.6L29.6 30.6L29.6 32.6L29.6 34.6L29.6 36.6L29.6 38.6L29.6 40.6L29.6 42.6L29.6 44.6L29.6 46.6L29.6 48.6L29.6 50.6L29.6 52.6L29.6 54.6L29.6 56.6L29.6 58.6L29.6 60.6L29.6 62.6L29.6 64.6L29.6 66.6L29.6 68.6L29.6 70.6L29.6 72.6L29.6 74.6L29.6 76.6L29.6 78.6L29.6 80.6L29.6 82.6L29.6 84.6L29.6 86.6L29.6 88.6L29.6 90.6L29.6 92.6L29.6 94.6L29.6 96.6L29.6 98.6L29.6 100.6L29.6 102.6L29.6 104.7L29.6 106.7L29.6 108.7L29.6 110.7L29.6 112.7L29.6 114.7L29.6 116.7L29.6 118.7L29.6 120.7L29.6 122.7L29.6 124.7L29.6 126.7L29.6 128.7L29.6 130.7L29.6 132.7L29.6 134.7L29.6 136.7L29.6 138.7L29.6 140.7L29.6 142.7L29.6 144.7L29.6 146.7L29.6 148.7L29.6 150.7L29.6 152.7L29.6 154.7L29.6 156.7L29.6 158.7L29.6 160.7L29.6 162.7L29.6 164.7L29.6 166.7L29.6 168.7L29.6 170.7L29.6 172.7L29.6 174.7L29.6 176.7L29.6 178.7L29.6 180.7L29.6 182.7L29.6 184.7L29.6 186.7L29.6 188.7L29.6 190.7L29.6 192.7L29.6 194.7L29.6 196.7L29.6 198.7L29.6 200.7L29.6 202.8L32 202.8Z"/>
<path fill="#95d391" d="M32 202.8L34.4 202.8L36.8 202.8L39.3 202.8L41.7 202.8L44.1 202.8L46.5 202.8L48.9 202.8L51.3 202.8L53.8 202.8L56.2 202.8L58.6 202.8L61 202.8L63.4 202.8L65.8 202.8L68.2 202.8L70.7 202.8L73.1 202.8L75.5 202.8L77.9 202.8L80.3 202.8L82.7 202.8L85.1 202.8L87.6 202.8L90 202.8L92.4 202.8L94.8 202.8L97.2 202.8L99.6 202.8L102.1 202.8L104.5 202.8L106.9 202.8L109.3 202.8L111.7 202.8L114.1 202.8L116.5 202.8L119 202.8L121.4 202.8L123.8 202.8L126.2 202.8L128.6 202.8L131 202.8L133.5 202.8L135.9 202.8L138.3 202.8L140.7 202.8L143.1 202.8L145.5 202.8L147.9 202.8L150.4 202.8L152.8 202.8L155.2 202.8L157.6 202.8L160 202.8L162.4 202.8L164.8 202.8L167.3 202.8L169.7 202.8L172.1 202.8L174.5 202.8L176.9 202.8L179.3 202.8L181.8 202.8L184.2 202.8L186.6 202.8L189 202.8L191.4 202.8L193.8 202.8L196.2 202.8L198.7 202.8L201.1 202.8L203.5 202.8L205.9 202.8L208.3 202.8L210.7 202.8L213.2 202.8L215.6 202.8L218 202.8L220.4 202.8L222.8 202.8L225.2 202.8L227.6 202.8L230.1 202.8L232.5 202.8L234.9 202.8L237.3 202.8L239.7 202.8L242.1 202.8L244.5 202.8L247 202.8L249.4 202.8L251.8 202.8L254.2 202.8L256.6 202.8L259 202.8L261.5 202.8L263.9 202.8L266.3 202.8L268.7 202.8L268.7 200.7L268.7 198.7L268.7 196.7L268.7 194.7L268.7 192.7L268.7 190.7L268.7 188.7L268.7 186.7L268.7 184.7L268.7 182.7L268.7 180.7L268.7 178.7L268.7 176.7L268.7 174.7L268.7 172.7L268.7 170.7L268.7 168.7L268.7 166.7L268.7 164.7L268.7 162.7L268.7 161.2L266.3 160.9L263.9 160.7L263.8 160.7L261.5 160.5L259 160.3L256.6 160.1L254.2 159.8L251.8 159.6L249.4 159.4L247 159.1L244.5 158.9L243 158.7L242.1 158.6L239.7 158.4L237.3 158.1L234.9 157.9L232.5 157.6L230.1 157.3L227.6 157L225.2 156.7L224.9 156.7L222.8 156.5L220.4 156.2L218 155.9L215.6 155.6L213.2 155.3L210.7 154.9L208.9 154.7L208.3 154.6L205.9 154.3L203.5 154L201.1 153.6L198.7 153.3L196.2 152.9L194.9 152.7L193.8 152.5L191.4 152.2L189 151.8L186.6 151.4L184.2 151L182.4 150.7L181.8 150.6L179.3 150.2L176.9 149.8L174.5 149.3L172.1 148.9L171.3 148.7L169.7 148.4L167.3 147.9L164.8 147.4L162.4 146.9L161.4 146.7L160 146.4L157.6 145.9L155.2 145.3L152.8 144.8L152.4 144.7L150.4 144.2L147.9 143.6L145.5 143L144.4 142.7L143.1 142.4L140.7 141.7L138.3 141L137.1 140.7L135.9 140.3L133.5 139.6L131 138.9L130.5 138.7L128.6 138.1L126.2 137.3L124.5 136.7L123.8 136.5L121.4 135.6L119 134.7L116.5 133.8L114.1 132.8L113.9 132.7L111.7 131.8L109.3 130.7L106.9 129.6L105.1 128.7L104.5 128.4L102.1 127.2L101.1 126.7L99.6 125.9L97.5 124.7L97.2 124.5L94.8 123.1L94.2 122.7L92.4 121.6L91 120.7L90 120L88.2 118.7L87.6 118.2L85.5 116.7L85.1 116.4L83 114.7L82.7 114.5L80.6 112.7L80.3 112.4L78.4 110.7L77.9 110.2L76.4 108.7L75.5 107.8L74.4 106.7L73.1 105.2L72.6 104.7L70.9 102.6L70.7 102.3L69.3 100.6L68.2 99.2L67.8 98.6L66.4 96.6L65.8 95.9L65 94.6L63.7 92.6L63.4 92.1L62.5 90.6L61.4 88.6L61 87.9L60.3 86.6L59.3 84.6L58.6 83.2L58.3 82.6L57.4 80.6L56.5 78.6L56.2 77.9L55.6 76.6L54.8 74.6L54 72.6L53.8 71.8L53.3 70.6L52.6 68.6L51.9 66.6L51.3 64.7L51.3 64.6L50.7 62.6L50.1 60.6L49.5 58.6L49 56.6L48.9 56.4L48.5 54.6L48 52.6L47.5 50.6L47 48.6L46.6 46.6L46.5 46.3L46.1 44.6L45.7 42.6L45.3 40.6L44.9 38.6L44.6 36.6L44.2 34.6L44.1 33.7L43.9 32.6L43.6 30.6L43.2 28.6L42.9 26.6L42.6 24.6L42.3 22.6L42.1 20.6L41.8 18.6L41.7 17.6L41.5 16.6L41.3 14.6L41 12.6L40.8 10.6L40.6 8.6L40.3 6.6L40.1 4.6L39.3 4.6L36.8 4.6L34.4 4.6L32 4.6L29.6 4.6L29.6 6.6L29.6 8.6L29.6 10.6L29.6 12.6L29.6 14.6L29.6 16.6L29.6 18.6L29.6 20.6L29.6 22.6L29.6 24.6L29.6 26.6L29.6 28.6L29.6 30.6L29.6 32.6L29.6 34.6L29.6 36.6L29.6 38.6L29.6 40.6L29.6 42.6L29.6 44.6L29.6 46.6L29.6 48.6L29.6 50.6L29.6 52.6L29.6 54.6L29.6 56.6L29.6 58.6L29.6 60.6L29.6 62.6L29.6 64.6L29.6 66.6L29.6 68.6L29.6 70.6L29.6 72.6L29.6 74.6L29.6 76.6L29.6 78.6L29.6 80.6L29.6 82.6L29.6 84.6L29.6 86.6L29.6 88.6L29.6 90.6L29.6 92.6L29.6 94.6L29.6 96.6L29.6 98.6L29.6 100.6L29.6 102.6L29.6 104.7L29.6 106.7L29.6 108.7L29.6 110.7L29.6 112.7L29.6 114.7L29.6 116.7L29.6 118.7L29.6 120.7L29.6 122.7L29.6 124.7L29.6 126.7L29.6 128.7L29.6 130.7L29.6 132.7L29.6 134.7L29.6 136.7L29.6 138.7L29.6 140.7L29.6 142.7L29.6 144.7L29.6 146.7L29.6 148.7L29.6 150.7L29.6 152.7L29.6 154.7L29.6 156.7L29.6 158.7L29.6 160.7L29.6 162.7L29.6 164.7L29.6 166.7L29.6 168.7L29.6 170.7L29.6 172.7L29.6 174.7L29.6 176.7L29.6 178.7L29.6 180.7L29.6 182.7L29.6 184.7L29.6 186.7L29.6 188.7L29.6 190.7L29.6 192.7L29.6 194.7L29.6 196.7L29.6 198.7L29.6 200.7L29.6 202.8L32 202.8Z"/>
<path fill="#9cd797" d="M32 202.8L34.4 202.8L36.8 202.8L39.3 202.8L41.7 202.8L44.1 202.8L46.5 202.8L48.9 202.8L51.3 202.8L53.8 202.8L56.2 202.8L58.6 202.8L61 202.8L63.4 202.8L65.8 202.8L68.2 202.8L70.7 202.8L73.1 202.8L75.5 202.8L77.9 202.8L80.3 202.8L82.7 202.8L85.1 202.8L87.6 202.8L90 202.8L92.4 202.8L94.8 202.8L97.2 202.8L99.6 202.8L102.1 202.8L104.5 202.8L106.9 202.8L109.3 202.8L111.7 202.8L114.1 202.8L116.5 202.8L119 202.8L121.4 202.8L123.8 202.8L126.2 202.8L128.6 202.8L131 202.8L133.5 202.8L135.9 202.8L138.3 202.8L140.7 202.8L143.1 202.8L145.5 202.8L147.9 202.8L150.4 202.8L152.8 202.8L155.2 202.8L157.6 202.8L160 202.8L162.4 202.8L164.8 202.8L167.3 202.8L169.7 202.8L172.1 202.8L174.5 202.8L176.9 202.8L179.3 202.8L181.8 202.8L184.2 202.8L186.6 202.8L189 202.8L191.4 202.8L193.8 202.8L196.2 202.8L198.7 202.8L201.1 202.8L203.5 202.8L205.9 202.8L208.3 202.8L210.7 202.8L213.2 202.8L215.6 202.8L218 202.8L220.4 202.8L222.8 202.8L225.2 202.8L227.6 202.8L230.1 202.8L232.5 202.8L234.9 202.8L237.3 202.8L239.7 202.8L242.1 202.8L244.5 202.8L247 202.8L249.4 202.8L251.8 202.8L254.2 202.8L256.6 202.8L259 202.8L261.5 202.8L263.9 202.8L266.3 202.8L268.7 202.8L268.7 200.7L268.7 198.7L268.7 196.7L268.7 194.7L268.7 192.7L268.7 190.7L268.7 188.7L268.7 186.7L268.7 184.7L268.7 182.7L268.7 180.7L268.7 178.7L268.7 176.7L268.7 174.7L268.7 172.7L268.7 170.7L268.7 168.7L268.7 166.7L268.7 164.7L268.7 162.7L268.7 162L266.3 161.8L263.9 161.6L261.5 161.4L259 161.2L256.6 161L254.2 160.7L254 160.7L251.8 160.5L249.4 160.3L247 160.1L244.5 159.8L242.1 159.6L239.7 159.3L237.3 159.1L234.9 158.8L234.1 158.7L232.5 158.5L230.1 158.3L227.6 158L225.2 157.7L222.8 157.5L220.4 157.2L218 156.9L216.7 156.7L215.6 156.6L213.2 156.3L210.7 156L208.3 155.7L205.9 155.3L203.5 155L201.4 154.7L201.1 154.7L198.7 154.3L196.2 154L193.8 153.6L191.4 153.3L189 152.9L187.9 152.7L186.6 152.5L184.2 152.1L181.8 151.7L179.3 151.3L176.9 150.9L176 150.7L174.5 150.4L172.1 150L169.7 149.6L167.3 149.1L165.3 148.7L164.8 148.6L162.4 148.1L160 147.6L157.6 147.1L155.8 146.7L155.2 146.6L152.8 146L150.4 145.5L147.9 144.9L147.3 144.7L145.5 144.3L143.1 143.7L140.7 143L139.6 142.7L138.3 142.3L135.9 141.7L133.5 141L132.6 140.7L131 140.2L128.6 139.5L126.2 138.7L123.8 137.9L121.4 137L120.5 136.7L119 136.1L116.5 135.2L115.2 134.7L114.1 134.3L111.7 133.3L110.4 132.7L109.3 132.2L106.9 131.1L106 130.7L104.5 130L102.1 128.8L101.9 128.7L99.6 127.5L98.1 126.7L97.2 126.2L94.8 124.8L94.7 124.7L92.4 123.3L91.4 122.7L90 121.7L88.5 120.7L87.6 120L85.7 118.7L85.1 118.3L83.1 116.7L82.7 116.4L80.7 114.7L80.3 114.3L78.5 112.7L77.9 112.1L76.4 110.7L75.5 109.8L74.4 108.7L73.1 107.2L72.5 106.7L70.8 104.7L70.7 104.5L69.2 102.6L68.2 101.4L67.6 100.6L66.2 98.6L65.8 98.1L64.8 96.6L63.5 94.6L63.4 94.4L62.3 92.6L61.2 90.6L61 90.4L60.1 88.6L59 86.6L58.6 85.8L58 84.6L57.1 82.6L56.2 80.6L55.3 78.6L54.5 76.6L53.8 74.6L53 72.6L52.3 70.6L51.6 68.6L51.3 67.7L51 66.6L50.4 64.6L49.8 62.6L49.2 60.6L48.9 59.5L48.7 58.6L48.2 56.6L47.7 54.6L47.2 52.6L46.7 50.6L46.5 49.6L46.3 48.6L45.9 46.6L45.4 44.6L45 42.6L44.7 40.6L44.3 38.6L44.1 37.3L44 36.6L43.6 34.6L43.3 32.6L43 30.6L42.7 28.6L42.4 26.6L42.1 24.6L41.8 22.6L41.7 21.5L41.5 20.6L41.3 18.6L41 16.6L40.8 14.6L40.5 12.6L40.3 10.6L40.1 8.6L39.9 6.6L39.7 4.6L39.3 4.6L36.8 4.6L34.4 4.6L32 4.6L29.6 4.6L29.6 6.6L29.6 8.6L29.6 10.6L29.6 12.6L29.6 14.6L29.6 16.6L29.6 18.6L29.6 20.6L29.6 22.6L29.6 24.6L29.6 26.6L29.6 28.6L29.6 30.6L29.6 32.6L29.6 34.6L29.6 36.6L29.6 38.6L29.6 40.6L29.6 42.6L29.6 44.6L29.6 46.6L29.6 48.6L29.6 50.6L29.6 52.6L29.6 54.6L29.6 56.6L29.6 58.6L29.6 60.6L29.6 62.6L29.6 64.6L29.6 66.6L29.6 68.6L29.6 70.6L29.6 72.6L29.6 74.6L29.6 76.6L29.6 78.6L29.6 80.6L29.6 82.6L29.6 84.6L29.6 86.6L29.6 88.6L29.6 90.6L29.6 92.6L29.6 94.6L29.6 96.6L29.6 98.6L29.6 100.6L29.6 102.6L29.6 104.7L29.6 106.7L29.6 108.7L29.6 110.7L29.6 112.7L29.6 114.7L29.6 116.7L29.6 118.7L29.6 120.7L29.6 122.7L29.6 124.7L29.6 126.7L29.6 128.7L29.6 130.7L29.6 132.7L29.6 134.7L29.6 136.7L29.6 138.7L29.6 140.7L29.6 142.7L29.6 144.7L29.6 146.7L29.6 148.7L29.6 150.7L29.6 152.7L29.6 154.7L29.6 156.7L29.6 158.7L29.6 160.7L29.6 162.7L29.6 164.7L29.6 166.7L29.6 168.7L29.6 170.7L29.6 172.7L29.6 174.7L29.6 176.7L29.6 178.7L29.6 180.7L29.6 182.7L29.6 184.7L29.6 186.7L29.6 188.7L29.6 190.7L29.6 192.7L29.6 194.7L29.6 196.7L29.6 198.7L29.6 200.7L29.6 202.8L32 202.8Z"/>
<path fill="#a2d99c" d="M32 202.8L34.4 202.8L36.8 202.8L39.3 202.8L41.7 202.8L44.1 202.8L46.5 202.8L48.9 202.8L51.3 202.8L53.8 202.8L56.2 202.8L58.6 202.8L61 202.8L63.4 202.8L65.8 202.8L68.2 202.8L70.7 202.8L73.1 202.8L75.5 202.8L77.9 202.8L80.3 202.8L82.7 202.8L85.1 202.8L87.6 202.8L90 202.8L92.4 202.8L94.8 202.8L97.2 202.8L99.6 202.8L102.1 202.8L104.5 202.8L106.9 202.8L109.3 202.8L111.7 202.8L114.1 202.8L116.5 202.8L119 202.8L121.4 202.8L123.8 202.8L126.2 202.8L128.6 202.8L131 202.8L133.5 202.8L135.9 202.8L138.3 202.8L140.7 202.8L143.1 202.8L145.5 202.8L147.9 202.8L150.4 202.8L152.8 202.8L155.2 202.8L157.6 202.8L160 202.8L162.4 202.8L164.8 202.8L167.3 202.8L169.7 202.8L172.1 202.8L174.5 202.8L176.9 202.8L179.3 202.8L181.8 202.8L184.2 202.8L186.6 202.8L189 202.8L191.4 202.8L193.8 202.8L196.2 202.8L198.7 202.8L201.1 202.8L203.5 202.8L205.9 202.8L208.3 202.8L210.7 202.8L213.2 202.8L215.6 202.8L218 202.8L220.4 202.8L222.8 202.8L225.2 202.8L227.6 202.8L230.1 202.8L232.5 202.8L234.9 202.8L237.3 202.8L239.7 202.8L242.1 202.8L244.5 202.8L247 202.8L249.4 202.8L251.8 202.8L254.2 202.8L256.6 202.8L259 202.8L261.5 202.8L263.9 202.8L266.3 202.8L268.7 202.8L268.7 200.7L268.7 198.7L268.7 196.7L268.7 194.7L268.7 192.7L268.7 190.7L268.7 188.7L268.7 186.7L268.7 184.7L268.7 182.7L268.7 180.7L268.7 178.7L268.7 176.7L268.7 174.7L268.7 172.7L268.7 170.7L268.7 168.7L268.7 166.7L268.7 164.7L268.7 162.9L266.3 162.7L266 162.7L263.9 162.5L261.5 162.3L259 162.1L256.6 161.9L254.2 161.7L251.8 161.5L249.4 161.2L247 161L244.5 160.8L244 160.7L242.1 160.5L239.7 160.3L237.3 160.1L234.9 159.8L232.5 159.5L230.1 159.3L227.6 159L225.2 158.7L225 158.7L222.8 158.5L220.4 158.2L218 157.9L215.6 157.6L213.2 157.3L210.7 157L208.3 156.7L205.9 156.4L203.5 156.1L201.1 155.8L198.7 155.4L196.2 155.1L193.8 154.7L191.4 154.4L189 154L186.6 153.6L184.2 153.2L181.8 152.8L180.9 152.7L179.3 152.4L176.9 152L174.5 151.6L172.1 151.2L169.7 150.7L169.5 150.7L167.3 150.3L164.8 149.8L162.4 149.3L160 148.8L159.3 148.7L157.6 148.3L155.2 147.8L152.8 147.3L150.4 146.7L150.2 146.7L147.9 146.2L145.5 145.6L143.1 145L142 144.7L140.7 144.4L138.3 143.7L135.9 143L134.7 142.7L133.5 142.3L131 141.6L128.6 140.9L128 140.7L126.2 140.1L123.8 139.3L121.9 138.7L121.4 138.5L119 137.6L116.5 136.7L116.4 136.7L114.1 135.8L111.7 134.8L111.4 134.7L109.3 133.8L106.9 132.7L106.8 132.7L104.5 131.6L102.6 130.7L102.1 130.4L99.6 129.2L98.7 128.7L97.2 127.9L95.1 126.7L94.8 126.5L92.4 125.1L91.8 124.7L90 123.5L88.7 122.7L87.6 121.9L85.8 120.7L85.1 120.2L83.2 118.7L82.7 118.3L80.7 116.7L80.3 116.3L78.4 114.7L77.9 114.2L76.3 112.7L75.5 111.9L74.3 110.7L73.1 109.4L72.4 108.7L70.7 106.7L70.6 106.7L69 104.7L68.2 103.7L67.4 102.6L66 100.6L65.8 100.5L64.6 98.6L63.4 96.9L63.3 96.6L62 94.6L61 92.9L60.9 92.6L59.7 90.6L58.7 88.6L58.6 88.4L57.7 86.6L56.8 84.6L56.2 83.3L55.9 82.6L55 80.6L54.2 78.6L53.8 77.5L53.4 76.6L52.7 74.6L52 72.6L51.3 70.7L51.3 70.6L50.7 68.6L50 66.6L49.5 64.6L48.9 62.7L48.9 62.6L48.3 60.6L47.8 58.6L47.3 56.6L46.9 54.6L46.5 53L46.4 52.6L46 50.6L45.5 48.6L45.1 46.6L44.7 44.6L44.4 42.6L44.1 41L44 40.6L43.7 38.6L43.3 36.6L43 34.6L42.7 32.6L42.4 30.6L42.1 28.6L41.8 26.6L41.7 25.6L41.5 24.6L41.3 22.6L41 20.6L40.8 18.6L40.5 16.6L40.3 14.6L40.1 12.6L39.8 10.6L39.6 8.6L39.4 6.6L39.3 4.7L39.2 4.6L36.8 4.6L34.4 4.6L32 4.6L29.6 4.6L29.6 6.6L29.6 8.6L29.6 10.6L29.6 12.6L29.6 14.6L29.6 16.6L29.6 18.6L29.6 20.6L29.6 22.6L29.6 24.6L29.6 26.6L29.6 28.6L29.6 30.6L29.6 32.6L29.6 34.6L29.6 36.6L29.6 38.6L29.6 40.6L29.6 42.6L29.6 44.6L29.6 46.6L29.6 48.6L29.6 50.6L29.6 52.6L29.6 54.6L29.6 56.6L29.6 58.6L29.6 60.6L29.6 62.6L29.6 64.6L29.6 66.6L29.6 68.6L29.6 70.6L29.6 72.6L29.6 74.6L29.6 76.6L29.6 78.6L29.6 80.6L29.6 82.6L29.6 84.6L29.6 86.6L29.6 88.6L29.6 90.6L29.6 92.6L29.6 94.6L29.6 96.6L29.6 98.6L29.6 100.6L29.6 102.6L29.6 104.7L29.6 106.7L29.6 108.7L29.6 110.7L29.6 112.7L29.6 114.7L29.6 116.7L29.6 118.7L29.6 120.7L29.6 122.7L29.6 124.7L29.6 126.7L29.6 128.7L29.6 130.7L29.6 132.7L29.6 134.7L29.6 136.7L29.6 138.7L29.6 140.7L29.6 142.7L29.6 144.7L29.6 146.7L29.6 148.7L29.6 150.7L29.6 152.7L29.6 154.7L29.6 156.7L29.6 158.7L29.6 160.7L29.6 162.7L29.6 164.7L29.6 166.7L29.6 168.7L29.6 170.7L29.6 172.7L29.6 174.7L29.6 176.7L29.6 178.7L29.6 180.7L29.6 182.7L29.6 184.7L29.6 186.7L29.6 188.7L29.6 190.7L29.6 192.7L29.6 194.7L29.6 196.7L29.6 198.7L29.6 200.7L29.6 202.8L32 202.8Z"/>
<path fill="#a8dca2" d="M32 202.8L34.4 202.8L36.8 202.8L39.3 202.8L41.7 202.8L44.1 202.8L46.5 202.8L48.9 202.8L51.3 202.8L53.8 202.8L56.2 202.8L58.6 202.8L61 202.8L63.4 202.8L65.8 202.8L68.2 202.8L70.7 202.8L73.1 202.8L75.5 202.8L77.9 202.8L80.3 202.8L82.7 202.8L85.1 202.8L87.6 202.8L90 202.8L92.4 202.8L94.8 202.8L97.2 202.8L99.6 202.8L102.1 202.8L104.5 202.8L106.9 202.8L109.3 202.8L111.7 202.8L114.1 202.8L116.5 202.8L119 202.8L121.4 202.8L123.8 202.8L126.2 202.8L128.6 202.8L131 202.8L133.5 202.8L135.9 202.8L138.3 202.8L140.7 202.8L143.1 202.8L145.5 202.8L147.9 202.8L150.4 202.8L152.8 202.8L155.2 202.8L157.6 202.8L160 202.8L162.4 202.8L164.8 202.8L167.3 202.8L169.7 202.8L172.1 202.8L174.5 202.8L176.9 202.8L179.3 202.8L181.8 202.8L184.2 202.8L186.6 202.8L189 202.8L191.4 202.8L193.8 202.8L196.2 202.8L198.7 202.8L201.1 202.8L203.5 202.8L205.9 202.8L208.3 202.8L210.7 202.8L213.2 202.8L215.6 202.8L218 202.8L220.4 202.8L222.8 202.8L225.2 202.8L227.6 202.8L230.1 202.8L232.5 202.8L234.9 202.8L237.3 202.8L239.7 202.8L242.1 202.8L244.5 202.8L247 202.8L249.4 202.8L251.8 202.8L254.2 202.8L256.6 202.8L259 202.8L261.5 202.8L263.9 202.8L266.3 202.8L268.7 202.8L268.7 200.7L268.7 198.7L268.7 196.7L268.7 194.7L268.7 192.7L268.7 190.7L268.7 188.7L268.7 186.7L268.7 184.7L268.7 182.7L268.7 180.7L268.7 178.7L268.7 176.7L268.7 174.7L268.7 172.7L268.7 170.7L268.7 168.7L268.7 166.7L268.7 164.7L268.7 163.9L266.3 163.7L263.9 163.5L261.5 163.3L259 163.1L256.6 162.9L254.8 162.7L254.2 162.7L251.8 162.4L249.4 162.2L247 162L244.5 161.8L242.1 161.6L239.7 161.3L237.3 161.1L234.9 160.8L233.9 160.7L232.5 160.6L230.1 160.3L227.6 160.1L225.2 159.8L222.8 159.5L220.4 159.3L218 159L215.7 158.7L215.6 158.7L213.2 158.4L210.7 158.1L208.3 157.8L205.9 157.5L203.5 157.2L201.1 156.9L199.9 156.7L198.7 156.5L196.2 156.2L193.8 155.9L191.4 155.5L189 155.2L186.6 154.8L186 154.7L184.2 154.4L181.8 154.1L179.3 153.7L176.9 153.3L174.5 152.8L173.7 152.7L172.1 152.4L169.7 152L167.3 151.6L164.8 151.1L162.9 150.7L162.4 150.6L160 150.1L157.6 149.7L155.2 149.1L153.2 148.7L152.8 148.6L150.4 148.1L147.9 147.5L145.5 146.9L144.5 146.7L143.1 146.4L140.7 145.8L138.3 145.1L136.7 144.7L135.9 144.5L133.5 143.8L131 143.1L129.7 142.7L128.6 142.4L126.2 141.6L123.8 140.8L123.3 140.7L121.4 140L119 139.2L117.6 138.7L116.5 138.3L114.1 137.4L112.3 136.7L111.7 136.4L109.3 135.5L107.5 134.7L106.9 134.4L104.5 133.3L103.1 132.7L102.1 132.2L99.6 131L99.1 130.7L97.2 129.7L95.4 128.7L94.8 128.3L92.4 126.9L92 126.7L90 125.4L88.8 124.7L87.6 123.8L85.9 122.7L85.1 122.1L83.2 120.7L82.7 120.3L80.7 118.7L80.3 118.4L78.3 116.7L77.9 116.3L76.1 114.7L75.5 114.1L74.1 112.7L73.1 111.6L72.2 110.7L70.7 109L70.4 108.7L68.7 106.7L68.2 106.1L67.1 104.7L65.8 102.9L65.6 102.6L64.2 100.6L63.4 99.4L62.9 98.6L61.7 96.6L61 95.5L60.5 94.6L59.4 92.6L58.6 91.1L58.3 90.6L57.3 88.6L56.4 86.6L56.2 86.2L55.5 84.6L54.6 82.6L53.8 80.6L53.8 80.5L53 78.6L52.3 76.6L51.6 74.6L51.3 73.9L50.9 72.6L50.3 70.6L49.7 68.6L49.1 66.6L48.9 66.1L48.5 64.6L48 62.6L47.5 60.6L47 58.6L46.5 56.6L46 54.6L45.6 52.6L45.2 50.6L44.8 48.6L44.4 46.6L44.1 44.9L44 44.6L43.7 42.6L43.3 40.6L43 38.6L42.7 36.6L42.4 34.6L42.1 32.6L41.8 30.6L41.7 29.8L41.5 28.6L41.2 26.6L41 24.6L40.7 22.6L40.5 20.6L40.2 18.6L40 16.6L39.8 14.6L39.6 12.6L39.4 10.6L39.3 9.4L39.2 8.6L39 6.6L38.8 4.6L36.8 4.6L34.4 4.6L32 4.6L29.6 4.6L29.6 6.6L29.6 8.6L29.6 10.6L29.6 12.6L29.6 14.6L29.6 16.6L29.6 18.6L29.6 20.6L29.6 22.6L29.6 24.6L29.6 26.6L29.6 28.6L29.6 30.6L29.6 32.6L29.6 34.6L29.6 36.6L29.6 38.6L29.6 40.6L29.6 42.6L29.6 44.6L29.6 46.6L29.6 48.6L29.6 50.6L29.6 52.6L29.6 54.6L29.6 56.6L29.6 58.6L29.6 60.6L29.6 62.6L29.6 64.6L29.6 66.6L29.6 68.6L29.6 70.6L29.6 72.6L29.6 74.6L29.6 76.6L29.6 78.6L29.6 80.6L29.6 82.6L29.6 84.6L29.6 86.6L29.6 88.6L29.6 90.6L29.6 92.6L29.6 94.6L29.6 96.6L29.6 98.6L29.6 100.6L29.6 102.6L29.6 104.7L29.6 106.7L29.6 108.7L29.6 110.7L29.6 112.7L29.6 114.7L29.6 116.7L29.6 118.7L29.6 120.7L29.6 122.7L29.6 124.7L29.6 126.7L29.6 128.7L29.6 130.7L29.6 132.7L29.6 134.7L29.6 136.7L29.6 138.7L29.6 140.7L29.6 142.7L29.6 144.7L29.6 146.7L29.6 148.7L29.6 150.7L29.6 152.7L29.6 154.7L29.6 156.7L29.6 158.7L29.6 160.7L29.6 162.7L29.6 164.7L29.6 166.7L29.6 168.7L29.6 170.7L29.6 172.7L29.6 174.7L29.6 176.7L29.6 178.7L29.6 180.7L29.6 182.7L29.6 184.7L29.6 186.7L29.6 188.7L29.6 190.7L29.6 192.7L29.6 194.7L29.6 196.7L29.6 198.7L29.6 200.7L29.6 202.8L32 202.8Z"/>
<path fill="#acdea6" d="M32 202.8L34.4 202.8L36.8 202.8L39.3 202.8L41.7 202.8L44.1 202.8L46.5 202.8L48.9 202.8L51.3 202.8L53.8 202.8L56.2 202.8L58.6 202.8L61 202.8L63.4 202.8L65.8 202.8L68.2 202.8L70.7 202.8L73.1 202.8L75.5 202.8L77.9 202.8L80.3 202.8L82.7 202.8L85.1 202.8L87.6 202.8L90 202.8L92.4 202.8L94.8 202.8L97.2 202.8L99.6 202.8L102.1 202.8L104.5 202.8L106.9 202.8L109.3 202.8L111.7 202.8L114.1 202.8L116.5 202.8L119 202.8L121.4 202.8L123.8 202.8L126.2 202.8L128.6 202.8L131 202.8L133.5 202.8L135.9 202.8L138.3 202.8L140.7 202.8L143.1 202.8L145.5 202.8L147.9 202.8L150.4 202.8L152.8 202.8L155.2 202.8L157.6 202.8L160 202.8L162.4 202.8L164.8 202.8L167.3 202.8L169.7 202.8L172.1 202.8L174.5 202.8L176.9 202.8L179.3 202.8L181.8 202.8L184.2 202.8L186.6 202.8L189 202.8L191.4 202.8L193.8 202.8L196.2 202.8L198.7 202.8L201.1 202.8L203.5 202.8L205.9 202.8L208.3 202.8L210.7 202.8L213.2 202.8L215.6 202.8L218 202.8L220.4 202.8L222.8 202.8L225.2 202.8L227.6 202.8L230.1 202.8L232.5 202.8L234.9 202.8L237.3 202.8L239.7 202.8L242.1 202.8L244.5 202.8L247 202.8L249.4 202.8L251.8 202.8L254.2 202.8L256.6 202.8L259 202.8L261.5 202.8L263.9 202.8L266.3 202.8L268.7 202.8L268.7 200.7L268.7 198.7L268.7 196.7L268.7 194.7L268.7 192.7L268.7 190.7L268.7 188.7L268.7 186.7L268.7 184.7L268.7 182.7L268.7 180.7L268.7 178.7L268.7 176.7L268.7 174.7L268.7 172.7L268.7 170.7L268.7 168.7L268.7 166.7L268.7 164.9L266.5 164.7L266.3 164.7L263.9 164.5L261.5 164.3L259 164.1L256.6 163.9L254.2 163.7L251.8 163.5L249.4 163.3L247 163L244.5 162.8L243.4 162.7L242.1 162.6L239.7 162.4L237.3 162.1L234.9 161.9L232.5 161.7L230.1 161.4L227.6 161.2L225.2 160.9L223.6 160.7L222.8 160.6L220.4 160.4L218 160.1L215.6 159.8L213.2 159.6L210.7 159.3L208.3 159L206.3 158.7L205.9 158.7L203.5 158.4L201.1 158.1L198.7 157.7L196.2 157.4L193.8 157.1L191.4 156.7L191.3 156.7L189 156.4L186.6 156L184.2 155.7L181.8 155.3L179.3 154.9L178.1 154.7L176.9 154.5L174.5 154.1L172.1 153.7L169.7 153.3L167.3 152.9L166.5 152.7L164.8 152.4L162.4 152L160 151.5L157.6 151L156.1 150.7L155.2 150.5L152.8 150L150.4 149.5L147.9 148.9L146.9 148.7L145.5 148.4L143.1 147.8L140.7 147.2L138.7 146.7L138.3 146.6L135.9 146L133.5 145.3L131.3 144.7L131 144.6L128.6 143.9L126.2 143.2L124.6 142.7L123.8 142.4L121.4 141.6L119 140.8L118.6 140.7L116.5 140L114.1 139.1L113.1 138.7L111.7 138.1L109.3 137.2L108.1 136.7L106.9 136.2L104.5 135.1L103.6 134.7L102.1 134L99.6 132.8L99.4 132.7L97.2 131.6L95.6 130.7L94.8 130.3L92.4 128.9L92.1 128.7L90 127.4L88.8 126.7L87.6 125.9L85.8 124.7L85.1 124.2L83.1 122.7L82.7 122.4L80.5 120.7L80.3 120.5L78.1 118.7L77.9 118.5L75.9 116.7L75.5 116.3L73.8 114.7L73.1 114L71.8 112.7L70.7 111.4L70 110.7L68.3 108.7L68.2 108.6L66.7 106.7L65.8 105.5L65.2 104.7L63.8 102.6L63.4 102.1L62.5 100.6L61.2 98.6L61 98.3L60 96.6L58.9 94.6L58.6 94L57.9 92.6L56.9 90.6L56.2 89.2L55.9 88.6L55 86.6L54.2 84.6L53.8 83.6L53.4 82.6L52.6 80.6L51.8 78.6L51.3 77.2L51.1 76.6L50.5 74.6L49.8 72.6L49.2 70.6L48.9 69.6L48.6 68.6L48.1 66.6L47.6 64.6L47 62.6L46.6 60.6L46.5 60.4L46.1 58.6L45.6 56.6L45.2 54.6L44.8 52.6L44.4 50.6L44.1 48.9L44 48.6L43.6 46.6L43.3 44.6L42.9 42.6L42.6 40.6L42.3 38.6L42 36.6L41.7 34.6L41.7 34.3L41.4 32.6L41.2 30.6L40.9 28.6L40.6 26.6L40.4 24.6L40.1 22.6L39.9 20.6L39.7 18.6L39.5 16.6L39.3 14.6L39.3 14.4L39.1 12.6L38.9 10.6L38.7 8.6L38.5 6.6L38.3 4.6L36.8 4.6L34.4 4.6L32 4.6L29.6 4.6L29.6 6.6L29.6 8.6L29.6 10.6L29.6 12.6L29.6 14.6L29.6 16.6L29.6 18.6L29.6 20.6L29.6 22.6L29.6 24.6L29.6 26.6L29.6 28.6L29.6 30.6L29.6 32.6L29.6 34.6L29.6 36.6L29.6 38.6L29.6 40.6L29.6 42.6L29.6 44.6L29.6 46.6L29.6 48.6L29.6 50.6L29.6 52.6L29.6 54.6L29.6 56.6L29.6 58.6L29.6 60.6L29.6 62.6L29.6 64.6L29.6 66.6L29.6 68.6L29.6 70.6L29.6 72.6L29.6 74.6L29.6 76.6L29.6 78.6L29.6 80.6L29.6 82.6L29.6 84.6L29.6 86.6L29.6 88.6L29.6 90.6L29.6 92.6L29.6 94.6L29.6 96.6L29.6 98.6L29.6 100.6L29.6 102.6L29.6 104.7L29.6 106.7L29.6 108.7L29.6 110.7L29.6 112.7L29.6 114.7L29.6 116.7L29.6 118.7L29.6 120.7L29.6 122.7L29.6 124.7L29.6 126.7L29.6 128.7L29.6 130.7L29.6 132.7L29.6 134.7L29.6 136.7L29.6 138.7L29.6 140.7L29.6 142.7L29.6 144.7L29.6 146.7L29.6 148.7L29.6 150.7L29.6 152.7L29.6 154.7L29.6 156.7L29.6 158.7L29.6 160.7L29.6 162.7L29.6 164.7L29.6 166.7L29.6 168.7L29.6 170.7L29.6 172.7L29.6 174.7L29.6 176.7L29.6 178.7L29.6 180.7L29.6 182.7L29.6 184.7L29.6 186.7L29.6 188.7L29.6 190.7L29.6 192.7L29.6 194.7L29.6 196.7L29.6 198.7L29.6 200.7L29.6 202.8L32 202.8Z"/>
<path fill="#b2e0ac" d="M32 202.8L34.4 202.8L36.8 202.8L39.3 202.8L41.7 202.8L44.1 202.8L46.5 202.8L48.9 202.8L51.3 202.8L53.8 202.8L56.2 202.8L58.6 202.8L61 202.8L63.4 202.8L65.8 202.8L68.2 202.8L70.7 202.8L73.1 202.8L75.5 202.8L77.9 202.8L80.3 202.8L82.7 202.8L85.1 202.8L87.6 202.8L90 202.8L92.4 202.8L94.8 202.8L97.2 202.8L99.6 202.8L102.1 202.8L104.5 202.8L106.9 202.8L109.3 202.8L111.7 202.8L114.1 202.8L116.5 202.8L119 202.8L121.4 202.8L123.8 202.8L126.2 202.8L128.6 202.8L131 202.8L133.5 202.8L135.9 202.8L138.3 202.8L140.7 202.8L143.1 202.8L145.5 202.8L147.9 202.8L150.4 202.8L152.8 202.8L155.2 202.8L157.6 202.8L160 202.8L162.4 202.8L164.8 202.8L167.3 202.8L169.7 202.8L172.1 202.8L174.5 202.8L176.9 202.8L179.3 202.8L181.8 202.8L184.2 202.8L186.6 202.8L189 202.8L191.4 202.8L193.8 202.8L196.2 202.8L198.7 202.8L201.1 202.8L203.5 202.8L205.9 202.8L208.3 202.8L210.7 202.8L213.2 202.8L215.6 202.8L218 202.8L220.4 202.8L222.8 202.8L225.2 202.8L227.6 202.8L230.1 202.8L232.5 202.8L234.9 202.8L237.3 202.8L239.7 202.8L242.1 202.8L244.5 202.8L247 202.8L249.4 202.8L251.8 202.8L254.2 202.8L256.6 202.8L259 202.8L261.5 202.8L263.9 202.8L266.3 202.8L268.7 202.8L268.7 200.7L268.7 198.7L268.7 196.7L268.7 194.7L268.7 192.7L268.7 190.7L268.7 188.7L268.7 186.7L268.7 184.7L268.7 182.7L268.7 180.7L268.7 178.7L268.7 176.7L268.7 174.7L268.7 172.7L268.7 170.7L268.7 168.7L268.7 166.7L268.7 165.9L266.3 165.8L263.9 165.6L261.5 165.4L259 165.2L256.6 165L254.2 164.8L253.7 164.7L251.8 164.6L249.4 164.4L247 164.1L244.5 163.9L242.1 163.7L239.7 163.5L237.3 163.3L234.9 163L232.5 162.8L231.9 162.7L230.1 162.5L227.6 162.3L225.2 162.1L222.8 161.8L220.4 161.5L218 161.3L215.6 161L213.2 160.7L213.1 160.7L210.7 160.4L208.3 160.2L205.9 159.9L203.5 159.6L201.1 159.3L198.7 159L196.8 158.7L196.2 158.6L193.8 158.3L191.4 158L189 157.7L186.6 157.3L184.2 157L182.5 156.7L181.8 156.6L179.3 156.2L176.9 155.9L174.5 155.5L172.1 155.1L170.1 154.7L169.7 154.6L167.3 154.2L164.8 153.8L162.4 153.4L160 152.9L159 152.7L157.6 152.4L155.2 152L152.8 151.5L150.4 150.9L149.3 150.7L147.9 150.4L145.5 149.9L143.1 149.3L140.7 148.7L140.6 148.7L138.3 148.1L135.9 147.5L133.5 146.9L132.8 146.7L131 146.2L128.6 145.5L126.2 144.8L125.8 144.7L123.8 144.1L121.4 143.3L119.5 142.7L119 142.5L116.5 141.7L114.1 140.8L113.8 140.7L111.7 139.9L109.3 139L108.6 138.7L106.9 138L104.5 136.9L103.9 136.7L102.1 135.9L99.6 134.7L97.2 133.5L95.6 132.7L94.8 132.2L92.4 130.9L92 130.7L90 129.5L88.7 128.7L87.6 128L85.6 126.7L85.1 126.4L82.8 124.7L82.7 124.6L80.3 122.8L80.2 122.7L77.9 120.8L77.7 120.7L75.5 118.7L73.4 116.7L73.1 116.4L71.4 114.7L70.7 113.9L69.5 112.7L68.2 111.2L67.8 110.7L66.2 108.7L65.8 108.1L64.7 106.7L63.4 104.8L63.3 104.7L62 102.6L61 101.1L60.7 100.6L59.5 98.6L58.6 97L58.4 96.6L57.3 94.6L56.3 92.6L56.2 92.3L55.4 90.6L54.5 88.6L53.8 86.9L53.6 86.6L52.8 84.6L52.1 82.6L51.3 80.6L50.6 78.6L50 76.6L49.3 74.6L48.9 73.2L48.7 72.6L48.2 70.6L47.6 68.6L47.1 66.6L46.6 64.6L46.5 64.3L46.1 62.6L45.6 60.6L45.2 58.6L44.8 56.6L44.4 54.6L44.1 53.2L44 52.6L43.6 50.6L43.2 48.6L42.9 46.6L42.5 44.6L42.2 42.6L41.9 40.6L41.7 38.9L41.6 38.6L41.3 36.6L41 34.6L40.8 32.6L40.5 30.6L40.3 28.6L40 26.6L39.8 24.6L39.6 22.6L39.4 20.6L39.3 19.5L39.2 18.6L38.9 16.6L38.7 14.6L38.5 12.6L38.4 10.6L38.2 8.6L38 6.6L37.8 4.6L36.8 4.6L34.4 4.6L32 4.6L29.6 4.6L29.6 6.6L29.6 8.6L29.6 10.6L29.6 12.6L29.6 14.6L29.6 16.6L29.6 18.6L29.6 20.6L29.6 22.6L29.6 24.6L29.6 26.6L29.6 28.6L29.6 30.6L29.6 32.6L29.6 34.6L29.6 36.6L29.6 38.6L29.6 40.6L29.6 42.6L29.6 44.6L29.6 46.6L29.6 48.6L29.6 50.6L29.6 52.6L29.6 54.6L29.6 56.6L29.6 58.6L29.6 60.6L29.6 62.6L29.6 64.6L29.6 66.6L29.6 68.6L29.6 70.6L29.6 72.6L29.6 74.6L29.6 76.6L29.6 78.6L29.6 80.6L29.6 82.6L29.6 84.6L29.6 86.6L29.6 88.6L29.6 90.6L29.6 92.6L29.6 94.6L29.6 96.6L29.6 98.6L29.6 100.6L29.6 102.6L29.6 104.7L29.6 106.7L29.6 108.7L29.6 110.7L29.6 112.7L29.6 114.7L29.6 116.7L29.6 118.7L29.6 120.7L29.6 122.7L29.6 124.7L29.6 126.7L29.6 128.7L29.6 130.7L29.6 132.7L29.6 134.7L29.6 136.7L29.6 138.7L29.6 140.7L29.6 142.7L29.6 144.7L29.6 146.7L29.6 148.7L29.6 150.7L29.6 152.7L29.6 154.7L29.6 156.7L29.6 158.7L29.6 160.7L29.6 162.7L29.6 164.7L29.6 166.7L29.6 168.7L29.6 170.7L29.6 172.7L29.6 174.7L29.6 176.7L29.6 178.7L29.6 180.7L29.6 182.7L29.6 184.7L29.6 186.7L29.6 188.7L29.6 190.7L29.6 192.7L29.6 194.7L29.6 196.7L29.6 198.7L29.6 200.7L29.6 202.8L32 202.8Z"/>
<path fill="#b8e3b2" d="M32 202.8L34.4 202.8L36.8 202.8L39.3 202.8L41.7 202.8L44.1 202.8L46.5 202.8L48.9 202.8L51.3 202.8L53.8 202.8L56.2 202.8L58.6 202.8L61 202.8L63.4 202.8L65.8 202.8L68.2 202.8L70.7 202.8L73.1 202.8L75.5 202.8L77.9 202.8L80.3 202.8L82.7 202.8L85.1 202.8L87.6 202.8L90 202.8L92.4 202.8L94.8 202.8L97.2 202.8L99.6 202.8L102.1 202.8L104.5 202.8L106.9 202.8L109.3 202.8L111.7 202.8L114.1 202.8L116.5 202.8L119 202.8L121.4 202.8L123.8 202.8L126.2 202.8L128.6 202.8L131 202.8L133.5 202.8L135.9 202.8L138.3 202.8L140.7 202.8L143.1 202.8L145.5 202.8L147.9 202.8L150.4 202.8L152.8 202.8L155.2 202.8L157.6 202.8L160 202.8L162.4 202.8L164.8 202.8L167.3 202.8L169.7 202.8L172.1 202.8L174.5 202.8L176.9 202.8L179.3 202.8L181.8 202.8L184.2 202.8L186.6 202.8L189 202.8L191.4 202.8L193.8 202.8L196.2 202.8L198.7 202.8L201.1 202.8L203.5 202.8L205.9 202.8L208.3 202.8L210.7 202.8L213.2 202.8L215.6 202.8L218 202.8L220.4 202.8L222.8 202.8L225.2 202.8L227.6 202.8L230.1 202.8L232.5 202.8L234.9 202.8L237.3 202.8L239.7 202.8L242.1 202.8L244.5 202.8L247 202.8L249.4 202.8L251.8 202.8L254.2 202.8L256.6 202.8L259 202.8L261.5 202.8L263.9 202.8L266.3 202.8L268.7 202.8L268.7 200.7L268.7 198.7L268.7 196.7L268.7 194.7L268.7 192.7L268.7 190.7L268.7 188.7L268.7 186.7L268.7 184.7L268.7 182.7L268.7 180.7L268.7 178.7L268.7 176.7L268.7 174.7L268.7 172.7L268.7 170.7L268.7 168.7L268.7 167L266.3 166.8L264.7 166.7L263.9 166.6L261.5 166.5L259 166.3L256.6 166.1L254.2 165.9L251.8 165.7L249.4 165.5L247 165.3L244.5 165.1L242.1 164.9L240.6 164.7L239.7 164.6L237.3 164.4L234.9 164.2L232.5 164L230.1 163.7L227.6 163.5L225.2 163.3L222.8 163L220.4 162.7L220.1 162.7L218 162.5L215.6 162.2L213.2 162L210.7 161.7L208.3 161.4L205.9 161.1L203.5 160.9L202.4 160.7L201.1 160.6L198.7 160.3L196.2 160L193.8 159.6L191.4 159.3L189 159L187 158.7L186.6 158.6L184.2 158.3L181.8 158L179.3 157.6L176.9 157.2L174.5 156.9L173.6 156.7L172.1 156.5L169.7 156.1L167.3 155.7L164.8 155.2L162.4 154.8L161.9 154.7L160 154.4L157.6 153.9L155.2 153.5L152.8 153L151.5 152.7L150.4 152.5L147.9 152L145.5 151.4L143.1 150.9L142.3 150.7L140.7 150.3L138.3 149.8L135.9 149.2L134.1 148.7L133.5 148.5L131 147.9L128.6 147.2L126.8 146.7L126.2 146.5L123.8 145.8L121.4 145.1L120.2 144.7L119 144.3L116.5 143.5L114.2 142.7L114.1 142.6L111.7 141.8L109.3 140.9L108.9 140.7L106.9 139.9L104.5 138.9L104 138.7L102.1 137.8L99.6 136.7L97.2 135.6L95.5 134.7L94.8 134.3L92.4 133L91.8 132.7L90 131.6L88.4 130.7L87.6 130.2L85.2 128.7L85.1 128.6L82.7 126.9L82.4 126.7L80.3 125.2L79.7 124.7L77.9 123.3L77.2 122.7L75.5 121.2L74.9 120.7L73.1 118.9L72.8 118.7L70.8 116.7L70.7 116.5L68.9 114.7L68.2 113.9L67.2 112.7L65.8 110.9L65.6 110.7L64.1 108.7L63.4 107.7L62.7 106.7L61.3 104.7L61 104.1L60.1 102.6L58.9 100.6L58.6 100.1L57.8 98.6L56.7 96.6L56.2 95.5L55.7 94.6L54.8 92.6L53.9 90.6L53.8 90.3L53 88.6L52.2 86.6L51.5 84.6L51.3 84.2L50.8 82.6L50.1 80.6L49.4 78.6L48.9 77L48.8 76.6L48.2 74.6L47.6 72.6L47.1 70.6L46.6 68.6L46.5 68.4L46.1 66.6L45.6 64.6L45.1 62.6L44.7 60.6L44.3 58.6L44.1 57.6L43.9 56.6L43.5 54.6L43.1 52.6L42.8 50.6L42.4 48.6L42.1 46.6L41.8 44.6L41.7 43.7L41.5 42.6L41.2 40.6L40.9 38.6L40.6 36.6L40.4 34.6L40.1 32.6L39.9 30.6L39.7 28.6L39.4 26.6L39.3 25L39.2 24.6L39 22.6L38.8 20.6L38.6 18.6L38.4 16.6L38.2 14.6L38 12.6L37.8 10.6L37.7 8.6L37.5 6.6L37.4 4.6L36.8 4.6L34.4 4.6L32 4.6L29.6 4.6L29.6 6.6L29.6 8.6L29.6 10.6L29.6 12.6L29.6 14.6L29.6 16.6L29.6 18.6L29.6 20.6L29.6 22.6L29.6 24.6L29.6 26.6L29.6 28.6L29.6 30.6L29.6 32.6L29.6 34.6L29.6 36.6L29.6 38.6L29.6 40.6L29.6 42.6L29.6 44.6L29.6 46.6L29.6 48.6L29.6 50.6L29.6 52.6L29.6 54.6L29.6 56.6L29.6 58.6L29.6 60.6L29.6 62.6L29.6 64.6L29.6 66.6L29.6 68.6L29.6 70.6L29.6 72.6L29.6 74.6L29.6 76.6L29.6 78.6L29.6 80.6L29.6 82.6L29.6 84.6L29.6 86.6L29.6 88.6L29.6 90.6L29.6 92.6L29.6 94.6L29.6 96.6L29.6 98.6L29.6 100.6L29.6 102.6L29.6 104.7L29.6 106.7L29.6 108.7L29.6 110.7L29.6 112.7L29.6 114.7L29.6 116.7L29.6 118.7L29.6 120.7L29.6 122.7L29.6 124.7L29.6 126.7L29.6 128.7L29.6 130.7L29.6 132.7L29.6 134.7L29.6 136.7L29.6 138.7L29.6 140.7L29.6 142.7L29.6 144.7L29.6 146.7L29.6 148.7L29.6 150.7L29.6 152.7L29.6 154.7L29.6 156.7L29.6 158.7L29.6 160.7L29.6 162.7L29.6 164.7L29.6 166.7L29.6 168.7L29.6 170.7L29.6 172.7L29.6 174.7L29.6 176.7L29.6 178.7L29.6 180.7L29.6 182.7L29.6 184.7L29.6 186.7L29.6 188.7L29.6 190.7L29.6 192.7L29.6 194.7L29.6 196.7L29.6 198.7L29.6 200.7L29.6 202.8L32 202.8Z"/>
<path fill="#bde5b6" d="M32 202.8L34.4 202.8L36.8 202.8L39.3 202.8L41.7 202.8L44.1 202.8L46.5 202.8L48.9 202.8L51.3 202.8L53.8 202.8L56.2 202.8L58.6 202.8L61 202.8L63.4 202.8L65.8 202.8L68.2 202.8L70.7 202.8L73.1 202.8L75.5 202.8L77.9 202.8L80.3 202.8L82.7 202.8L85.1 202.8L87.6 202.8L90 202.8L92.4 202.8L94.8 202.8L97.2 202.8L99.6 202.8L102.1 202.8L104.5 202.8L106.9 202.8L109.3 202.8L111.7 202.8L114.1 202.8L116.5 202.8L119 202.8L121.4 202.8L123.8 202.8L126.2 202.8L128.6 202.8L131 202.8L133.5 202.8L135.9 202.8L138.3 202.8L140.7 202.8L143.1 202.8L145.5 202.8L147.9 202.8L150.4 202.8L152.8 202.8L155.2 202.8L157.6 202.8L160 202.8L162.4 202.8L164.8 202.8L167.3 202.8L169.7 202.8L172.1 202.8L174.5 202.8L176.9 202.8L179.3 202.8L181.8 202.8L184.2 202.8L186.6 202.8L189 202.8L191.4 202.8L193.8 202.8L196.2 202.8L198.7 202.8L201.1 202.8L203.5 202.8L205.9 202.8L208.3 202.8L210.7 202.8L213.2 202.8L215.6 202.8L218 202.8L220.4 202.8L222.8 202.8L225.2 202.8L227.6 202.8L230.1 202.8L232.5 202.8L234.9 202.8L237.3 202.8L239.7 202.8L242.1 202.8L244.5 202.8L247 202.8L249.4 202.8L251.8 202.8L254.2 202.8L256.6 202.8L259 202.8L261.5 202.8L263.9 202.8L266.3 202.8L268.7 202.8L268.7 200.7L268.7 198.7L268.7 196.7L268.7 194.7L268.7 192.7L268.7 190.7L268.7 188.7L268.7 186.7L268.7 184.7L268.7 182.7L268.7 180.7L268.7 178.7L268.7 176.7L268.7 174.7L268.7 172.7L268.7 170.7L268.7 168.7L268.7 168.2L266.3 168L263.9 167.8L261.5 167.6L259 167.5L256.6 167.3L254.2 167.1L251.8 166.9L249.9 166.7L249.4 166.7L247 166.5L244.5 166.3L242.1 166.1L239.7 165.9L237.3 165.7L234.9 165.4L232.5 165.2L230.1 165L227.6 164.7L227.3 164.7L225.2 164.5L222.8 164.3L220.4 164L218 163.8L215.6 163.6L213.2 163.3L210.7 163L208.3 162.7L208 162.7L205.9 162.5L203.5 162.2L201.1 161.9L198.7 161.6L196.2 161.3L193.8 161L191.4 160.7L189 160.4L186.6 160.1L184.2 159.8L181.8 159.4L179.3 159.1L177 158.7L176.9 158.7L174.5 158.3L172.1 158L169.7 157.6L167.3 157.2L164.8 156.8L164.5 156.7L162.4 156.4L160 155.9L157.6 155.5L155.2 155L153.5 154.7L152.8 154.6L150.4 154.1L147.9 153.6L145.5 153.1L143.8 152.7L143.1 152.6L140.7 152L138.3 151.5L135.9 150.9L135.2 150.7L133.5 150.3L131 149.7L128.6 149L127.5 148.7L126.2 148.3L123.8 147.7L121.4 146.9L120.6 146.7L119 146.2L116.5 145.4L114.5 144.7L114.1 144.6L111.7 143.7L109.3 142.8L108.9 142.7L106.9 141.9L104.5 140.9L103.9 140.7L102.1 139.9L99.6 138.8L99.3 138.7L97.2 137.7L95.1 136.7L94.8 136.5L92.4 135.3L91.3 134.7L90 133.9L87.9 132.7L87.6 132.5L85.1 131L84.7 130.7L82.7 129.4L81.7 128.7L80.3 127.7L79 126.7L77.9 125.8L76.5 124.7L75.5 123.8L74.2 122.7L73.1 121.6L72 120.7L70.7 119.3L70.1 118.7L68.2 116.7L66.5 114.7L65.8 113.9L64.8 112.7L63.4 110.8L63.3 110.7L61.9 108.7L61 107.3L60.6 106.7L59.3 104.7L58.6 103.4L58.1 102.6L57 100.6L56.2 99L56 98.6L55 96.6L54.1 94.6L53.8 93.9L53.2 92.6L52.3 90.6L51.6 88.6L51.3 88L50.8 86.6L50.1 84.6L49.4 82.6L48.9 81.1L48.8 80.6L48.2 78.6L47.6 76.6L47 74.6L46.5 72.7L46.5 72.6L46 70.6L45.5 68.6L45 66.6L44.6 64.6L44.2 62.6L44.1 62.3L43.7 60.6L43.4 58.6L43 56.6L42.6 54.6L42.3 52.6L41.9 50.6L41.7 48.8L41.6 48.6L41.3 46.6L41 44.6L40.7 42.6L40.5 40.6L40.2 38.6L39.9 36.6L39.7 34.6L39.5 32.6L39.3 30.7L39.2 30.6L39 28.6L38.8 26.6L38.6 24.6L38.4 22.6L38.2 20.6L38 18.6L37.8 16.6L37.7 14.6L37.5 12.6L37.3 10.6L37.2 8.6L37 6.6L36.9 4.6L36.8 4.6L34.4 4.6L32 4.6L29.6 4.6L29.6 6.6L29.6 8.6L29.6 10.6L29.6 12.6L29.6 14.6L29.6 16.6L29.6 18.6L29.6 20.6L29.6 22.6L29.6 24.6L29.6 26.6L29.6 28.6L29.6 30.6L29.6 32.6L29.6 34.6L29.6 36.6L29.6 38.6L29.6 40.6L29.6 42.6L29.6 44.6L29.6 46.6L29.6 48.6L29.6 50.6L29.6 52.6L29.6 54.6L29.6 56.6L29.6 58.6L29.6 60.6L29.6 62.6L29.6 64.6L29.6 66.6L29.6 68.6L29.6 70.6L29.6 72.6L29.6 74.6L29.6 76.6L29.6 78.6L29.6 80.6L29.6 82.6L29.6 84.6L29.6 86.6L29.6 88.6L29.6 90.6L29.6 92.6L29.6 94.6L29.6 96.6L29.6 98.6L29.6 100.6L29.6 102.6L29.6 104.7L29.6 106.7L29.6 108.7L29.6 110.7L29.6 112.7L29.6 114.7L29.6 116.7L29.6 118.7L29.6 120.7L29.6 122.7L29.6 124.7L29.6 126.7L29.6 128.7L29.6 130.7L29.6 132.7L29.6 134.7L29.6 136.7L29.6 138.7L29.6 140.7L29.6 142.7L29.6 144.7L29.6 146.7L29.6 148.7L29.6 150.7L29.6 152.7L29.6 154.7L29.6 156.7L29.6 158.7L29.6 160.7L29.6 162.7L29.6 164.7L29.6 166.7L29.6 168.7L29.6 170.7L29.6 172.7L29.6 174.7L29.6 176.7L29.6 178.7L29.6 180.7L29.6 182.7L29.6 184.7L29.6 186.7L29.6 188.7L29.6 190.7L29.6 192.7L29.6 194.7L29.6 196.7L29.6 198.7L29.6 200.7L29.6 202.8L32 202.8Z"/>
<path fill="#c2e7bb" d="M32 202.8L34.4 202.8L36.8 202.8L39.3 202.8L41.7 202.8L44.1 202.8L46.5 202.8L48.9 202.8L51.3 202.8L53.8 202.8L56.2 202.8L58.6 202.8L61 202.8L63.4 202.8L65.8 202.8L68.2 202.8L70.7 202.8L73.1 202.8L75.5 202.8L77.9 202.8L80.3 202.8L82.7 202.8L85.1 202.8L87.6 202.8L90 202.8L92.4 202.8L94.8 202.8L97.2 202.8L99.6 202.8L102.1 202.8L104.5 202.8L106.9 202.8L109.3 202.8L111.7 202.8L114.1 202.8L116.5 202.8L119 202.8L121.4 202.8L123.8 202.8L126.2 202.8L128.6 202.8L131 202.8L133.5 202.8L135.9 202.8L138.3 202.8L140.7 202.8L143.1 202.8L145.5 202.8L147.9 202.8L150.4 202.8L152.8 202.8L155.2 202.8L157.6 202.8L160 202.8L162.4 202.8L164.8 202.8L167.3 202.8L169.7 202.8L172.1 202.8L174.5 202.8L176.9 202.8L179.3 202.8L181.8 202.8L184.2 202.8L186.6 202.8L189 202.8L191.4 202.8L193.8 202.8L196.2 202.8L198.7 202.8L201.1 202.8L203.5 202.8L205.9 202.8L208.3 202.8L210.7 202.8L213.2 202.8L215.6 202.8L218 202.8L220.4 202.8L222.8 202.8L225.2 202.8L227.6 202.8L230.1 202.8L232.5 202.8L234.9 202.8L237.3 202.8L239.7 202.8L242.1 202.8L244.5 202.8L247 202.8L249.4 202.8L251.8 202.8L254.2 202.8L256.6 202.8L259 202.8L261.5 202.8L263.9 202.8L266.3 202.8L268.7 202.8L268.7 200.7L268.7 198.7L268.7 196.7L268.7 194.7L268.7 192.7L268.7 190.7L268.7 188.7L268.7 186.7L268.7 184.7L268.7 182.7L268.7 180.7L268.7 178.7L268.7 176.7L268.7 174.7L268.7 172.7L268.7 170.7L268.7 169.4L266.3 169.2L263.9 169L261.5 168.9L259.5 168.7L259 168.7L256.6 168.5L254.2 168.3L251.8 168.2L249.4 168L247 167.8L244.5 167.6L242.1 167.4L239.7 167.2L237.3 167L234.9 166.7L234.6 166.7L232.5 166.5L230.1 166.3L227.6 166.1L225.2 165.9L222.8 165.6L220.4 165.4L218 165.2L215.6 164.9L213.6 164.7L213.2 164.7L210.7 164.4L208.3 164.2L205.9 163.9L203.5 163.6L201.1 163.4L198.7 163.1L196.2 162.8L195.7 162.7L193.8 162.5L191.4 162.2L189 161.9L186.6 161.6L184.2 161.3L181.8 160.9L180.2 160.7L179.3 160.6L176.9 160.2L174.5 159.9L172.1 159.5L169.7 159.2L167.3 158.8L166.9 158.7L164.8 158.4L162.4 158L160 157.6L157.6 157.2L155.2 156.7L152.8 156.3L150.4 155.8L147.9 155.3L145.5 154.8L144.9 154.7L143.1 154.3L140.7 153.8L138.3 153.3L135.9 152.7L133.5 152.1L131 151.5L128.6 150.9L127.9 150.7L126.2 150.3L123.8 149.6L121.4 148.9L120.7 148.7L119 148.2L116.5 147.4L114.3 146.7L114.1 146.6L111.7 145.8L109.3 145L108.6 144.7L106.9 144.1L104.5 143.1L103.4 142.7L102.1 142.1L99.6 141.1L98.7 140.7L97.2 140L94.8 138.9L94.5 138.7L92.4 137.6L90.6 136.7L90 136.3L87.6 135L87.1 134.7L85.1 133.5L83.8 132.7L82.7 132L80.9 130.7L80.3 130.3L78.1 128.7L77.9 128.5L75.6 126.7L75.5 126.6L73.3 124.7L73.1 124.5L71.1 122.7L70.7 122.2L69.1 120.7L68.2 119.7L67.3 118.7L65.8 117L65.5 116.7L63.9 114.7L63.4 114L62.4 112.7L61 110.7L59.7 108.7L58.6 106.9L58.4 106.7L57.3 104.7L56.2 102.6L55.1 100.6L54.2 98.6L53.8 97.8L53.2 96.6L52.4 94.6L51.6 92.6L51.3 92.1L50.8 90.6L50 88.6L49.3 86.6L48.9 85.4L48.7 84.6L48 82.6L47.4 80.6L46.9 78.6L46.5 77.3L46.3 76.6L45.8 74.6L45.3 72.6L44.8 70.6L44.4 68.6L44.1 67.2L44 66.6L43.5 64.6L43.1 62.6L42.8 60.6L42.4 58.6L42.1 56.6L41.7 54.6L41.7 54.3L41.4 52.6L41.1 50.6L40.8 48.6L40.5 46.6L40.2 44.6L40 42.6L39.7 40.6L39.5 38.6L39.3 36.7L39.2 36.6L39 34.6L38.8 32.6L38.6 30.6L38.4 28.6L38.2 26.6L38 24.6L37.8 22.6L37.6 20.6L37.4 18.6L37.3 16.6L37.1 14.6L37 12.6L36.8 11L36.8 10.6L36.6 8.6L36.5 6.6L36.4 4.6L34.4 4.6L32 4.6L29.6 4.6L29.6 6.6L29.6 8.6L29.6 10.6L29.6 12.6L29.6 14.6L29.6 16.6L29.6 18.6L29.6 20.6L29.6 22.6L29.6 24.6L29.6 26.6L29.6 28.6L29.6 30.6L29.6 32.6L29.6 34.6L29.6 36.6L29.6 38.6L29.6 40.6L29.6 42.6L29.6 44.6L29.6 46.6L29.6 48.6L29.6 50.6L29.6 52.6L29.6 54.6L29.6 56.6L29.6 58.6L29.6 60.6L29.6 62.6L29.6 64.6L29.6 66.6L29.6 68.6L29.6 70.6L29.6 72.6L29.6 74.6L29.6 76.6L29.6 78.6L29.6 80.6L29.6 82.6L29.6 84.6L29.6 86.6L29.6 88.6L29.6 90.6L29.6 92.6L29.6 94.6L29.6 96.6L29.6 98.6L29.6 100.6L29.6 102.6L29.6 104.7L29.6 106.7L29.6 108.7L29.6 110.7L29.6 112.7L29.6 114.7L29.6 116.7L29.6 118.7L29.6 120.7L29.6 122.7L29.6 124.7L29.6 126.7L29.6 128.7L29.6 130.7L29.6 132.7L29.6 134.7L29.6 136.7L29.6 138.7L29.6 140.7L29.6 142.7L29.6 144.7L29.6 146.7L29.6 148.7L29.6 150.7L29.6 152.7L29.6 154.7L29.6 156.7L29.6 158.7L29.6 160.7L29.6 162.7L29.6 164.7L29.6 166.7L29.6 168.7L29.6 170.7L29.6 172.7L29.6 174.7L29.6 176.7L29.6 178.7L29.6 180.7L29.6 182.7L29.6 184.7L29.6 186.7L29.6 188.7L29.6 190.7L29.6 192.7L29.6 194.7L29.6 196.7L29.6 198.7L29.6 200.7L29.6 202.8L32 202.8Z"/>
<path fill="#c8e9c1" d="M32 202.8L34.4 202.8L36.8 202.8L39.3 202.8L41.7 202.8L44.1 202.8L46.5 202.8L48.9 202.8L51.3 202.8L53.8 202.8L56.2 202.8L58.6 202.8L61 202.8L63.4 202.8L65.8 202.8L68.2 202.8L70.7 202.8L73.1 202.8L75.5 202.8L77.9 202.8L80.3 202.8L82.7 202.8L85.1 202.8L87.6 202.8L90 202.8L92.4 202.8L94.8 202.8L97.2 202.8L99.6 202.8L102.1 202.8L104.5 202.8L106.9 202.8L109.3 202.8L111.7 202.8L114.1 202.8L116.5 202.8L119 202.8L121.4 202.8L123.8 202.8L126.2 202.8L128.6 202.8L131 202.8L133.5 202.8L135.9 202.8L138.3 202.8L140.7 202.8L143.1 202.8L145.5 202.8L147.9 202.8L150.4 202.8L152.8 202.8L155.2 202.8L157.6 202.8L160 202.8L162.4 202.8L164.8 202.8L167.3 202.8L169.7 202.8L172.1 202.8L174.5 202.8L176.9 202.8L179.3 202.8L181.8 202.8L184.2 202.8L186.6 202.8L189 202.8L191.4 202.8L193.8 202.8L196.2 202.8L198.7 202.8L201.1 202.8L203.5 202.8L205.9 202.8L208.3 202.8L210.7 202.8L213.2 202.8L215.6 202.8L218 202.8L220.4 202.8L222.8 202.8L225.2 202.8L227.6 202.8L230.1 202.8L232.5 202.8L234.9 202.8L237.3 202.8L239.7 202.8L242.1 202.8L244.5 202.8L247 202.8L249.4 202.8L251.8 202.8L254.2 202.8L256.6 202.8L259 202.8L261.5 202.8L263.9 202.8L266.3 202.8L268.7 202.8L268.7 200.7L268.7 198.7L268.7 196.7L268.7 194.7L268.7 192.7L268.7 190.7L268.7 188.7L268.7 186.7L268.7 184.7L268.7 182.7L268.7 180.7L268.7 178.7L268.7 176.7L268.7 174.7L268.7 172.7L268.7 170.7L266.3 170.5L263.9 170.4L261.5 170.2L259 170L256.6 169.9L254.2 169.7L251.8 169.5L249.4 169.3L247 169.1L244.5 168.9L242.1 168.7L242 168.7L239.7 168.5L237.3 168.3L234.9 168.2L232.5 167.9L230.1 167.7L227.6 167.5L225.2 167.3L222.8 167.1L220.4 166.8L219 166.7L218 166.6L215.6 166.4L213.2 166.2L210.7 165.9L208.3 165.7L205.9 165.4L203.5 165.2L201.1 164.9L199.6 164.7L198.7 164.6L196.2 164.3L193.8 164.1L191.4 163.8L189 163.5L186.6 163.2L184.2 162.9L183.1 162.7L181.8 162.5L179.3 162.2L176.9 161.9L174.5 161.6L172.1 161.2L169.7 160.8L168.8 160.7L167.3 160.5L164.8 160.1L162.4 159.7L160 159.3L157.6 158.9L156.4 158.7L155.2 158.5L152.8 158.1L150.4 157.6L147.9 157.2L145.6 156.7L145.5 156.7L143.1 156.2L140.7 155.7L138.3 155.2L136.2 154.7L135.9 154.6L133.5 154.1L131 153.5L128.6 152.9L127.8 152.7L126.2 152.3L123.8 151.7L121.4 151L120.4 150.7L119 150.3L116.5 149.6L114.1 148.8L113.8 148.7L111.7 148L109.3 147.2L107.9 146.7L106.9 146.3L104.5 145.4L102.6 144.7L102.1 144.5L99.6 143.5L97.8 142.7L97.2 142.4L94.8 141.3L93.5 140.7L92.4 140.2L90 138.9L89.5 138.7L87.6 137.6L86 136.7L85.1 136.2L82.7 134.7L80.3 133.1L79.7 132.7L77.9 131.4L77 130.7L75.5 129.5L74.4 128.7L73.1 127.5L72.1 126.7L70.7 125.4L70 124.7L68.2 123L68 122.7L66.1 120.7L65.8 120.3L64.4 118.7L63.4 117.5L62.8 116.7L61.3 114.7L61 114.2L59.9 112.7L58.6 110.7L58.6 110.6L57.4 108.7L56.2 106.7L56.2 106.5L55.2 104.7L54.1 102.6L53.8 101.8L53.2 100.6L52.3 98.6L51.5 96.6L51.3 96.4L50.6 94.6L49.9 92.6L49.2 90.6L48.9 89.9L48.5 88.6L47.8 86.6L47.2 84.6L46.6 82.6L46.5 82.1L46.1 80.6L45.6 78.6L45.1 76.6L44.6 74.6L44.1 72.6L44.1 72.5L43.7 70.6L43.3 68.6L42.9 66.6L42.5 64.6L42.1 62.6L41.8 60.6L41.7 60L41.4 58.6L41.1 56.6L40.8 54.6L40.5 52.6L40.2 50.6L39.9 48.6L39.7 46.6L39.4 44.6L39.3 43.2L39.2 42.6L38.9 40.6L38.7 38.6L38.5 36.6L38.3 34.6L38.1 32.6L37.9 30.6L37.7 28.6L37.5 26.6L37.3 24.6L37.2 22.6L37 20.6L36.9 18.6L36.8 18.5L36.7 16.6L36.5 14.6L36.4 12.6L36.2 10.6L36.1 8.6L36 6.6L35.8 4.6L34.4 4.6L32 4.6L29.6 4.6L29.6 6.6L29.6 8.6L29.6 10.6L29.6 12.6L29.6 14.6L29.6 16.6L29.6 18.6L29.6 20.6L29.6 22.6L29.6 24.6L29.6 26.6L29.6 28.6L29.6 30.6L29.6 32.6L29.6 34.6L29.6 36.6L29.6 38.6L29.6 40.6L29.6 42.6L29.6 44.6L29.6 46.6L29.6 48.6L29.6 50.6L29.6 52.6L29.6 54.6L29.6 56.6L29.6 58.6L29.6 60.6L29.6 62.6L29.6 64.6L29.6 66.6L29.6 68.6L29.6 70.6L29.6 72.6L29.6 74.6L29.6 76.6L29.6 78.6L29.6 80.6L29.6 82.6L29.6 84.6L29.6 86.6L29.6 88.6L29.6 90.6L29.6 92.6L29.6 94.6L29.6 96.6L29.6 98.6L29.6 100.6L29.6 102.6L29.6 104.7L29.6 106.7L29.6 108.7L29.6 110.7L29.6 112.7L29.6 114.7L29.6 116.7L29.6 118.7L29.6 120.7L29.6 122.7L29.6 124.7L29.6 126.7L29.6 128.7L29.6 130.7L29.6 132.7L29.6 134.7L29.6 136.7L29.6 138.7L29.6 140.7L29.6 142.7L29.6 144.7L29.6 146.7L29.6 148.7L29.6 150.7L29.6 152.7L29.6 154.7L29.6 156.7L29.6 158.7L29.6 160.7L29.6 162.7L29.6 164.7L29.6 166.7L29.6 168.7L29.6 170.7L29.6 172.7L29.6 174.7L29.6 176.7L29.6 178.7L29.6 180.7L29.6 182.7L29.6 184.7L29.6 186.7L29.6 188.7L29.6 190.7L29.6 192.7L29.6 194.7L29.6 196.7L29.6 198.7L29.6 200.7L29.6 202.8L32 202.8Z"/>
<path fill="#cbebc5" d="M32 202.8L34.4 202.8L36.8 202.8L39.3 202.8L41.7 202.8L44.1 202.8L46.5 202.8L48.9 202.8L51.3 202.8L53.8 202.8L56.2 202.8L58.6 202.8L61 202.8L63.4 202.8L65.8 202.8L68.2 202.8L70.7 202.8L73.1 202.8L75.5 202.8L77.9 202.8L80.3 202.8L82.7 202.8L85.1 202.8L87.6 202.8L90 202.8L92.4 202.8L94.8 202.8L97.2 202.8L99.6 202.8L102.1 202.8L104.5 202.8L106.9 202.8L109.3 202.8L111.7 202.8L114.1 202.8L116.5 202.8L119 202.8L121.4 202.8L123.8 202.8L126.2 202.8L128.6 202.8L131 202.8L133.5 202.8L135.9 202.8L138.3 202.8L140.7 202.8L143.1 202.8L145.5 202.8L147.9 202.8L150.4 202.8L152.8 202.8L155.2 202.8L157.6 202.8L160 202.8L162.4 202.8L164.8 202.8L167.3 202.8L169.7 202.8L172.1 202.8L174.5 202.8L176.9 202.8L179.3 202.8L181.8 202.8L184.2 202.8L186.6 202.8L189 202.8L191.4 202.8L193.8 202.8L196.2 202.8L198.7 202.8L201.1 202.8L203.5 202.8L205.9 202.8L208.3 202.8L210.7 202.8L213.2 202.8L215.6 202.8L218 202.8L220.4 202.8L222.8 202.8L225.2 202.8L227.6 202.8L230.1 202.8L232.5 202.8L234.9 202.8L237.3 202.8L239.7 202.8L242.1 202.8L244.5 202.8L247 202.8L249.4 202.8L251.8 202.8L254.2 202.8L256.6 202.8L259 202.8L261.5 202.8L263.9 202.8L266.3 202.8L268.7 202.8L268.7 200.7L268.7 198.7L268.7 196.7L268.7 194.7L268.7 192.7L268.7 190.7L268.7 188.7L268.7 186.7L268.7 184.7L268.7 182.7L268.7 180.7L268.7 178.7L268.7 176.7L268.7 174.7L268.7 172.7L268.7 172.1L266.3 171.9L263.9 171.8L261.5 171.6L259 171.4L256.6 171.3L254.2 171.1L251.8 170.9L249.4 170.7L249.1 170.7L247 170.6L244.5 170.4L242.1 170.2L239.7 170L237.3 169.8L234.9 169.7L232.5 169.5L230.1 169.3L227.6 169L225.2 168.8L224 168.7L222.8 168.6L220.4 168.4L218 168.2L215.6 168L213.2 167.7L210.7 167.5L208.3 167.3L205.9 167L203.5 166.8L203 166.7L201.1 166.5L198.7 166.3L196.2 166L193.8 165.7L191.4 165.5L189 165.2L186.6 164.9L185.2 164.7L184.2 164.6L181.8 164.3L179.3 164L176.9 163.7L174.5 163.3L172.1 163L170.1 162.7L169.7 162.7L167.3 162.3L164.8 162L162.4 161.6L160 161.2L157.6 160.8L157 160.7L155.2 160.4L152.8 160L150.4 159.6L147.9 159.1L145.7 158.7L145.5 158.7L143.1 158.2L140.7 157.7L138.3 157.2L135.9 156.7L135.8 156.7L133.5 156.2L131 155.6L128.6 155.1L127.1 154.7L126.2 154.5L123.8 153.9L121.4 153.2L119.5 152.7L119 152.6L116.5 151.9L114.1 151.1L112.7 150.7L111.7 150.4L109.3 149.6L106.9 148.8L106.7 148.7L104.5 147.9L102.1 147L101.3 146.7L99.6 146.1L97.2 145.1L96.4 144.7L94.8 144L92.4 142.9L92 142.7L90 141.7L88.1 140.7L87.6 140.4L85.1 139.1L84.5 138.7L82.7 137.7L81.2 136.7L80.3 136.1L78.2 134.7L77.9 134.5L75.5 132.7L73.1 130.8L73 130.7L70.7 128.7L70.6 128.7L68.5 126.7L68.2 126.4L66.5 124.7L65.8 123.9L64.7 122.7L63.4 121.1L63 120.7L61.4 118.7L61 118.1L60 116.7L58.6 114.7L58.6 114.6L57.3 112.7L56.2 110.7L55 108.7L54 106.7L53.8 106.2L53 104.7L52.1 102.6L51.3 101L51.2 100.6L50.4 98.6L49.6 96.6L48.9 94.8L48.9 94.6L48.2 92.6L47.5 90.6L46.9 88.6L46.5 87.3L46.3 86.6L45.7 84.6L45.2 82.6L44.7 80.6L44.2 78.6L44.1 78.1L43.7 76.6L43.3 74.6L42.9 72.6L42.5 70.6L42.1 68.6L41.7 66.6L41.7 66.2L41.4 64.6L41 62.6L40.7 60.6L40.4 58.6L40.1 56.6L39.8 54.6L39.6 52.6L39.3 50.6L39.3 50.1L39.1 48.6L38.8 46.6L38.6 44.6L38.4 42.6L38.1 40.6L37.9 38.6L37.7 36.6L37.5 34.6L37.4 32.6L37.2 30.6L37 28.6L36.9 26.6L36.8 26.5L36.7 24.6L36.5 22.6L36.4 20.6L36.2 18.6L36.1 16.6L35.9 14.6L35.8 12.6L35.7 10.6L35.5 8.6L35.4 6.6L35.3 4.6L34.4 4.6L32 4.6L29.6 4.6L29.6 6.6L29.6 8.6L29.6 10.6L29.6 12.6L29.6 14.6L29.6 16.6L29.6 18.6L29.6 20.6L29.6 22.6L29.6 24.6L29.6 26.6L29.6 28.6L29.6 30.6L29.6 32.6L29.6 34.6L29.6 36.6L29.6 38.6L29.6 40.6L29.6 42.6L29.6 44.6L29.6 46.6L29.6 48.6L29.6 50.6L29.6 52.6L29.6 54.6L29.6 56.6L29.6 58.6L29.6 60.6L29.6 62.6L29.6 64.6L29.6 66.6L29.6 68.6L29.6 70.6L29.6 72.6L29.6 74.6L29.6 76.6L29.6 78.6L29.6 80.6L29.6 82.6L29.6 84.6L29.6 86.6L29.6 88.6L29.6 90.6L29.6 92.6L29.6 94.6L29.6 96.6L29.6 98.6L29.6 100.6L29.6 102.6L29.6 104.7L29.6 106.7L29.6 108.7L29.6 110.7L29.6 112.7L29.6 114.7L29.6 116.7L29.6 118.7L29.6 120.7L29.6 122.7L29.6 124.7L29.6 126.7L29.6 128.7L29.6 130.7L29.6 132.7L29.6 134.7L29.6 136.7L29.6 138.7L29.6 140.7L29.6 142.7L29.6 144.7L29.6 146.7L29.6 148.7L29.6 150.7L29.6 152.7L29.6 154.7L29.6 156.7L29.6 158.7L29.6 160.7L29.6 162.7L29.6 164.7L29.6 166.7L29.6 168.7L29.6 170.7L29.6 172.7L29.6 174.7L29.6 176.7L29.6 178.7L29.6 180.7L29.6 182.7L29.6 184.7L29.6 186.7L29.6 188.7L29.6 190.7L29.6 192.7L29.6 194.7L29.6 196.7L29.6 198.7L29.6 200.7L29.6 202.8L32 202.8Z"/>
<path fill="#d0edca" d="M32 202.8L34.4 202.8L36.8 202.8L39.3 202.8L41.7 202.8L44.1 202.8L46.5 202.8L48.9 202.8L51.3 202.8L53.8 202.8L56.2 202.8L58.6 202.8L61 202.8L63.4 202.8L65.8 202.8L68.2 202.8L70.7 202.8L73.1 202.8L75.5 202.8L77.9 202.8L80.3 202.8L82.7 202.8L85.1 202.8L87.6 202.8L90 202.8L92.4 202.8L94.8 202.8L97.2 202.8L99.6 202.8L102.1 202.8L104.5 202.8L106.9 202.8L109.3 202.8L111.7 202.8L114.1 202.8L116.5 202.8L119 202.8L121.4 202.8L123.8 202.8L126.2 202.8L128.6 202.8L131 202.8L133.5 202.8L135.9 202.8L138.3 202.8L140.7 202.8L143.1 202.8L145.5 202.8L147.9 202.8L150.4 202.8L152.8 202.8L155.2 202.8L157.6 202.8L160 202.8L162.4 202.8L164.8 202.8L167.3 202.8L169.7 202.8L172.1 202.8L174.5 202.8L176.9 202.8L179.3 202.8L181.8 202.8L184.2 202.8L186.6 202.8L189 202.8L191.4 202.8L193.8 202.8L196.2 202.8L198.7 202.8L201.1 202.8L203.5 202.8L205.9 202.8L208.3 202.8L210.7 202.8L213.2 202.8L215.6 202.8L218 202.8L220.4 202.8L222.8 202.8L225.2 202.8L227.6 202.8L230.1 202.8L232.5 202.8L234.9 202.8L237.3 202.8L239.7 202.8L242.1 202.8L244.5 202.8L247 202.8L249.4 202.8L251.8 202.8L254.2 202.8L256.6 202.8L259 202.8L261.5 202.8L263.9 202.8L266.3 202.8L268.7 202.8L268.7 200.7L268.7 198.7L268.7 196.7L268.7 194.7L268.7 192.7L268.7 190.7L268.7 188.7L268.7 186.7L268.7 184.7L268.7 182.7L268.7 180.7L268.7 178.7L268.7 176.7L268.7 174.7L268.7 173.6L266.3 173.4L263.9 173.3L261.5 173.1L259 173L256.6 172.8L255.5 172.7L254.2 172.6L251.8 172.5L249.4 172.3L247 172.2L244.5 172L242.1 171.8L239.7 171.6L237.3 171.5L234.9 171.3L232.5 171.1L230.1 170.9L228.1 170.7L227.6 170.7L225.2 170.5L222.8 170.3L220.4 170.1L218 169.9L215.6 169.7L213.2 169.5L210.7 169.2L208.3 169L205.9 168.8L205.5 168.7L203.5 168.5L201.1 168.3L198.7 168.1L196.2 167.8L193.8 167.6L191.4 167.3L189 167L186.6 166.7L186.5 166.7L184.2 166.5L181.8 166.2L179.3 165.9L176.9 165.6L174.5 165.3L172.1 164.9L170.4 164.7L169.7 164.6L167.3 164.3L164.8 164L162.4 163.6L160 163.2L157.6 162.9L156.7 162.7L155.2 162.5L152.8 162.1L150.4 161.7L147.9 161.3L145.5 160.8L144.8 160.7L143.1 160.4L140.7 159.9L138.3 159.5L135.9 159L134.6 158.7L133.5 158.5L131 158L128.6 157.4L126.2 156.8L125.7 156.7L123.8 156.3L121.4 155.7L119 155L117.8 154.7L116.5 154.4L114.1 153.7L111.7 152.9L110.9 152.7L109.3 152.2L106.9 151.4L104.8 150.7L104.5 150.6L102.1 149.7L99.6 148.8L99.3 148.7L97.2 147.9L94.8 146.9L94.4 146.7L92.4 145.8L90 144.7L87.6 143.5L86.1 142.7L85.1 142.2L82.7 140.8L82.5 140.7L80.3 139.4L79.2 138.7L77.9 137.8L76.3 136.7L75.5 136.1L73.6 134.7L73.1 134.3L71.1 132.7L70.7 132.3L68.8 130.7L68.2 130.2L66.7 128.7L65.8 127.8L64.8 126.7L63.4 125.1L63 124.7L61.4 122.7L61 122.2L59.8 120.7L58.6 118.9L58.4 118.7L57.1 116.7L56.2 115.2L55.8 114.7L54.7 112.7L53.8 110.9L53.6 110.7L52.6 108.7L51.7 106.7L51.3 105.9L50.8 104.7L49.9 102.6L49.1 100.6L48.9 100.1L48.4 98.6L47.7 96.6L47 94.6L46.5 93L46.4 92.6L45.8 90.6L45.2 88.6L44.7 86.6L44.2 84.6L44.1 84.2L43.7 82.6L43.2 80.6L42.8 78.6L42.4 76.6L42 74.6L41.7 72.9L41.6 72.6L41.3 70.6L40.9 68.6L40.6 66.6L40.3 64.6L40 62.6L39.7 60.6L39.4 58.6L39.3 57.5L39.1 56.6L38.9 54.6L38.6 52.6L38.4 50.6L38.1 48.6L37.9 46.6L37.7 44.6L37.5 42.6L37.3 40.6L37.1 38.6L37 36.6L36.8 35.1L36.8 34.6L36.6 32.6L36.5 30.6L36.3 28.6L36.1 26.6L36 24.6L35.8 22.6L35.7 20.6L35.6 18.6L35.4 16.6L35.3 14.6L35.2 12.6L35.1 10.6L35 8.6L34.9 6.6L34.8 4.6L34.4 4.6L32 4.6L29.6 4.6L29.6 6.6L29.6 8.6L29.6 10.6L29.6 12.6L29.6 14.6L29.6 16.6L29.6 18.6L29.6 20.6L29.6 22.6L29.6 24.6L29.6 26.6L29.6 28.6L29.6 30.6L29.6 32.6L29.6 34.6L29.6 36.6L29.6 38.6L29.6 40.6L29.6 42.6L29.6 44.6L29.6 46.6L29.6 48.6L29.6 50.6L29.6 52.6L29.6 54.6L29.6 56.6L29.6 58.6L29.6 60.6L29.6 62.6L29.6 64.6L29.6 66.6L29.6 68.6L29.6 70.6L29.6 72.6L29.6 74.6L29.6 76.6L29.6 78.6L29.6 80.6L29.6 82.6L29.6 84.6L29.6 86.6L29.6 88.6L29.6 90.6L29.6 92.6L29.6 94.6L29.6 96.6L29.6 98.6L29.6 100.6L29.6 102.6L29.6 104.7L29.6 106.7L29.6 108.7L29.6 110.7L29.6 112.7L29.6 114.7L29.6 116.7L29.6 118.7L29.6 120.7L29.6 122.7L29.6 124.7L29.6 126.7L29.6 128.7L29.6 130.7L29.6 132.7L29.6 134.7L29.6 136.7L29.6 138.7L29.6 140.7L29.6 142.7L29.6 144.7L29.6 146.7L29.6 148.7L29.6 150.7L29.6 152.7L29.6 154.7L29.6 156.7L29.6 158.7L29.6 160.7L29.6 162.7L29.6 164.7L29.6 166.7L29.6 168.7L29.6 170.7L29.6 172.7L29.6 174.7L29.6 176.7L29.6 178.7L29.6 180.7L29.6 182.7L29.6 184.7L29.6 186.7L29.6 188.7L29.6 190.7L29.6 192.7L29.6 194.7L29.6 196.7L29.6 198.7L29.6 200.7L29.6 202.8L32 202.8Z"/>
<path fill="#d4eece" d="M32 202.8L34.4 202.8L36.8 202.8L39.3 202.8L41.7 202.8L44.1 202.8L46.5 202.8L48.9 202.8L51.3 202.8L53.8 202.8L56.2 202.8L58.6 202.8L61 202.8L63.4 202.8L65.8 202.8L68.2 202.8L70.7 202.8L73.1 202.8L75.5 202.8L77.9 202.8L80.3 202.8L82.7 202.8L85.1 202.8L87.6 202.8L90 202.8L92.4 202.8L94.8 202.8L97.2 202.8L99.6 202.8L102.1 202.8L104.5 202.8L106.9 202.8L109.3 202.8L111.7 202.8L114.1 202.8L116.5 202.8L119 202.8L121.4 202.8L123.8 202.8L126.2 202.8L128.6 202.8L131 202.8L133.5 202.8L135.9 202.8L138.3 202.8L140.7 202.8L143.1 202.8L145.5 202.8L147.9 202.8L150.4 202.8L152.8 202.8L155.2 202.8L157.6 202.8L160 202.8L162.4 202.8L164.8 202.8L167.3 202.8L169.7 202.8L172.1 202.8L174.5 202.8L176.9 202.8L179.3 202.8L181.8 202.8L184.2 202.8L186.6 202.8L189 202.8L191.4 202.8L193.8 202.8L196.2 202.8L198.7 202.8L201.1 202.8L203.5 202.8L205.9 202.8L208.3 202.8L210.7 202.8L213.2 202.8L215.6 202.8L218 202.8L220.4 202.8L222.8 202.8L225.2 202.8L227.6 202.8L230.1 202.8L232.5 202.8L234.9 202.8L237.3 202.8L239.7 202.8L242.1 202.8L244.5 202.8L247 202.8L249.4 202.8L251.8 202.8L254.2 202.8L256.6 202.8L259 202.8L261.5 202.8L263.9 202.8L266.3 202.8L268.7 202.8L268.7 200.7L268.7 198.7L268.7 196.7L268.7 194.7L268.7 192.7L268.7 190.7L268.7 188.7L268.7 186.7L268.7 184.7L268.7 182.7L268.7 180.7L268.7 178.7L268.7 176.7L268.7 175.2L266.3 175.1L263.9 174.9L261.5 174.8L260.6 174.7L259 174.6L256.6 174.5L254.2 174.3L251.8 174.2L249.4 174L247 173.9L244.5 173.7L242.1 173.6L239.7 173.4L237.3 173.2L234.9 173L232.5 172.9L230.8 172.7L230.1 172.7L227.6 172.5L225.2 172.3L222.8 172.1L220.4 171.9L218 171.7L215.6 171.5L213.2 171.3L210.7 171.1L208.3 170.9L206.4 170.7L205.9 170.7L203.5 170.5L201.1 170.2L198.7 170L196.2 169.8L193.8 169.5L191.4 169.3L189 169L186.6 168.8L186.2 168.7L184.2 168.5L181.8 168.2L179.3 168L176.9 167.7L174.5 167.4L172.1 167.1L169.7 166.8L169.3 166.7L167.3 166.5L164.8 166.1L162.4 165.8L160 165.5L157.6 165.1L155.2 164.7L155 164.7L152.8 164.4L150.4 164L147.9 163.6L145.5 163.2L143.1 162.8L142.8 162.7L140.7 162.3L138.3 161.9L135.9 161.4L133.5 161L132.3 160.7L131 160.5L128.6 160L126.2 159.4L123.8 158.9L123.1 158.7L121.4 158.3L119 157.7L116.5 157.1L115.2 156.7L114.1 156.4L111.7 155.8L109.3 155L108.2 154.7L106.9 154.3L104.5 153.5L102.1 152.7L102 152.7L99.6 151.9L97.2 151L96.6 150.7L94.8 150L92.4 149L91.7 148.7L90 147.9L87.6 146.8L87.3 146.7L85.1 145.6L83.4 144.7L82.7 144.3L80.3 142.9L79.9 142.7L77.9 141.5L76.7 140.7L75.5 139.9L73.8 138.7L73.1 138.2L71.2 136.7L70.7 136.3L68.8 134.7L68.2 134.2L66.5 132.7L65.8 132L64.5 130.7L63.4 129.5L62.7 128.7L61 126.7L60.9 126.7L59.4 124.7L58.6 123.6L57.9 122.7L56.5 120.7L56.2 120.1L55.3 118.7L54.1 116.7L53.8 116.1L53 114.7L51.9 112.7L51.3 111.4L51 110.7L50.1 108.7L49.2 106.7L48.9 105.9L48.4 104.7L47.7 102.6L47 100.6L46.5 99.2L46.3 98.6L45.7 96.6L45.1 94.6L44.6 92.6L44.1 90.9L44 90.6L43.5 88.6L43 86.6L42.6 84.6L42.2 82.6L41.8 80.6L41.7 80.2L41.4 78.6L41 76.6L40.6 74.6L40.3 72.6L40 70.6L39.7 68.6L39.4 66.6L39.3 65.7L39.1 64.6L38.8 62.6L38.6 60.6L38.3 58.6L38.1 56.6L37.8 54.6L37.6 52.6L37.4 50.6L37.2 48.6L37 46.6L36.9 44.6L36.8 44.5L36.7 42.6L36.5 40.6L36.3 38.6L36.1 36.6L36 34.6L35.8 32.6L35.7 30.6L35.5 28.6L35.4 26.6L35.3 24.6L35.2 22.6L35 20.6L34.9 18.6L34.8 16.6L34.7 14.6L34.6 12.6L34.5 10.6L34.4 8.9L34.4 8.6L34.3 6.6L34.2 4.6L32 4.6L29.6 4.6L29.6 6.6L29.6 8.6L29.6 10.6L29.6 12.6L29.6 14.6L29.6 16.6L29.6 18.6L29.6 20.6L29.6 22.6L29.6 24.6L29.6 26.6L29.6 28.6L29.6 30.6L29.6 32.6L29.6 34.6L29.6 36.6L29.6 38.6L29.6 40.6L29.6 42.6L29.6 44.6L29.6 46.6L29.6 48.6L29.6 50.6L29.6 52.6L29.6 54.6L29.6 56.6L29.6 58.6L29.6 60.6L29.6 62.6L29.6 64.6L29.6 66.6L29.6 68.6L29.6 70.6L29.6 72.6L29.6 74.6L29.6 76.6L29.6 78.6L29.6 80.6L29.6 82.6L29.6 84.6L29.6 86.6L29.6 88.6L29.6 90.6L29.6 92.6L29.6 94.6L29.6 96.6L29.6 98.6L29.6 100.6L29.6 102.6L29.6 104.7L29.6 106.7L29.6 108.7L29.6 110.7L29.6 112.7L29.6 114.7L29.6 116.7L29.6 118.7L29.6 120.7L29.6 122.7L29.6 124.7L29.6 126.7L29.6 128.7L29.6 130.7L29.6 132.7L29.6 134.7L29.6 136.7L29.6 138.7L29.6 140.7L29.6 142.7L29.6 144.7L29.6 146.7L29.6 148.7L29.6 150.7L29.6 152.7L29.6 154.7L29.6 156.7L29.6 158.7L29.6 160.7L29.6 162.7L29.6 164.7L29.6 166.7L29.6 168.7L29.6 170.7L29.6 172.7L29.6 174.7L29.6 176.7L29.6 178.7L29.6 180.7L29.6 182.7L29.6 184.7L29.6 186.7L29.6 188.7L29.6 190.7L29.6 192.7L29.6 194.7L29.6 196.7L29.6 198.7L29.6 200.7L29.6 202.8L32 202.8Z"/>
<path fill="#d9f0d3" d="M32 202.8L34.4 202.8L36.8 202.8L39.3 202.8L41.7 202.8L44.1 202.8L46.5 202.8L48.9 202.8L51.3 202.8L53.8 202.8L56.2 202.8L58.6 202.8L61 202.8L63.4 202.8L65.8 202.8L68.2 202.8L70.7 202.8L73.1 202.8L75.5 202.8L77.9 202.8L80.3 202.8L82.7 202.8L85.1 202.8L87.6 202.8L90 202.8L92.4 202.8L94.8 202.8L97.2 202.8L99.6 202.8L102.1 202.8L104.5 202.8L106.9 202.8L109.3 202.8L111.7 202.8L114.1 202.8L116.5 202.8L119 202.8L121.4 202.8L123.8 202.8L126.2 202.8L128.6 202.8L131 202.8L133.5 202.8L135.9 202.8L138.3 202.8L140.7 202.8L143.1 202.8L145.5 202.8L147.9 202.8L150.4 202.8L152.8 202.8L155.2 202.8L157.6 202.8L160 202.8L162.4 202.8L164.8 202.8L167.3 202.8L169.7 202.8L172.1 202.8L174.5 202.8L176.9 202.8L179.3 202.8L181.8 202.8L184.2 202.8L186.6 202.8L189 202.8L191.4 202.8L193.8 202.8L196.2 202.8L198.7 202.8L201.1 202.8L203.5 202.8L205.9 202.8L208.3 202.8L210.7 202.8L213.2 202.8L215.6 202.8L218 202.8L220.4 202.8L222.8 202.8L225.2 202.8L227.6 202.8L230.1 202.8L232.5 202.8L234.9 202.8L237.3 202.8L239.7 202.8L242.1 202.8L244.5 202.8L247 202.8L249.4 202.8L251.8 202.8L254.2 202.8L256.6 202.8L259 202.8L261.5 202.8L263.9 202.8L266.3 202.8L268.7 202.8L268.7 200.7L268.7 198.7L268.7 196.7L268.7 194.7L268.7 192.7L268.7 190.7L268.7 188.7L268.7 186.7L268.7 184.7L268.7 182.7L268.7 180.7L268.7 178.7L268.7 177L266.3 176.9L263.9 176.8L263.2 176.7L261.5 176.6L259 176.5L256.6 176.4L254.2 176.2L251.8 176.1L249.4 175.9L247 175.8L244.5 175.6L242.1 175.5L239.7 175.3L237.3 175.2L234.9 175L232.5 174.8L231 174.7L230.1 174.7L227.6 174.5L225.2 174.3L222.8 174.2L220.4 174L218 173.8L215.6 173.6L213.2 173.4L210.7 173.2L208.3 173L205.9 172.8L205.1 172.7L203.5 172.6L201.1 172.4L198.7 172.2L196.2 172L193.8 171.7L191.4 171.5L189 171.3L186.6 171L184.2 170.8L183.8 170.7L181.8 170.5L179.3 170.3L176.9 170L174.5 169.7L172.1 169.5L169.7 169.2L167.3 168.9L166.2 168.7L164.8 168.6L162.4 168.3L160 167.9L157.6 167.6L155.2 167.3L152.8 166.9L151.4 166.7L150.4 166.6L147.9 166.2L145.5 165.8L143.1 165.4L140.7 165L139 164.7L138.3 164.6L135.9 164.2L133.5 163.7L131 163.3L128.6 162.8L128.3 162.7L126.2 162.3L123.8 161.8L121.4 161.2L119.1 160.7L119 160.7L116.5 160.1L114.1 159.5L111.7 158.9L111.2 158.7L109.3 158.2L106.9 157.5L104.5 156.8L104.2 156.7L102.1 156L99.6 155.2L98.1 154.7L97.2 154.4L94.8 153.5L92.8 152.7L92.4 152.6L90 151.6L88 150.7L87.6 150.5L85.1 149.4L83.7 148.7L82.7 148.2L80.3 146.9L80 146.7L77.9 145.5L76.5 144.7L75.5 144L73.5 142.7L73.1 142.4L70.7 140.7L68.2 138.8L68.2 138.7L65.9 136.7L65.8 136.7L63.7 134.7L63.4 134.3L61.8 132.7L61 131.8L60.1 130.7L58.6 128.9L58.4 128.7L56.9 126.7L56.2 125.6L55.5 124.7L54.3 122.7L53.8 121.8L53.1 120.7L52 118.7L51.3 117.4L50.9 116.7L50 114.7L49.1 112.7L48.9 112.3L48.2 110.7L47.5 108.7L46.7 106.7L46.5 106L46 104.7L45.4 102.6L44.8 100.6L44.2 98.6L44.1 98.3L43.6 96.6L43.1 94.6L42.6 92.6L42.2 90.6L41.7 88.6L41.7 88.3L41.3 86.6L40.9 84.6L40.5 82.6L40.2 80.6L39.9 78.6L39.5 76.6L39.3 74.8L39.2 74.6L38.9 72.6L38.6 70.6L38.4 68.6L38.1 66.6L37.9 64.6L37.6 62.6L37.4 60.6L37.2 58.6L37 56.6L36.8 55L36.8 54.6L36.6 52.6L36.4 50.6L36.2 48.6L36.1 46.6L35.9 44.6L35.7 42.6L35.6 40.6L35.4 38.6L35.3 36.6L35.2 34.6L35 32.6L34.9 30.6L34.8 28.6L34.7 26.6L34.6 24.6L34.5 22.6L34.4 21.8L34.4 20.6L34.2 18.6L34.1 16.6L34 14.6L33.9 12.6L33.8 10.6L33.7 8.6L33.7 6.6L33.6 4.6L32 4.6L29.6 4.6L29.6 6.6L29.6 8.6L29.6 10.6L29.6 12.6L29.6 14.6L29.6 16.6L29.6 18.6L29.6 20.6L29.6 22.6L29.6 24.6L29.6 26.6L29.6 28.6L29.6 30.6L29.6 32.6L29.6 34.6L29.6 36.6L29.6 38.6L29.6 40.6L29.6 42.6L29.6 44.6L29.6 46.6L29.6 48.6L29.6 50.6L29.6 52.6L29.6 54.6L29.6 56.6L29.6 58.6L29.6 60.6L29.6 62.6L29.6 64.6L29.6 66.6L29.6 68.6L29.6 70.6L29.6 72.6L29.6 74.6L29.6 76.6L29.6 78.6L29.6 80.6L29.6 82.6L29.6 84.6L29.6 86.6L29.6 88.6L29.6 90.6L29.6 92.6L29.6 94.6L29.6 96.6L29.6 98.6L29.6 100.6L29.6 102.6L29.6 104.7L29.6 106.7L29.6 108.7L29.6 110.7L29.6 112.7L29.6 114.7L29.6 116.7L29.6 118.7L29.6 120.7L29.6 122.7L29.6 124.7L29.6 126.7L29.6 128.7L29.6 130.7L29.6 132.7L29.6 134.7L29.6 136.7L29.6 138.7L29.6 140.7L29.6 142.7L29.6 144.7L29.6 146.7L29.6 148.7L29.6 150.7L29.6 152.7L29.6 154.7L29.6 156.7L29.6 158.7L29.6 160.7L29.6 162.7L29.6 164.7L29.6 166.7L29.6 168.7L29.6 170.7L29.6 172.7L29.6 174.7L29.6 176.7L29.6 178.7L29.6 180.7L29.6 182.7L29.6 184.7L29.6 186.7L29.6 188.7L29.6 190.7L29.6 192.7L29.6 194.7L29.6 196.7L29.6 198.7L29.6 200.7L29.6 202.8L32 202.8Z"/>
<path fill="#ddf2d8" d="M32 202.8L34.4 202.8L36.8 202.8L39.3 202.8L41.7 202.8L44.1 202.8L46.5 202.8L48.9 202.8L51.3 202.8L53.8 202.8L56.2 202.8L58.6 202.8L61 202.8L63.4 202.8L65.8 202.8L68.2 202.8L70.7 202.8L73.1 202.8L75.5 202.8L77.9 202.8L80.3 202.8L82.7 202.8L85.1 202.8L87.6 202.8L90 202.8L92.4 202.8L94.8 202.8L97.2 202.8L99.6 202.8L102.1 202.8L104.5 202.8L106.9 202.8L109.3 202.8L111.7 202.8L114.1 202.8L116.5 202.8L119 202.8L121.4 202.8L123.8 202.8L126.2 202.8L128.6 202.8L131 202.8L133.5 202.8L135.9 202.8L138.3 202.8L140.7 202.8L143.1 202.8L145.5 202.8L147.9 202.8L150.4 202.8L152.8 202.8L155.2 202.8L157.6 202.8L160 202.8L162.4 202.8L164.8 202.8L167.3 202.8L169.7 202.8L172.1 202.8L174.5 202.8L176.9 202.8L179.3 202.8L181.8 202.8L184.2 202.8L186.6 202.8L189 202.8L191.4 202.8L193.8 202.8L196.2 202.8L198.7 202.8L201.1 202.8L203.5 202.8L205.9 202.8L208.3 202.8L210.7 202.8L213.2 202.8L215.6 202.8L218 202.8L220.4 202.8L222.8 202.8L225.2 202.8L227.6 202.8L230.1 202.8L232.5 202.8L234.9 202.8L237.3 202.8L239.7 202.8L242.1 202.8L244.5 202.8L247 202.8L249.4 202.8L251.8 202.8L254.2 202.8L256.6 202.8L259 202.8L261.5 202.8L263.9 202.8L266.3 202.8L268.7 202.8L268.7 200.7L268.7 198.7L268.7 196.7L268.7 194.7L268.7 192.7L268.7 190.7L268.7 188.7L268.7 186.7L268.7 184.7L268.7 182.7L268.7 180.7L268.7 179.1L266.3 179L263.9 178.9L261.5 178.7L259 178.6L256.6 178.5L254.2 178.4L251.8 178.2L249.4 178.1L247 178L244.5 177.8L242.1 177.7L239.7 177.5L237.3 177.4L234.9 177.2L232.5 177.1L230.1 176.9L227.6 176.8L227.2 176.7L225.2 176.6L222.8 176.4L220.4 176.3L218 176.1L215.6 176L213.2 175.8L210.7 175.6L208.3 175.4L205.9 175.2L203.5 175L201.1 174.8L199.9 174.7L198.7 174.6L196.2 174.4L193.8 174.2L191.4 174L189 173.8L186.6 173.6L184.2 173.4L181.8 173.1L179.3 172.9L178 172.7L176.9 172.6L174.5 172.4L172.1 172.1L169.7 171.9L167.3 171.6L164.8 171.3L162.4 171L160 170.7L157.6 170.4L155.2 170.1L152.8 169.8L150.4 169.5L147.9 169.1L145.5 168.8L145.1 168.7L143.1 168.4L140.7 168.1L138.3 167.7L135.9 167.3L133.5 166.9L132.6 166.7L131 166.4L128.6 166L126.2 165.6L123.8 165.1L122.1 164.7L121.4 164.6L119 164.1L116.5 163.5L114.1 163L113.1 162.7L111.7 162.4L109.3 161.8L106.9 161.2L105.3 160.7L104.5 160.5L102.1 159.8L99.6 159.1L98.6 158.7L97.2 158.3L94.8 157.5L92.7 156.7L92.4 156.6L90 155.7L87.6 154.7L85.1 153.7L83 152.7L82.7 152.6L80.3 151.4L79 150.7L77.9 150.1L75.5 148.8L75.4 148.7L73.1 147.3L72.2 146.7L70.7 145.7L69.3 144.7L68.2 143.9L66.7 142.7L65.8 142L64.3 140.7L63.4 139.9L62.2 138.7L61 137.5L60.3 136.7L58.6 134.8L58.5 134.7L56.8 132.7L56.2 131.8L55.4 130.7L54 128.7L53.8 128.3L52.7 126.7L51.5 124.7L51.3 124.3L50.5 122.7L49.5 120.7L48.9 119.5L48.5 118.7L47.6 116.7L46.8 114.7L46.5 113.8L46.1 112.7L45.4 110.7L44.7 108.7L44.1 106.7L43.5 104.7L42.9 102.6L42.4 100.6L41.9 98.6L41.7 97.5L41.5 96.6L41 94.6L40.6 92.6L40.2 90.6L39.9 88.6L39.5 86.6L39.3 85.1L39.2 84.6L38.9 82.6L38.5 80.6L38.3 78.6L38 76.6L37.7 74.6L37.5 72.6L37.2 70.6L37 68.6L36.8 66.9L36.8 66.6L36.6 64.6L36.4 62.6L36.2 60.6L36 58.6L35.8 56.6L35.7 54.6L35.5 52.6L35.3 50.6L35.2 48.6L35.1 46.6L34.9 44.6L34.8 42.6L34.7 40.6L34.6 38.6L34.4 36.6L34.4 36.3L34.3 34.6L34.2 32.6L34.1 30.6L34 28.6L33.9 26.6L33.8 24.6L33.7 22.6L33.6 20.6L33.5 18.6L33.4 16.6L33.3 14.6L33.2 12.6L33.2 10.6L33.1 8.6L33 6.6L32.9 4.6L32 4.6L29.6 4.6L29.6 6.6L29.6 8.6L29.6 10.6L29.6 12.6L29.6 14.6L29.6 16.6L29.6 18.6L29.6 20.6L29.6 22.6L29.6 24.6L29.6 26.6L29.6 28.6L29.6 30.6L29.6 32.6L29.6 34.6L29.6 36.6L29.6 38.6L29.6 40.6L29.6 42.6L29.6 44.6L29.6 46.6L29.6 48.6L29.6 50.6L29.6 52.6L29.6 54.6L29.6 56.6L29.6 58.6L29.6 60.6L29.6 62.6L29.6 64.6L29.6 66.6L29.6 68.6L29.6 70.6L29.6 72.6L29.6 74.6L29.6 76.6L29.6 78.6L29.6 80.6L29.6 82.6L29.6 84.6L29.6 86.6L29.6 88.6L29.6 90.6L29.6 92.6L29.6 94.6L29.6 96.6L29.6 98.6L29.6 100.6L29.6 102.6L29.6 104.7L29.6 106.7L29.6 108.7L29.6 110.7L29.6 112.7L29.6 114.7L29.6 116.7L29.6 118.7L29.6 120.7L29.6 122.7L29.6 124.7L29.6 126.7L29.6 128.7L29.6 130.7L29.6 132.7L29.6 134.7L29.6 136.7L29.6 138.7L29.6 140.7L29.6 142.7L29.6 144.7L29.6 146.7L29.6 148.7L29.6 150.7L29.6 152.7L29.6 154.7L29.6 156.7L29.6 158.7L29.6 160.7L29.6 162.7L29.6 164.7L29.6 166.7L29.6 168.7L29.6 170.7L29.6 172.7L29.6 174.7L29.6 176.7L29.6 178.7L29.6 180.7L29.6 182.7L29.6 184.7L29.6 186.7L29.6 188.7L29.6 190.7L29.6 192.7L29.6 194.7L29.6 196.7L29.6 198.7L29.6 200.7L29.6 202.8L32 202.8Z"/>
<path fill="#e1f3dc" d="M32 202.8L34.4 202.8L36.8 202.8L39.3 202.8L41.7 202.8L44.1 202.8L46.5 202.8L48.9 202.8L51.3 202.8L53.8 202.8L56.2 202.8L58.6 202.8L61 202.8L63.4 202.8L65.8 202.8L68.2 202.8L70.7 202.8L73.1 202.8L75.5 202.8L77.9 202.8L80.3 202.8L82.7 202.8L85.1 202.8L87.6 202.8L90 202.8L92.4 202.8L94.8 202.8L97.2 202.8L99.6 202.8L102.1 202.8L104.5 202.8L106.9 202.8L109.3 202.8L111.7 202.8L114.1 202.8L116.5 202.8L119 202.8L121.4 202.8L123.8 202.8L126.2 202.8L128.6 202.8L131 202.8L133.5 202.8L135.9 202.8L138.3 202.8L140.7 202.8L143.1 202.8L145.5 202.8L147.9 202.8L150.4 202.8L152.8 202.8L155.2 202.8L157.6 202.8L160 202.8L162.4 202.8L164.8 202.8L167.3 202.8L169.7 202.8L172.1 202.8L174.5 202.8L176.9 202.8L179.3 202.8L181.8 202.8L184.2 202.8L186.6 202.8L189 202.8L191.4 202.8L193.8 202.8L196.2 202.8L198.7 202.8L201.1 202.8L203.5 202.8L205.9 202.8L208.3 202.8L210.7 202.8L213.2 202.8L215.6 202.8L218 202.8L220.4 202.8L222.8 202.8L225.2 202.8L227.6 202.8L230.1 202.8L232.5 202.8L234.9 202.8L237.3 202.8L239.7 202.8L242.1 202.8L244.5 202.8L247 202.8L249.4 202.8L251.8 202.8L254.2 202.8L256.6 202.8L259 202.8L261.5 202.8L263.9 202.8L266.3 202.8L268.7 202.8L268.7 200.7L268.7 198.7L268.7 196.7L268.7 194.7L268.7 192.7L268.7 190.7L268.7 188.7L268.7 186.7L268.7 184.7L268.7 182.7L268.7 181.6L266.3 181.4L263.9 181.3L261.5 181.2L259 181.1L256.6 181L254.2 180.8L251.9 180.7L251.8 180.7L249.4 180.6L247 180.5L244.5 180.4L242.1 180.3L239.7 180.1L237.3 180L234.9 179.9L232.5 179.7L230.1 179.6L227.6 179.5L225.2 179.3L222.8 179.2L220.4 179L218 178.8L216.4 178.7L215.6 178.7L213.2 178.5L210.7 178.4L208.3 178.2L205.9 178.1L203.5 177.9L201.1 177.7L198.7 177.5L196.2 177.3L193.8 177.1L191.4 176.9L189 176.7L188.8 176.7L186.6 176.6L184.2 176.4L181.8 176.2L179.3 175.9L176.9 175.7L174.5 175.5L172.1 175.3L169.7 175L167.3 174.8L166.8 174.7L164.8 174.5L162.4 174.3L160 174L157.6 173.8L155.2 173.5L152.8 173.2L150.4 172.9L149.2 172.7L147.9 172.6L145.5 172.3L143.1 172L140.7 171.6L138.3 171.3L135.9 170.9L134.7 170.7L133.5 170.5L131 170.2L128.6 169.8L126.2 169.4L123.8 168.9L122.7 168.7L121.4 168.5L119 168L116.5 167.6L114.1 167L112.6 166.7L111.7 166.5L109.3 166L106.9 165.4L104.5 164.8L104.1 164.7L102.1 164.2L99.6 163.5L97.2 162.8L96.8 162.7L94.8 162.1L92.4 161.3L90.6 160.7L90 160.5L87.6 159.6L85.2 158.7L85.1 158.7L82.7 157.7L80.4 156.7L80.3 156.6L77.9 155.5L76.3 154.7L75.5 154.3L73.1 153L72.6 152.7L70.7 151.5L69.4 150.7L68.2 149.9L66.5 148.7L65.8 148.2L63.9 146.7L63.4 146.3L61.6 144.7L61 144.2L59.5 142.7L58.6 141.8L57.6 140.7L56.2 139.1L55.9 138.7L54.3 136.7L53.8 135.9L52.9 134.7L51.6 132.7L51.3 132.3L50.3 130.7L49.2 128.7L48.9 128.1L48.2 126.7L47.3 124.7L46.5 122.9L46.4 122.7L45.6 120.7L44.8 118.7L44.1 116.7L44.1 116.5L43.5 114.7L42.9 112.7L42.3 110.7L41.8 108.7L41.7 108.3L41.3 106.7L40.8 104.7L40.3 102.6L39.9 100.6L39.5 98.6L39.3 97.1L39.2 96.6L38.8 94.6L38.5 92.6L38.1 90.6L37.9 88.6L37.6 86.6L37.3 84.6L37.1 82.6L36.8 80.8L36.8 80.6L36.6 78.6L36.4 76.6L36.1 74.6L35.9 72.6L35.7 70.6L35.6 68.6L35.4 66.6L35.2 64.6L35.1 62.6L34.9 60.6L34.8 58.6L34.6 56.6L34.5 54.6L34.4 53.4L34.4 52.6L34.2 50.6L34.1 48.6L34 46.6L33.9 44.6L33.8 42.6L33.6 40.6L33.5 38.6L33.4 36.6L33.3 34.6L33.3 32.6L33.2 30.6L33.1 28.6L33 26.6L32.9 24.6L32.9 22.6L32.8 20.6L32.7 18.6L32.7 16.6L32.6 14.6L32.5 12.6L32.5 10.6L32.4 8.6L32.4 6.6L32.3 4.6L32 4.6L29.6 4.6L29.6 6.6L29.6 8.6L29.6 10.6L29.6 12.6L29.6 14.6L29.6 16.6L29.6 18.6L29.6 20.6L29.6 22.6L29.6 24.6L29.6 26.6L29.6 28.6L29.6 30.6L29.6 32.6L29.6 34.6L29.6 36.6L29.6 38.6L29.6 40.6L29.6 42.6L29.6 44.6L29.6 46.6L29.6 48.6L29.6 50.6L29.6 52.6L29.6 54.6L29.6 56.6L29.6 58.6L29.6 60.6L29.6 62.6L29.6 64.6L29.6 66.6L29.6 68.6L29.6 70.6L29.6 72.6L29.6 74.6L29.6 76.6L29.6 78.6L29.6 80.6L29.6 82.6L29.6 84.6L29.6 86.6L29.6 88.6L29.6 90.6L29.6 92.6L29.6 94.6L29.6 96.6L29.6 98.6L29.6 100.6L29.6 102.6L29.6 104.7L29.6 106.7L29.6 108.7L29.6 110.7L29.6 112.7L29.6 114.7L29.6 116.7L29.6 118.7L29.6 120.7L29.6 122.7L29.6 124.7L29.6 126.7L29.6 128.7L29.6 130.7L29.6 132.7L29.6 134.7L29.6 136.7L29.6 138.7L29.6 140.7L29.6 142.7L29.6 144.7L29.6 146.7L29.6 148.7L29.6 150.7L29.6 152.7L29.6 154.7L29.6 156.7L29.6 158.7L29.6 160.7L29.6 162.7L29.6 164.7L29.6 166.7L29.6 168.7L29.6 170.7L29.6 172.7L29.6 174.7L29.6 176.7L29.6 178.7L29.6 180.7L29.6 182.7L29.6 184.7L29.6 186.7L29.6 188.7L29.6 190.7L29.6 192.7L29.6 194.7L29.6 196.7L29.6 198.7L29.6 200.7L29.6 202.8L32 202.8Z"/>
<path fill="#e5f5e1" d="M32 202.8L34.4 202.8L36.8 202.8L39.3 202.8L41.7 202.8L44.1 202.8L46.5 202.8L48.9 202.8L51.3 202.8L53.8 202.8L56.2 202.8L58.6 202.8L61 202.8L63.4 202.8L65.8 202.8L68.2 202.8L70.7 202.8L73.1 202.8L75.5 202.8L77.9 202.8L80.3 202.8L82.7 202.8L85.1 202.8L87.6 202.8L90 202.8L92.4 202.8L94.8 202.8L97.2 202.8L99.6 202.8L102.1 202.8L104.5 202.8L106.9 202.8L109.3 202.8L111.7 202.8L114.1 202.8L116.5 202.8L119 202.8L121.4 202.8L123.8 202.8L126.2 202.8L128.6 202.8L131 202.8L133.5 202.8L135.9 202.8L138.3 202.8L140.7 202.8L143.1 202.8L145.5 202.8L147.9 202.8L150.4 202.8L152.8 202.8L155.2 202.8L157.6 202.8L160 202.8L162.4 202.8L164.8 202.8L167.3 202.8L169.7 202.8L172.1 202.8L174.5 202.8L176.9 202.8L179.3 202.8L181.8 202.8L184.2 202.8L186.6 202.8L189 202.8L191.4 202.8L193.8 202.8L196.2 202.8L198.7 202.8L201.1 202.8L203.5 202.8L205.9 202.8L208.3 202.8L210.7 202.8L213.2 202.8L215.6 202.8L218 202.8L220.4 202.8L222.8 202.8L225.2 202.8L227.6 202.8L230.1 202.8L232.5 202.8L234.9 202.8L237.3 202.8L239.7 202.8L242.1 202.8L244.5 202.8L247 202.8L249.4 202.8L251.8 202.8L254.2 202.8L256.6 202.8L259 202.8L261.5 202.8L263.9 202.8L266.3 202.8L268.7 202.8L268.7 200.7L268.7 198.7L268.7 196.7L268.7 194.7L268.7 192.7L268.7 190.7L268.7 188.7L268.7 186.7L268.7 184.7L268.7 184.5L266.3 184.4L263.9 184.4L261.5 184.3L259 184.2L256.6 184.1L254.2 184L251.8 183.9L249.4 183.8L247 183.7L244.5 183.6L242.1 183.4L239.7 183.3L237.3 183.2L234.9 183.1L232.5 183L230.1 182.8L228 182.7L227.6 182.7L225.2 182.6L222.8 182.5L220.4 182.4L218 182.2L215.6 182.1L213.2 182L210.7 181.8L208.3 181.7L205.9 181.6L203.5 181.4L201.1 181.2L198.7 181.1L196.2 180.9L193.8 180.7L193.6 180.7L191.4 180.6L189 180.4L186.6 180.3L184.2 180.1L181.8 179.9L179.3 179.7L176.9 179.6L174.5 179.4L172.1 179.2L169.7 178.9L167.4 178.7L167.3 178.7L164.8 178.5L162.4 178.3L160 178.1L157.6 177.9L155.2 177.6L152.8 177.4L150.4 177.1L147.9 176.8L147 176.7L145.5 176.6L143.1 176.3L140.7 176L138.3 175.7L135.9 175.4L133.5 175.1L131 174.8L130.8 174.7L128.6 174.4L126.2 174.1L123.8 173.7L121.4 173.3L119 172.9L117.8 172.7L116.5 172.5L114.1 172.1L111.7 171.7L109.3 171.2L107.1 170.7L106.9 170.7L104.5 170.2L102.1 169.6L99.6 169.1L98.2 168.7L97.2 168.5L94.8 167.9L92.4 167.2L90.8 166.7L90 166.5L87.6 165.7L85.1 164.9L84.6 164.7L82.7 164.1L80.3 163.2L79.2 162.7L77.9 162.2L75.5 161.1L74.6 160.7L73.1 160L70.7 158.7L70.6 158.7L68.2 157.4L67.1 156.7L65.8 155.9L64 154.7L63.4 154.3L61.3 152.7L61 152.4L58.9 150.7L58.6 150.4L56.8 148.7L56.2 148.1L54.9 146.7L53.8 145.4L53.2 144.7L51.6 142.7L51.3 142.3L50.2 140.7L49 138.7L48.9 138.6L47.8 136.7L46.8 134.7L46.5 134.2L45.8 132.7L44.9 130.7L44.1 128.7L43.3 126.7L42.6 124.7L42 122.7L41.7 121.6L41.4 120.7L40.8 118.7L40.3 116.7L39.8 114.7L39.4 112.7L39.3 112L39 110.7L38.6 108.7L38.2 106.7L37.8 104.7L37.5 102.6L37.2 100.6L36.9 98.6L36.8 98L36.7 96.6L36.4 94.6L36.1 92.6L35.9 90.6L35.7 88.6L35.5 86.6L35.3 84.6L35.1 82.6L34.9 80.6L34.7 78.6L34.6 76.6L34.4 74.6L34.4 74.4L34.3 72.6L34.1 70.6L34 68.6L33.8 66.6L33.7 64.6L33.6 62.6L33.5 60.6L33.4 58.6L33.3 56.6L33.2 54.6L33.1 52.6L33 50.6L32.9 48.6L32.8 46.6L32.7 44.6L32.6 42.6L32.6 40.6L32.5 38.6L32.4 36.6L32.4 34.6L32.3 32.6L32.3 30.6L32.2 28.6L32.1 26.6L32.1 24.6L32 22.6L32 21.3L32 20.6L31.9 18.6L31.9 16.6L31.8 14.6L31.7 12.6L31.7 10.6L31.6 8.6L31.6 6.6L31.5 4.6L29.6 4.6L29.6 6.6L29.6 8.6L29.6 10.6L29.6 12.6L29.6 14.6L29.6 16.6L29.6 18.6L29.6 20.6L29.6 22.6L29.6 24.6L29.6 26.6L29.6 28.6L29.6 30.6L29.6 32.6L29.6 34.6L29.6 36.6L29.6 38.6L29.6 40.6L29.6 42.6L29.6 44.6L29.6 46.6L29.6 48.6L29.6 50.6L29.6 52.6L29.6 54.6L29.6 56.6L29.6 58.6L29.6 60.6L29.6 62.6L29.6 64.6L29.6 66.6L29.6 68.6L29.6 70.6L29.6 72.6L29.6 74.6L29.6 76.6L29.6 78.6L29.6 80.6L29.6 82.6L29.6 84.6L29.6 86.6L29.6 88.6L29.6 90.6L29.6 92.6L29.6 94.6L29.6 96.6L29.6 98.6L29.6 100.6L29.6 102.6L29.6 104.7L29.6 106.7L29.6 108.7L29.6 110.7L29.6 112.7L29.6 114.7L29.6 116.7L29.6 118.7L29.6 120.7L29.6 122.7L29.6 124.7L29.6 126.7L29.6 128.7L29.6 130.7L29.6 132.7L29.6 134.7L29.6 136.7L29.6 138.7L29.6 140.7L29.6 142.7L29.6 144.7L29.6 146.7L29.6 148.7L29.6 150.7L29.6 152.7L29.6 154.7L29.6 156.7L29.6 158.7L29.6 160.7L29.6 162.7L29.6 164.7L29.6 166.7L29.6 168.7L29.6 170.7L29.6 172.7L29.6 174.7L29.6 176.7L29.6 178.7L29.6 180.7L29.6 182.7L29.6 184.7L29.6 186.7L29.6 188.7L29.6 190.7L29.6 192.7L29.6 194.7L29.6 196.7L29.6 198.7L29.6 200.7L29.6 202.8L32 202.8Z"/>
<path fill="#e8f6e3" d="M32 202.8L34.4 202.8L36.8 202.8L39.3 202.8L41.7 202.8L44.1 202.8L46.5 202.8L48.9 202.8L51.3 202.8L53.8 202.8L56.2 202.8L58.6 202.8L61 202.8L63.4 202.8L65.8 202.8L68.2 202.8L70.7 202.8L73.1 202.8L75.5 202.8L77.9 202.8L80.3 202.8L82.7 202.8L85.1 202.8L87.6 202.8L90 202.8L92.4 202.8L94.8 202.8L97.2 202.8L99.6 202.8L102.1 202.8L104.5 202.8L106.9 202.8L109.3 202.8L111.7 202.8L114.1 202.8L116.5 202.8L119 202.8L121.4 202.8L123.8 202.8L126.2 202.8L128.6 202.8L131 202.8L133.5 202.8L135.9 202.8L138.3 202.8L140.7 202.8L143.1 202.8L145.5 202.8L147.9 202.8L150.4 202.8L152.8 202.8L155.2 202.8L157.6 202.8L160 202.8L162.4 202.8L164.8 202.8L167.3 202.8L169.7 202.8L172.1 202.8L174.5 202.8L176.9 202.8L179.3 202.8L181.8 202.8L184.2 202.8L186.6 202.8L189 202.8L191.4 202.8L193.8 202.8L196.2 202.8L198.7 202.8L201.1 202.8L203.5 202.8L205.9 202.8L208.3 202.8L210.7 202.8L213.2 202.8L215.6 202.8L218 202.8L220.4 202.8L222.8 202.8L225.2 202.8L227.6 202.8L230.1 202.8L232.5 202.8L234.9 202.8L237.3 202.8L239.7 202.8L242.1 202.8L244.5 202.8L247 202.8L249.4 202.8L251.8 202.8L254.2 202.8L256.6 202.8L259 202.8L261.5 202.8L263.9 202.8L266.3 202.8L268.7 202.8L268.7 200.7L268.7 198.7L268.7 196.7L268.7 194.7L268.7 192.7L268.7 190.7L268.7 188.7L266.3 188.6L263.9 188.6L261.5 188.5L259 188.4L256.6 188.4L254.2 188.3L251.8 188.2L249.4 188.1L247 188.1L244.5 188L242.1 187.9L239.7 187.8L237.3 187.7L234.9 187.6L232.5 187.5L230.1 187.4L227.6 187.3L225.2 187.2L222.8 187.1L220.4 187L218 186.9L215.6 186.8L213.8 186.7L213.2 186.7L210.7 186.6L208.3 186.5L205.9 186.4L203.5 186.3L201.1 186.2L198.7 186.1L196.2 186L193.8 185.8L191.4 185.7L189 185.6L186.6 185.4L184.2 185.3L181.8 185.2L179.3 185L176.9 184.9L175.1 184.7L174.5 184.7L172.1 184.6L169.7 184.4L167.3 184.3L164.8 184.1L162.4 183.9L160 183.8L157.6 183.6L155.2 183.4L152.8 183.2L150.4 183L147.9 182.8L147.5 182.7L145.5 182.6L143.1 182.4L140.7 182.2L138.3 181.9L135.9 181.7L133.5 181.5L131 181.2L128.6 180.9L127 180.7L126.2 180.6L123.8 180.4L121.4 180.1L119 179.8L116.5 179.5L114.1 179.1L111.7 178.8L111.5 178.7L109.3 178.4L106.9 178.1L104.5 177.7L102.1 177.2L99.6 176.8L99.4 176.7L97.2 176.3L94.8 175.9L92.4 175.3L90 174.8L89.7 174.7L87.6 174.2L85.1 173.6L82.7 172.9L82 172.7L80.3 172.2L77.9 171.5L75.6 170.7L75.5 170.7L73.1 169.8L70.7 168.8L70.4 168.7L68.2 167.8L66 166.7L65.8 166.6L63.4 165.4L62.2 164.7L61 164L59.1 162.7L58.6 162.4L56.3 160.7L56.2 160.6L54 158.7L53.8 158.5L51.9 156.7L51.3 156.1L50.1 154.7L48.9 153.3L48.5 152.7L47 150.7L46.5 149.9L45.8 148.7L44.6 146.7L44.1 145.7L43.6 144.7L42.7 142.7L41.9 140.7L41.7 140.2L41.1 138.7L40.4 136.7L39.8 134.7L39.3 132.8L39.2 132.7L38.7 130.7L38.2 128.7L37.7 126.7L37.3 124.7L37 122.7L36.8 122L36.6 120.7L36.3 118.7L35.9 116.7L35.6 114.7L35.4 112.7L35.1 110.7L34.9 108.7L34.7 106.7L34.5 104.7L34.4 103.9L34.3 102.6L34.1 100.6L33.9 98.6L33.7 96.6L33.6 94.6L33.4 92.6L33.3 90.6L33.2 88.6L33 86.6L32.9 84.6L32.8 82.6L32.7 80.6L32.6 78.6L32.5 76.6L32.4 74.6L32.4 72.6L32.3 70.6L32.2 68.6L32.1 66.6L32.1 64.6L32 62.9L32 62.6L31.9 60.6L31.8 58.6L31.7 56.6L31.7 54.6L31.6 52.6L31.5 50.6L31.5 48.6L31.4 46.6L31.3 44.6L31.3 42.6L31.2 40.6L31.2 38.6L31.1 36.6L31.1 34.6L31 32.6L31 30.6L30.9 28.6L30.9 26.6L30.9 24.6L30.8 22.6L30.8 20.6L30.8 18.6L30.7 16.6L30.7 14.6L30.7 12.6L30.6 10.6L30.6 8.6L30.6 6.6L30.6 4.6L29.6 4.6L29.6 6.6L29.6 8.6L29.6 10.6L29.6 12.6L29.6 14.6L29.6 16.6L29.6 18.6L29.6 20.6L29.6 22.6L29.6 24.6L29.6 26.6L29.6 28.6L29.6 30.6L29.6 32.6L29.6 34.6L29.6 36.6L29.6 38.6L29.6 40.6L29.6 42.6L29.6 44.6L29.6 46.6L29.6 48.6L29.6 50.6L29.6 52.6L29.6 54.6L29.6 56.6L29.6 58.6L29.6 60.6L29.6 62.6L29.6 64.6L29.6 66.6L29.6 68.6L29.6 70.6L29.6 72.6L29.6 74.6L29.6 76.6L29.6 78.6L29.6 80.6L29.6 82.6L29.6 84.6L29.6 86.6L29.6 88.6L29.6 90.6L29.6 92.6L29.6 94.6L29.6 96.6L29.6 98.6L29.6 100.6L29.6 102.6L29.6 104.7L29.6 106.7L29.6 108.7L29.6 110.7L29.6 112.7L29.6 114.7L29.6 116.7L29.6 118.7L29.6 120.7L29.6 122.7L29.6 124.7L29.6 126.7L29.6 128.7L29.6 130.7L29.6 132.7L29.6 134.7L29.6 136.7L29.6 138.7L29.6 140.7L29.6 142.7L29.6 144.7L29.6 146.7L29.6 148.7L29.6 150.7L29.6 152.7L29.6 154.7L29.6 156.7L29.6 158.7L29.6 160.7L29.6 162.7L29.6 164.7L29.6 166.7L29.6 168.7L29.6 170.7L29.6 172.7L29.6 174.7L29.6 176.7L29.6 178.7L29.6 180.7L29.6 182.7L29.6 184.7L29.6 186.7L29.6 188.7L29.6 190.7L29.6 192.7L29.6 194.7L29.6 196.7L29.6 198.7L29.6 200.7L29.6 202.8L32 202.8Z"/>
<clipPath id="fc"><path d="M32 202.8L34.4 202.8L36.8 202.8L39.3 202.8L41.7 202.8L44.1 202.8L46.5 202.8L48.9 202.8L51.3 202.8L53.8 202.8L56.2 202.8L58.6 202.8L61 202.8L63.4 202.8L65.8 202.8L68.2 202.8L70.7 202.8L73.1 202.8L75.5 202.8L77.9 202.8L80.3 202.8L82.7 202.8L85.1 202.8L87.6 202.8L90 202.8L92.4 202.8L94.8 202.8L97.2 202.8L99.6 202.8L102.1 202.8L104.5 202.8L106.9 202.8L109.3 202.8L111.7 202.8L114.1 202.8L116.5 202.8L119 202.8L121.4 202.8L123.8 202.8L126.2 202.8L128.6 202.8L131 202.8L133.5 202.8L135.9 202.8L138.3 202.8L140.7 202.8L143.1 202.8L145.5 202.8L147.9 202.8L150.4 202.8L152.8 202.8L155.2 202.8L157.6 202.8L160 202.8L162.4 202.8L164.8 202.8L167.3 202.8L169.7 202.8L172.1 202.8L174.5 202.8L176.9 202.8L179.3 202.8L181.8 202.8L184.2 202.8L186.6 202.8L189 202.8L191.4 202.8L193.8 202.8L196.2 202.8L198.7 202.8L201.1 202.8L203.5 202.8L205.9 202.8L208.3 202.8L210.7 202.8L213.2 202.8L215.6 202.8L218 202.8L220.4 202.8L222.8 202.8L225.2 202.8L227.6 202.8L230.1 202.8L232.5 202.8L234.9 202.8L237.3 202.8L239.7 202.8L242.1 202.8L244.5 202.8L247 202.8L249.4 202.8L251.8 202.8L254.2 202.8L256.6 202.8L259 202.8L261.5 202.8L263.9 202.8L266.3 202.8L268.7 202.8L268.7 200.7L268.7 198.7L268.7 196.7L268.7 194.7L268.7 192.7L268.7 190.7L268.7 188.7L268.7 186.7L268.7 184.7L268.7 182.7L268.7 180.7L268.7 178.7L268.7 176.7L268.7 174.7L268.7 172.7L268.7 170.7L268.7 168.7L268.7 166.7L268.7 164.7L268.7 162.7L268.7 160.7L268.7 158.7L268.7 156.7L268.7 154.7L268.7 152.7L268.7 150.7L268.7 148.7L266.3 148.7L263.9 148.7L261.5 146.7L259 146.7L256.6 146.7L254.2 146.7L251.8 146.7L249.4 146.7L247 144.7L244.5 144.7L242.1 144.7L239.7 144.7L237.3 144.7L234.9 144.7L232.5 142.7L230.1 142.7L227.6 142.7L225.2 142.7L222.8 142.7L220.4 142.7L218 140.7L215.6 140.7L213.2 140.7L210.7 140.7L208.3 138.7L205.9 138.7L203.5 138.7L201.1 138.7L198.7 138.7L196.2 136.7L193.8 136.7L191.4 136.7L189 136.7L186.6 134.7L184.2 134.7L181.8 134.7L179.3 134.7L176.9 132.7L174.5 132.7L172.1 132.7L169.7 130.7L167.3 130.7L164.8 130.7L162.4 128.7L160 128.7L157.6 128.7L155.2 126.7L152.8 126.7L150.4 126.7L147.9 124.7L145.5 124.7L143.1 122.7L140.7 122.7L138.3 120.7L135.9 120.7L133.5 120.7L131 118.7L128.6 118.7L126.2 116.7L123.8 114.7L121.4 114.7L119 112.7L116.5 112.7L114.1 110.7L111.7 108.7L109.3 108.7L106.9 106.7L104.5 104.7L102.1 102.6L99.6 100.6L97.2 98.6L94.8 98.6L92.4 96.6L90 94.6L90 92.6L87.6 90.6L85.1 88.6L82.7 86.6L80.3 84.6L80.3 82.6L77.9 80.6L75.5 78.6L75.5 76.6L73.1 74.6L70.7 72.6L70.7 70.6L68.2 68.6L68.2 66.6L65.8 64.6L65.8 62.6L65.8 60.6L63.4 58.6L63.4 56.6L61 54.6L61 52.6L61 50.6L58.6 48.6L58.6 46.6L58.6 44.6L56.2 42.6L56.2 40.6L56.2 38.6L56.2 36.6L53.8 34.6L53.8 32.6L53.8 30.6L53.8 28.6L51.3 26.6L51.3 24.6L51.3 22.6L51.3 20.6L48.9 18.6L48.9 16.6L48.9 14.6L48.9 12.6L48.9 10.6L48.9 8.6L46.5 6.6L46.5 4.6L44.1 4.6L41.7 4.6L39.3 4.6L36.8 4.6L34.4 4.6L32 4.6L29.6 4.6L29.6 6.6L29.6 8.6L29.6 10.6L29.6 12.6L29.6 14.6L29.6 16.6L29.6 18.6L29.6 20.6L29.6 22.6L29.6 24.6L29.6 26.6L29.6 28.6L29.6 30.6L29.6 32.6L29.6 34.6L29.6 36.6L29.6 38.6L29.6 40.6L29.6 42.6L29.6 44.6L29.6 46.6L29.6 48.6L29.6 50.6L29.6 52.6L29.6 54.6L29.6 56.6L29.6 58.6L29.6 60.6L29.6 62.6L29.6 64.6L29.6 66.6L29.6 68.6L29.6 70.6L29.6 72.6L29.6 74.6L29.6 76.6L29.6 78.6L29.6 80.6L29.6 82.6L29.6 84.6L29.6 86.6L29.6 88.6L29.6 90.6L29.6 92.6L29.6 94.6L29.6 96.6L29.6 98.6L29.6 100.6L29.6 102.6L29.6 104.7L29.6 106.7L29.6 108.7L29.6 110.7L29.6 112.7L29.6 114.7L29.6 116.7L29.6 118.7L29.6 120.7L29.6 122.7L29.6 124.7L29.6 126.7L29.6 128.7L29.6 130.7L29.6 132.7L29.6 134.7L29.6 136.7L29.6 138.7L29.6 140.7L29.6 142.7L29.6 144.7L29.6 146.7L29.6 148.7L29.6 150.7L29.6 152.7L29.6 154.7L29.6 156.7L29.6 158.7L29.6 160.7L29.6 162.7L29.6 164.7L29.6 166.7L29.6 168.7L29.6 170.7L29.6 172.7L29.6 174.7L29.6 176.7L29.6 178.7L29.6 180.7L29.6 182.7L29.6 184.7L29.6 186.7L29.6 188.7L29.6 190.7L29.6 192.7L29.6 194.7L29.6 196.7L29.6 198.7L29.6 200.7L29.6 202.8L32 202.8Z"/></clipPath>
<path d="M266.3 148.7L263.9 148.7L261.5 146.7L259.0 146.7L256.6 146.7L254.2 146.7L251.8 146.7L249.4 146.7L247.0 144.7L244.5 144.7L242.1 144.7L239.7 144.7L237.3 144.7L234.9 144.7L232.5 142.7L230.1 142.7L227.6 142.7L225.2 142.7L222.8 142.7L220.4 142.7L218.0 140.7L215.6 140.7L213.2 140.7L210.7 140.7L208.3 138.7L205.9 138.7L203.5 138.7L201.1 138.7L198.7 138.7L196.2 136.7L193.8 136.7L191.4 136.7L189.0 136.7L186.6 134.7L184.2 134.7L181.8 134.7L179.3 134.7L176.9 132.7L174.5 132.7L172.1 132.7L169.7 130.7L167.3 130.7L164.8 130.7L162.4 128.7L160.0 128.7L157.6 128.7L155.2 126.7L152.8 126.7L150.4 126.7L147.9 124.7L145.5 124.7L143.1 122.7L140.7 122.7L138.3 120.7L135.9 120.7L133.5 120.7L131.0 118.7L128.6 118.7L126.2 116.7L123.8 114.7L121.4 114.7L119.0 112.7L116.5 112.7L114.1 110.7L111.7 108.7L109.3 108.7L106.9 106.7L104.5 104.7L102.1 102.6L99.6 100.6L97.2 98.6L94.8 98.6L92.4 96.6L90.0 94.6L90.0 92.6L87.6 90.6L85.1 88.6L82.7 86.6L80.3 84.6L80.3 82.6L77.9 80.6L75.5 78.6L75.5 76.6L73.1 74.6L70.7 72.6L70.7 70.6L68.2 68.6L68.2 66.6L65.8 64.6L65.8 62.6L65.8 60.6L63.4 58.6L63.4 56.6L61.0 54.6L61.0 52.6L61.0 50.6L58.6 48.6L58.6 46.6L58.6 44.6L56.2 42.6L56.2 40.6L56.2 38.6L56.2 36.6L53.8 34.6L53.8 32.6L53.8 30.6L53.8 28.6L51.3 26.6L51.3 24.6L51.3 22.6L51.3 20.6L48.9 18.6L48.9 16.6L48.9 14.6L48.9 12.6L48.9 10.6L48.9 8.6L46.5 6.6" fill="none" stroke="#00441b" stroke-opacity="0.35" stroke-width="2.0" stroke-linejoin="miter" clip-path="url(#fc)"/>
</g>
<rect x="291.0" y="4.55" width="9.5" height="198.2" fill="url(#cb)"/>
<path d="M44.54 202.75L44.54 199.35M44.54 4.55L44.54 7.95M59.49 202.75L59.49 199.35M59.49 4.55L59.49 7.95M74.43 202.75L74.43 199.35M74.43 4.55L74.43 7.95M104.32 202.75L104.32 199.35M104.32 4.55L104.32 7.95M119.26 202.75L119.26 199.35M119.26 4.55L119.26 7.95M134.21 202.75L134.21 199.35M134.21 4.55L134.21 7.95M164.09 202.75L164.09 199.35M164.09 4.55L164.09 7.95M179.04 202.75L179.04 199.35M179.04 4.55L179.04 7.95M193.98 202.75L193.98 199.35M193.98 4.55L193.98 7.95M223.87 202.75L223.87 199.35M223.87 4.55L223.87 7.95M238.81 202.75L238.81 199.35M238.81 4.55L238.81 7.95M253.76 202.75L253.76 199.35M253.76 4.55L253.76 7.95M29.60 194.82L33.00 194.82M268.70 194.82L265.30 194.82M29.60 186.89L33.00 186.89M268.70 186.89L265.30 186.89M29.60 178.97L33.00 178.97M268.70 178.97L265.30 178.97M29.60 171.04L33.00 171.04M268.70 171.04L265.30 171.04M29.60 155.18L33.00 155.18M268.70 155.18L265.30 155.18M29.60 147.25L33.00 147.25M268.70 147.25L265.30 147.25M29.60 139.33L33.00 139.33M268.70 139.33L265.30 139.33M29.60 131.40L33.00 131.40M268.70 131.40L265.30 131.40M29.60 115.54L33.00 115.54M268.70 115.54L265.30 115.54M29.60 107.61L33.00 107.61M268.70 107.61L265.30 107.61M29.60 99.69L33.00 99.69M268.70 99.69L265.30 99.69M29.60 91.76L33.00 91.76M268.70 91.76L265.30 91.76M29.60 75.90L33.00 75.90M268.70 75.90L265.30 75.90M29.60 67.97L33.00 67.97M268.70 67.97L265.30 67.97M29.60 60.05L33.00 60.05M268.70 60.05L265.30 60.05M29.60 52.12L33.00 52.12M268.70 52.12L265.30 52.12M29.60 36.26L33.00 36.26M268.70 36.26L265.30 36.26M29.60 28.33L33.00 28.33M268.70 28.33L265.30 28.33M29.60 20.41L33.00 20.41M268.70 20.41L265.30 20.41M29.60 12.48L33.00 12.48M268.70 12.48L265.30 12.48M300.50 194.82L297.10 194.82M300.50 186.89L297.10 186.89M300.50 178.97L297.10 178.97M300.50 171.04L297.10 171.04M300.50 155.18L297.10 155.18M300.50 147.25L297.10 147.25M300.50 139.33L297.10 139.33M300.50 131.40L297.10 131.40M300.50 115.54L297.10 115.54M300.50 107.61L297.10 107.61M300.50 99.69L297.10 99.69M300.50 91.76L297.10 91.76M300.50 75.90L297.10 75.90M300.50 67.97L297.10 67.97M300.50 60.05L297.10 60.05M300.50 52.12L297.10 52.12M300.50 36.26L297.10 36.26M300.50 28.33L297.10 28.33M300.50 20.41L297.10 20.41M300.50 12.48L297.10 12.48" stroke="#000" stroke-width="1.0" fill="none"/>
<path d="M29.60 202.75L29.60 197.15M29.60 4.55L29.60 10.15M89.38 202.75L89.38 197.15M89.38 4.55L89.38 10.15M149.15 202.75L149.15 197.15M149.15 4.55L149.15 10.15M208.93 202.75L208.93 197.15M208.93 4.55L208.93 10.15M268.70 202.75L268.70 197.15M268.70 4.55L268.70 10.15M29.60 202.75L35.20 202.75M268.70 202.75L263.10 202.75M29.60 163.11L35.20 163.11M268.70 163.11L263.10 163.11M29.60 123.47L35.20 123.47M268.70 123.47L263.10 123.47M29.60 83.83L35.20 83.83M268.70 83.83L263.10 83.83M29.60 44.19L35.20 44.19M268.70 44.19L263.10 44.19M29.60 4.55L35.20 4.55M268.70 4.55L263.10 4.55M300.50 202.75L294.90 202.75M300.50 163.11L294.90 163.11M300.50 123.47L294.90 123.47M300.50 83.83L294.90 83.83M300.50 44.19L294.90 44.19M300.50 4.55L294.90 4.55" stroke="#000" stroke-width="1.2" fill="none"/>
<g clip-path="url(#axc)">
<path d="M36.4 4.6L36.5 6.6L36.6 8.6L36.8 10.6L36.8 11.0L37.0 12.6L37.1 14.6L37.3 16.6L37.4 18.6L37.6 20.6L37.8 22.6L38.0 24.6L38.2 26.6L38.4 28.6L38.6 30.6L38.8 32.6L39.0 34.6L39.2 36.6L39.3 36.7L39.5 38.6L39.7 40.6L40.0 42.6L40.2 44.6L40.5 46.6L40.8 48.6L41.1 50.6L41.4 52.6L41.7 54.3L41.7 54.6L42.1 56.6L42.4 58.6L42.8 60.6L43.1 62.6L43.5 64.6L44.0 66.6L44.1 67.2L44.4 68.6L44.8 70.6L45.3 72.6L45.8 74.6L46.3 76.6L46.5 77.3L46.9 78.6L47.4 80.6L48.0 82.6L48.7 84.6L48.9 85.4L49.3 86.6L50.0 88.6L50.8 90.6L51.3 92.1L51.6 92.6L52.4 94.6L53.2 96.6L53.8 97.8L54.2 98.6L55.1 100.6L56.2 102.6L56.2 102.6L57.3 104.7L58.4 106.7L58.6 106.9L59.7 108.7L61.0 110.7L61.0 110.7L62.4 112.7L63.4 114.0L63.9 114.7L65.5 116.7L65.8 117.0L67.3 118.7L68.2 119.7L69.1 120.7L70.7 122.2L71.1 122.7L73.1 124.5L73.3 124.7L75.5 126.6L75.6 126.7L77.9 128.5L78.1 128.7L80.3 130.3L80.9 130.7L82.7 132.0L83.8 132.7L85.1 133.5L87.1 134.7L87.6 135.0L90.0 136.3L90.6 136.7L92.4 137.6L94.5 138.7L94.8 138.9L97.2 140.0L98.7 140.7L99.6 141.1L102.1 142.1L103.4 142.7L104.5 143.1L106.9 144.1L108.6 144.7L109.3 145.0L111.7 145.8L114.1 146.6L114.3 146.7L116.5 147.4L119.0 148.2L120.7 148.7L121.4 148.9L123.8 149.6L126.2 150.3L127.9 150.7L128.6 150.9L131.0 151.5L133.5 152.1L135.9 152.7L135.9 152.7L138.3 153.3L140.7 153.8L143.1 154.3L144.9 154.7L145.5 154.8L147.9 155.3L150.4 155.8L152.8 156.3L155.2 156.7L155.2 156.7L157.6 157.2L160.0 157.6L162.4 158.0L164.8 158.4L166.9 158.7L167.3 158.8L169.7 159.2L172.1 159.5L174.5 159.9L176.9 160.2L179.3 160.6L180.2 160.7L181.8 160.9L184.2 161.3L186.6 161.6L189.0 161.9L191.4 162.2L193.8 162.5L195.7 162.7L196.2 162.8L198.7 163.1L201.1 163.4L203.5 163.6L205.9 163.9L208.3 164.2L210.7 164.4L213.2 164.7L213.6 164.7L215.6 164.9L218.0 165.2L220.4 165.4L222.8 165.6" fill="none" stroke="#000" stroke-width="1.4"/>
<path d="M247.0 167.8L249.4 168.0L251.8 168.2L254.2 168.3L256.6 168.5L259.0 168.7L259.5 168.7L261.5 168.9L263.9 169.0L266.3 169.2L268.7 169.4" fill="none" stroke="#000" stroke-width="1.4"/>
<line x1="89.38" y1="4.55" x2="89.38" y2="35.0" stroke="#f00" stroke-width="1.4" stroke-dasharray="5.0 1.77"/>
<line x1="89.38" y1="70.0" x2="89.38" y2="202.75" stroke="#f00" stroke-width="1.4" stroke-dasharray="5.14 2.22"/>
</g>
<rect x="80.12" y="37.71" width="18.50" height="31.38" fill="#fff"/>
<text transform="translate(93.17 53.40) rotate(-90)" text-anchor="middle" font-size="12.5" font-weight="400" fill="#f00" stroke="#f00" stroke-width="0.45">AUG</text>
<text transform="translate(235.15 165.86) rotate(5.03)" text-anchor="middle" font-size="11.1" dy="4.00" stroke="#000" stroke-width="0.3">0.9</text>
<rect x="29.6" y="4.55" width="239.1" height="198.2" fill="none" stroke="#000" stroke-width="1.35"/>
<rect x="291.0" y="4.55" width="9.5" height="198.2" fill="none" stroke="#000" stroke-width="1.35"/>
<g font-size="12.6" stroke="#000" stroke-width="0.3">
<text x="29.60" y="218.0" text-anchor="middle">0.0</text>
<text x="89.38" y="218.0" text-anchor="middle">0.2</text>
<text x="149.15" y="218.0" text-anchor="middle">0.4</text>
<text x="208.93" y="218.0" text-anchor="middle">0.6</text>
<text x="268.70" y="218.0" text-anchor="middle">0.8</text>
<text x="24.1" y="207.30" text-anchor="end">0</text>
<text x="24.1" y="167.66" text-anchor="end">1</text>
<text x="24.1" y="128.02" text-anchor="end">2</text>
<text x="24.1" y="88.38" text-anchor="end">3</text>
<text x="24.1" y="48.74" text-anchor="end">4</text>
<text x="24.1" y="9.10" text-anchor="end">5</text>
<text x="306.0" y="207.35">0.5</text>
<text x="306.0" y="167.71">0.6</text>
<text x="306.0" y="128.07">0.7</text>
<text x="306.0" y="88.43">0.8</text>
<text x="306.0" y="48.79">0.9</text>
<text x="306.0" y="9.15">1.0</text>
</g>
<text stroke="#000" stroke-width="0.3"><tspan x="118.20" y="235.60" font-size="13.90">Δ</tspan><tspan x="127.40" y="235.60" font-size="13.90" font-style="oblique">k</tspan><tspan x="135.40" y="237.88" font-size="7.51">⊥</tspan><tspan x="146.15" y="235.60" font-size="13.90">/</tspan><tspan x="152.65" y="235.60" font-size="13.90" font-style="oblique">k</tspan><tspan x="160.90" y="237.88" font-size="7.51">⊥</tspan><tspan x="169.40" y="237.88" font-size="9.73">,</tspan><tspan x="173.50" y="237.88" font-size="9.73" font-style="oblique">p</tspan></text>
<text transform="translate(6.5 108) rotate(-90)" font-size="13.9" font-style="oblique" stroke="#000" stroke-width="0.3">η</text>
<text transform="translate(340.1 107.8) rotate(-90)" font-size="13.9" font-style="oblique" stroke="#000" stroke-width="0.3">χ</text>
</svg></body></html>
